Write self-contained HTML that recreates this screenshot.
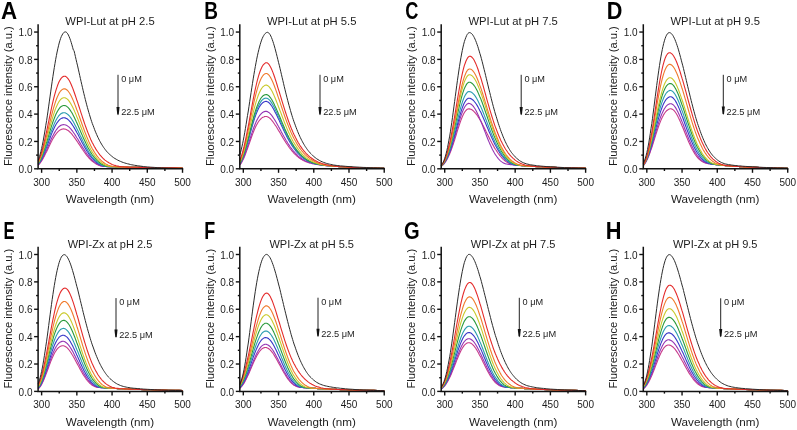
<!DOCTYPE html>
<html><head><meta charset="utf-8"><style>
html,body{margin:0;padding:0;background:#fff;}
svg{display:block;will-change:transform;}
text{font-family:'Liberation Sans',sans-serif;fill:#1c1c1c;}
</style></head><body>
<svg width="797" height="430" viewBox="0 0 797 430">
<rect width="797" height="430" fill="#fff"/>
<g><path d="M38.1,165.3 38.8,164.6 39.5,163.8 40.2,162.9 40.9,162 41.6,160.9 42.3,159.8 43,158.6 43.7,157.3 44.4,155.9 45.1,154.5 45.8,153.1 46.6,151.7 47.3,150.2 48,148.7 48.7,147.2 49.4,145.7 50.1,144.3 50.8,142.8 51.5,141.5 52.2,140.1 52.9,138.8 53.6,137.6 54.3,136.5 55,135.4 55.7,134.4 56.4,133.5 57.1,132.6 57.8,131.9 58.5,131.2 59.2,130.6 59.9,130.1 60.6,129.7 61.3,129.4 62.1,129.1 62.8,129 63.5,128.9 64.2,129 64.9,129.1 65.6,129.3 66.3,129.5 67,129.9 67.7,130.3 68.4,130.8 69.1,131.3 69.8,132 70.5,132.7 71.2,133.4 71.9,134.2 72.6,135.1 73.3,136 74,136.9 74.7,137.9 75.4,138.9 76.1,139.9 76.8,140.9 77.6,142 78.3,143.1 79,144.1 79.7,145.2 80.4,146.3 81.1,147.4 81.8,148.4 82.5,149.5 83.2,150.5 83.9,151.5 84.6,152.5 85.3,153.4 86,154.4 86.7,155.3 87.4,156.1 88.1,157 88.8,157.8 89.5,158.5 90.2,159.3 90.9,160 91.6,160.6 92.3,161.3 93.1,161.8 93.8,162.4 94.5,162.9 95.2,163.4 95.9,163.8 96.6,164.2 97.3,164.6 98,164.9 98.7,165.2 99.4,165.5 100.1,165.7 100.8,165.9 101.5,166.1 102.2,166.2 102.9,166.3 103.6,166.4 104.3,166.4 105,166.5 105.7,166.5 106.4,166.6 107.1,166.6 107.8,166.6 108.5,166.6 109.3,166.7 110,166.7 110.7,166.7 111.4,166.7 112.1,166.7 113.5,166.8 114.9,166.8 116.3,166.9 117.7,166.9 119.1,166.9 120.5,167 121.9,167 123.3,167 124.8,167.1 126.2,167.1 127.6,167.1 129,167.2 130.4,167.2 131.8,167.2 133.2,167.3 134.6,167.3 136,167.3 137.4,167.3 138.8,167.4 140.3,167.4 143.8,167.5 147.3,167.5 150.8,167.6 154.3,167.6 157.9,167.7 161.4,167.8 164.9,167.8 168.4,167.8 172,167.9 175.5,167.9 179,168 182.5,168" fill="none" stroke="#c83a8a" stroke-width="1.1" stroke-linejoin="round"/><path d="M38.1,165 38.8,164.2 39.5,163.3 40.2,162.3 40.9,161.3 41.6,160.1 42.3,158.9 43,157.5 43.7,156.1 44.4,154.6 45.1,153.1 45.8,151.5 46.6,149.9 47.3,148.3 48,146.6 48.7,145 49.4,143.3 50.1,141.7 50.8,140.1 51.5,138.6 52.2,137.1 52.9,135.7 53.6,134.4 54.3,133.1 55,131.9 55.7,130.8 56.4,129.7 57.1,128.8 57.8,127.9 58.5,127.2 59.2,126.5 59.9,126 60.6,125.5 61.3,125.1 62.1,124.9 62.8,124.7 63.5,124.6 64.2,124.7 64.9,124.8 65.6,125 66.3,125.2 67,125.6 67.7,126.1 68.4,126.6 69.1,127.2 69.8,127.9 70.5,128.6 71.2,129.4 71.9,130.3 72.6,131.2 73.3,132.2 74,133.2 74.7,134.3 75.4,135.4 76.1,136.5 76.8,137.7 77.6,138.8 78.3,140 79,141.2 79.7,142.4 80.4,143.6 81.1,144.8 81.8,145.9 82.5,147.1 83.2,148.2 83.9,149.3 84.6,150.4 85.3,151.5 86,152.5 86.7,153.5 87.4,154.5 88.1,155.4 88.8,156.3 89.5,157.2 90.2,158 90.9,158.8 91.6,159.5 92.3,160.2 93.1,160.9 93.8,161.5 94.5,162.1 95.2,162.6 95.9,163.1 96.6,163.6 97.3,164 98,164.4 98.7,164.8 99.4,165.1 100.1,165.4 100.8,165.6 101.5,165.8 102.2,166 102.9,166.2 103.6,166.3 104.3,166.4 105,166.4 105.7,166.5 106.4,166.5 107.1,166.6 107.8,166.6 108.5,166.6 109.3,166.7 110,166.7 110.7,166.7 111.4,166.7 112.1,166.7 113.5,166.8 114.9,166.8 116.3,166.9 117.7,166.9 119.1,166.9 120.5,167 121.9,167 123.3,167 124.8,167.1 126.2,167.1 127.6,167.1 129,167.2 130.4,167.2 131.8,167.2 133.2,167.3 134.6,167.3 136,167.3 137.4,167.3 138.8,167.4 140.3,167.4 143.8,167.5 147.3,167.5 150.8,167.6 154.3,167.6 157.9,167.7 161.4,167.8 164.9,167.8 168.4,167.8 172,167.9 175.5,167.9 179,168 182.5,168" fill="none" stroke="#9435b4" stroke-width="1.1" stroke-linejoin="round"/><path d="M38.1,164.4 38.8,163.5 39.5,162.5 40.2,161.4 40.9,160.2 41.6,158.9 42.3,157.5 43,155.9 43.7,154.3 44.4,152.6 45.1,150.8 45.8,149 46.6,147.2 47.3,145.3 48,143.4 48.7,141.5 49.4,139.6 50.1,137.7 50.8,135.9 51.5,134.1 52.2,132.4 52.9,130.8 53.6,129.2 54.3,127.7 55,126.3 55.7,125 56.4,123.8 57.1,122.7 57.8,121.8 58.5,120.9 59.2,120.1 59.9,119.4 60.6,118.9 61.3,118.4 62.1,118.1 62.8,117.9 63.5,117.8 64.2,117.8 64.9,117.9 65.6,118.1 66.3,118.4 67,118.8 67.7,119.3 68.4,119.9 69.1,120.6 69.8,121.4 70.5,122.2 71.2,123.1 71.9,124.1 72.6,125.2 73.3,126.3 74,127.4 74.7,128.6 75.4,129.9 76.1,131.1 76.8,132.5 77.6,133.8 78.3,135.1 79,136.5 79.7,137.8 80.4,139.2 81.1,140.5 81.8,141.9 82.5,143.2 83.2,144.5 83.9,145.8 84.6,147.1 85.3,148.3 86,149.5 86.7,150.6 87.4,151.8 88.1,152.8 88.8,153.9 89.5,154.9 90.2,155.8 90.9,156.7 91.6,157.6 92.3,158.4 93.1,159.2 93.8,159.9 94.5,160.6 95.2,161.3 95.9,161.9 96.6,162.5 97.3,163 98,163.5 98.7,163.9 99.4,164.3 100.1,164.7 100.8,165 101.5,165.3 102.2,165.6 102.9,165.8 103.6,166 104.3,166.2 105,166.3 105.7,166.4 106.4,166.5 107.1,166.5 107.8,166.6 108.5,166.6 109.3,166.6 110,166.7 110.7,166.7 111.4,166.7 112.1,166.7 113.5,166.8 114.9,166.8 116.3,166.9 117.7,166.9 119.1,166.9 120.5,167 121.9,167 123.3,167 124.8,167.1 126.2,167.1 127.6,167.1 129,167.2 130.4,167.2 131.8,167.2 133.2,167.3 134.6,167.3 136,167.3 137.4,167.3 138.8,167.4 140.3,167.4 143.8,167.5 147.3,167.5 150.8,167.6 154.3,167.6 157.9,167.7 161.4,167.8 164.9,167.8 168.4,167.8 172,167.9 175.5,167.9 179,168 182.5,168" fill="none" stroke="#3737c8" stroke-width="1.1" stroke-linejoin="round"/><path d="M38.1,164 38.8,163.1 39.5,162 40.2,160.8 40.9,159.4 41.6,158 42.3,156.4 43,154.8 43.7,153 44.4,151.1 45.1,149.2 45.8,147.2 46.6,145.2 47.3,143.1 48,141 48.7,138.9 49.4,136.8 50.1,134.8 50.8,132.8 51.5,130.8 52.2,129 52.9,127.2 53.6,125.4 54.3,123.8 55,122.3 55.7,120.8 56.4,119.5 57.1,118.3 57.8,117.2 58.5,116.2 59.2,115.4 59.9,114.6 60.6,114 61.3,113.5 62.1,113.1 62.8,112.9 63.5,112.8 64.2,112.7 64.9,112.8 65.6,113.1 66.3,113.4 67,113.8 67.7,114.4 68.4,115 69.1,115.7 69.8,116.5 70.5,117.4 71.2,118.4 71.9,119.5 72.6,120.6 73.3,121.8 74,123.1 74.7,124.4 75.4,125.7 76.1,127.1 76.8,128.5 77.6,130 78.3,131.4 79,132.9 79.7,134.4 80.4,135.9 81.1,137.3 81.8,138.8 82.5,140.3 83.2,141.7 83.9,143.1 84.6,144.5 85.3,145.8 86,147.1 86.7,148.4 87.4,149.6 88.1,150.8 88.8,152 89.5,153.1 90.2,154.1 90.9,155.1 91.6,156.1 92.3,157 93.1,157.9 93.8,158.7 94.5,159.5 95.2,160.2 95.9,160.9 96.6,161.5 97.3,162.1 98,162.7 98.7,163.2 99.4,163.7 100.1,164.1 100.8,164.5 101.5,164.9 102.2,165.2 102.9,165.5 103.6,165.7 104.3,165.9 105,166.1 105.7,166.2 106.4,166.4 107.1,166.4 107.8,166.5 108.5,166.6 109.3,166.6 110,166.7 110.7,166.7 111.4,166.7 112.1,166.7 113.5,166.8 114.9,166.8 116.3,166.9 117.7,166.9 119.1,166.9 120.5,167 121.9,167 123.3,167 124.8,167.1 126.2,167.1 127.6,167.1 129,167.2 130.4,167.2 131.8,167.2 133.2,167.3 134.6,167.3 136,167.3 137.4,167.3 138.8,167.4 140.3,167.4 143.8,167.5 147.3,167.5 150.8,167.6 154.3,167.6 157.9,167.7 161.4,167.8 164.9,167.8 168.4,167.8 172,167.9 175.5,167.9 179,168 182.5,168" fill="none" stroke="#2b9db0" stroke-width="1.1" stroke-linejoin="round"/><path d="M38.1,163.5 38.8,162.4 39.5,161.2 40.2,159.9 40.9,158.4 41.6,156.8 42.3,155 43,153.1 43.7,151.1 44.4,149.1 45.1,146.9 45.8,144.6 46.6,142.3 47.3,140 48,137.7 48.7,135.3 49.4,133 50.1,130.7 50.8,128.4 51.5,126.2 52.2,124.1 52.9,122 53.6,120.1 54.3,118.2 55,116.5 55.7,114.8 56.4,113.3 57.1,111.9 57.8,110.7 58.5,109.6 59.2,108.6 59.9,107.7 60.6,107 61.3,106.4 62.1,106 62.8,105.7 63.5,105.5 64.2,105.5 64.9,105.6 65.6,105.8 66.3,106.1 67,106.6 67.7,107.2 68.4,107.9 69.1,108.7 69.8,109.6 70.5,110.6 71.2,111.7 71.9,112.8 72.6,114.1 73.3,115.4 74,116.8 74.7,118.2 75.4,119.7 76.1,121.3 76.8,122.8 77.6,124.5 78.3,126.1 79,127.7 79.7,129.4 80.4,131 81.1,132.7 81.8,134.3 82.5,135.9 83.2,137.5 83.9,139.1 84.6,140.6 85.3,142.1 86,143.6 86.7,145 87.4,146.4 88.1,147.8 88.8,149 89.5,150.3 90.2,151.5 90.9,152.6 91.6,153.7 92.3,154.8 93.1,155.8 93.8,156.7 94.5,157.6 95.2,158.4 95.9,159.2 96.6,160 97.3,160.7 98,161.3 98.7,162 99.4,162.5 100.1,163 100.8,163.5 101.5,164 102.2,164.4 102.9,164.8 103.6,165.1 104.3,165.4 105,165.6 105.7,165.9 106.4,166.1 107.1,166.2 107.8,166.3 108.5,166.5 109.3,166.5 110,166.6 110.7,166.6 111.4,166.7 112.1,166.7 113.5,166.8 114.9,166.8 116.3,166.9 117.7,166.9 119.1,166.9 120.5,167 121.9,167 123.3,167 124.8,167.1 126.2,167.1 127.6,167.1 129,167.2 130.4,167.2 131.8,167.2 133.2,167.3 134.6,167.3 136,167.3 137.4,167.3 138.8,167.4 140.3,167.4 143.8,167.5 147.3,167.5 150.8,167.6 154.3,167.6 157.9,167.7 161.4,167.8 164.9,167.8 168.4,167.8 172,167.9 175.5,167.9 179,168 182.5,168" fill="none" stroke="#2a9a3c" stroke-width="1.1" stroke-linejoin="round"/><path d="M38.1,163 38.8,161.8 39.5,160.4 40.2,158.9 40.9,157.3 41.6,155.5 42.3,153.5 43,151.4 43.7,149.2 44.4,146.9 45.1,144.4 45.8,141.9 46.6,139.4 47.3,136.8 48,134.1 48.7,131.5 49.4,128.9 50.1,126.3 50.8,123.7 51.5,121.3 52.2,118.9 52.9,116.6 53.6,114.4 54.3,112.3 55,110.3 55.7,108.4 56.4,106.7 57.1,105.2 57.8,103.7 58.5,102.5 59.2,101.3 59.9,100.4 60.6,99.5 61.3,98.9 62.1,98.3 62.8,98 63.5,97.8 64.2,97.7 64.9,97.8 65.6,98 66.3,98.4 67,98.9 67.7,99.5 68.4,100.2 69.1,101.1 69.8,102.1 70.5,103.2 71.2,104.4 71.9,105.7 72.6,107 73.3,108.5 74,110 74.7,111.6 75.4,113.3 76.1,114.9 76.8,116.7 77.6,118.5 78.3,120.2 79,122 79.7,123.9 80.4,125.7 81.1,127.5 81.8,129.3 82.5,131.1 83.2,132.9 83.9,134.6 84.6,136.3 85.3,138 86,139.6 86.7,141.2 87.4,142.7 88.1,144.2 88.8,145.7 89.5,147.1 90.2,148.4 90.9,149.7 91.6,150.9 92.3,152.1 93.1,153.2 93.8,154.3 94.5,155.3 95.2,156.3 95.9,157.2 96.6,158.1 97.3,158.9 98,159.6 98.7,160.3 99.4,161 100.1,161.6 100.8,162.2 101.5,162.8 102.2,163.3 102.9,163.7 103.6,164.1 104.3,164.5 105,164.9 105.7,165.2 106.4,165.5 107.1,165.7 107.8,165.9 108.5,166.1 109.3,166.3 110,166.4 110.7,166.5 111.4,166.6 112.1,166.6 113.5,166.7 114.9,166.8 116.3,166.9 117.7,166.9 119.1,166.9 120.5,167 121.9,167 123.3,167 124.8,167.1 126.2,167.1 127.6,167.1 129,167.2 130.4,167.2 131.8,167.2 133.2,167.3 134.6,167.3 136,167.3 137.4,167.3 138.8,167.4 140.3,167.4 143.8,167.5 147.3,167.5 150.8,167.6 154.3,167.6 157.9,167.7 161.4,167.8 164.9,167.8 168.4,167.8 172,167.9 175.5,167.9 179,168 182.5,168" fill="none" stroke="#c9c92a" stroke-width="1.1" stroke-linejoin="round"/><path d="M38.1,162.4 38.8,161 39.5,159.5 40.2,157.9 40.9,156 41.6,154 42.3,151.8 43,149.5 43.7,147 44.4,144.5 45.1,141.7 45.8,138.9 46.6,136.1 47.3,133.1 48,130.2 48.7,127.2 49.4,124.3 50.1,121.4 50.8,118.5 51.5,115.7 52.2,113 52.9,110.4 53.6,107.9 54.3,105.6 55,103.3 55.7,101.2 56.4,99.3 57.1,97.5 57.8,95.9 58.5,94.4 59.2,93.1 59.9,92 60.6,91 61.3,90.3 62.1,89.6 62.8,89.2 63.5,88.9 64.2,88.8 64.9,88.9 65.6,89.1 66.3,89.5 67,90 67.7,90.7 68.4,91.5 69.1,92.5 69.8,93.5 70.5,94.8 71.2,96.1 71.9,97.5 72.6,99 73.3,100.6 74,102.3 74.7,104.1 75.4,105.9 76.1,107.8 76.8,109.7 77.6,111.6 78.3,113.6 79,115.6 79.7,117.5 80.4,119.5 81.1,121.5 81.8,123.5 82.5,125.5 83.2,127.4 83.9,129.3 84.6,131.2 85.3,133 86,134.8 86.7,136.6 87.4,138.3 88.1,139.9 88.8,141.5 89.5,143 90.2,144.5 90.9,146 91.6,147.3 92.3,148.7 93.1,149.9 93.8,151.1 94.5,152.3 95.2,153.4 95.9,154.4 96.6,155.4 97.3,156.3 98,157.2 98.7,158 99.4,158.8 100.1,159.5 100.8,160.2 101.5,160.8 102.2,161.5 102.9,162 103.6,162.5 104.3,163 105,163.5 105.7,163.9 106.4,164.3 107.1,164.6 107.8,165 108.5,165.3 109.3,165.5 110,165.7 110.7,166 111.4,166.1 112.1,166.3 113.5,166.5 114.9,166.7 116.3,166.8 117.7,166.9 119.1,166.9 120.5,167 121.9,167 123.3,167 124.8,167.1 126.2,167.1 127.6,167.1 129,167.2 130.4,167.2 131.8,167.2 133.2,167.3 134.6,167.3 136,167.3 137.4,167.3 138.8,167.4 140.3,167.4 143.8,167.5 147.3,167.5 150.8,167.6 154.3,167.6 157.9,167.7 161.4,167.8 164.9,167.8 168.4,167.8 172,167.9 175.5,167.9 179,168 182.5,168" fill="none" stroke="#f07a2c" stroke-width="1.1" stroke-linejoin="round"/><path d="M38.1,161.5 38.8,160 39.5,158.3 40.2,156.5 40.9,154.4 41.6,152.1 42.3,149.6 43,146.9 43.7,144.1 44.4,141.1 45.1,138 45.8,134.8 46.6,131.5 47.3,128.1 48,124.7 48.7,121.3 49.4,117.9 50.1,114.6 50.8,111.3 51.5,108 52.2,104.9 52.9,101.8 53.6,98.9 54.3,96.2 55,93.6 55.7,91.1 56.4,88.9 57.1,86.8 57.8,84.8 58.5,83.1 59.2,81.6 59.9,80.2 60.6,79.1 61.3,78.1 62.1,77.3 62.8,76.8 63.5,76.4 64.2,76.2 64.9,76.2 65.6,76.4 66.3,76.9 67,77.5 67.7,78.3 68.4,79.2 69.1,80.3 69.8,81.6 70.5,83 71.2,84.5 71.9,86.2 72.6,87.9 73.3,89.8 74,91.7 74.7,93.7 75.4,95.7 76.1,97.8 76.8,100 77.6,102.1 78.3,104.3 79,106.5 79.7,108.7 80.4,110.9 81.1,113.1 81.8,115.2 82.5,117.4 83.2,119.5 83.9,121.5 84.6,123.6 85.3,125.6 86,127.5 86.7,129.4 87.4,131.3 88.1,133.1 88.8,134.8 89.5,136.5 90.2,138.1 90.9,139.7 91.6,141.2 92.3,142.7 93.1,144.1 93.8,145.4 94.5,146.7 95.2,147.9 95.9,149.1 96.6,150.2 97.3,151.3 98,152.3 98.7,153.3 99.4,154.2 100.1,155.1 100.8,155.9 101.5,156.7 102.2,157.5 102.9,158.2 103.6,158.8 104.3,159.5 105,160.1 105.7,160.6 106.4,161.1 107.1,161.6 107.8,162.1 108.5,162.5 109.3,163 110,163.3 110.7,163.7 111.4,164 112.1,164.4 113.5,164.9 114.9,165.4 116.3,165.8 117.7,166.1 119.1,166.4 120.5,166.6 121.9,166.8 123.3,166.9 124.8,167 126.2,167.1 127.6,167.1 129,167.2 130.4,167.2 131.8,167.2 133.2,167.3 134.6,167.3 136,167.3 137.4,167.3 138.8,167.4 140.3,167.4 143.8,167.5 147.3,167.5 150.8,167.6 154.3,167.6 157.9,167.7 161.4,167.8 164.9,167.8 168.4,167.8 172,167.9 175.5,167.9 179,168 182.5,168" fill="none" stroke="#e42b2b" stroke-width="1.1" stroke-linejoin="round"/><path d="M38.1,160.4 38.8,158.6 39.5,156.5 40.2,154.1 40.9,151.5 41.6,148.5 42.3,145.3 43,141.8 43.7,138 44.4,134 45.1,129.8 45.8,125.3 46.6,120.7 47.3,115.9 48,111.1 48.7,106.1 49.4,101.1 50.1,96.1 50.8,91.1 51.5,86.1 52.2,81.3 52.9,76.6 53.6,72 54.3,67.6 55,63.4 55.7,59.3 56.4,55.6 57.1,52 57.8,48.8 58.5,45.8 59.2,43 59.9,40.6 60.6,38.4 61.3,36.6 62.1,35 62.8,33.8 63.5,32.9 64.2,32.2 64.9,31.9 65.6,31.9 66.3,32.2 67,32.8 67.7,33.8 68.4,35 69.1,36.6 69.8,38.3 70.5,40.3 71.2,42.4 71.9,44.8 72.6,47.3 73.3,49.9 74,50.5 74.7,53.5 75.4,56.5 76.1,59.6 76.8,62.7 77.6,65.9 78.3,69.1 79,72.2 79.7,75.4 80.4,78.5 81.1,81.6 81.8,84.7 82.5,87.7 83.2,90.7 83.9,93.7 84.6,96.5 85.3,99.4 86,102.1 86.7,104.8 87.4,107.4 88.1,109.9 88.8,112.4 89.5,114.7 90.2,117 90.9,119.3 91.6,121.4 92.3,123.5 93.1,125.5 93.8,127.4 94.5,129.3 95.2,131.1 95.9,132.8 96.6,134.4 97.3,136 98,137.5 98.7,138.9 99.4,140.3 100.1,141.6 100.8,142.9 101.5,144.1 102.2,145.2 102.9,146.3 103.6,147.4 104.3,148.3 105,149.3 105.7,150.2 106.4,151 107.1,151.9 107.8,152.6 108.5,153.4 109.3,154.1 110,154.7 110.7,155.3 111.4,155.9 112.1,156.5 113.5,157.6 114.9,158.5 116.3,159.3 117.7,160.1 119.1,160.8 120.5,161.4 121.9,162 123.3,162.5 124.8,163 126.2,163.4 127.6,163.8 129,164.1 130.4,164.5 131.8,164.8 133.2,165 134.6,165.3 136,165.5 137.4,165.7 138.8,165.9 140.3,166.1 143.8,166.6 147.3,166.9 150.8,167.2 154.3,167.4 157.9,167.7 161.4,167.8 164.9,168 168.4,168.1 172,168.2 175.5,168.3 179,168.4 182.5,168.4" fill="none" stroke="#2c2c2c" stroke-width="1.0" stroke-linejoin="round"/><path d="M38.10,24.20V168.80H183.22" fill="none" stroke="#111" stroke-width="1.5" stroke-linecap="butt"/><path d="M34.10,168.80H38.10" stroke="#111" stroke-width="1.4"/><text x="32.50" y="172.90" text-anchor="end" font-size="10">0.0</text><path d="M36.10,155.12H38.10" stroke="#111" stroke-width="1.4"/><path d="M34.10,141.45H38.10" stroke="#111" stroke-width="1.4"/><text x="32.50" y="145.55" text-anchor="end" font-size="10">0.2</text><path d="M36.10,127.78H38.10" stroke="#111" stroke-width="1.4"/><path d="M34.10,114.10H38.10" stroke="#111" stroke-width="1.4"/><text x="32.50" y="118.20" text-anchor="end" font-size="10">0.4</text><path d="M36.10,100.43H38.10" stroke="#111" stroke-width="1.4"/><path d="M34.10,86.75H38.10" stroke="#111" stroke-width="1.4"/><text x="32.50" y="90.85" text-anchor="end" font-size="10">0.6</text><path d="M36.10,73.08H38.10" stroke="#111" stroke-width="1.4"/><path d="M34.10,59.40H38.10" stroke="#111" stroke-width="1.4"/><text x="32.50" y="63.50" text-anchor="end" font-size="10">0.8</text><path d="M36.10,45.73H38.10" stroke="#111" stroke-width="1.4"/><path d="M34.10,32.05H38.10" stroke="#111" stroke-width="1.4"/><text x="32.50" y="36.15" text-anchor="end" font-size="10">1.0</text><path d="M41.62,168.80V172.80" stroke="#111" stroke-width="1.4"/><text x="41.62" y="185.70" text-anchor="middle" font-size="10">300</text><path d="M59.23,168.80V171.00" stroke="#111" stroke-width="1.4"/><path d="M76.85,168.80V172.80" stroke="#111" stroke-width="1.4"/><text x="76.85" y="185.70" text-anchor="middle" font-size="10">350</text><path d="M94.46,168.80V171.00" stroke="#111" stroke-width="1.4"/><path d="M112.07,168.80V172.80" stroke="#111" stroke-width="1.4"/><text x="112.07" y="185.70" text-anchor="middle" font-size="10">400</text><path d="M129.69,168.80V171.00" stroke="#111" stroke-width="1.4"/><path d="M147.30,168.80V172.80" stroke="#111" stroke-width="1.4"/><text x="147.30" y="185.70" text-anchor="middle" font-size="10">450</text><path d="M164.91,168.80V171.00" stroke="#111" stroke-width="1.4"/><path d="M182.52,168.80V172.80" stroke="#111" stroke-width="1.4"/><text x="182.52" y="185.70" text-anchor="middle" font-size="10">500</text><text x="110.01" y="203.20" text-anchor="middle" font-size="11" textLength="88.4" lengthAdjust="spacingAndGlyphs">Wavelength (nm)</text><text x="110.01" y="25.10" text-anchor="middle" font-size="11" textLength="89.4" lengthAdjust="spacingAndGlyphs">WPI-Lut at pH 2.5</text><text transform="translate(12.20,96.10) rotate(-90)" text-anchor="middle" font-size="11" textLength="139.8" lengthAdjust="spacingAndGlyphs">Fluorescence intensity (a.u.)</text><text transform="translate(1.04,18.50) scale(0.951,1)" font-size="23.5" font-weight="bold" style="fill:#000">A</text><path d="M118.00,74.80V109.20" stroke="#222" stroke-width="1"/><path d="M116.45,106.90L119.55,106.90L118.80,114.00L118.00,115.20L117.20,114.00Z" fill="#111"/><text x="121.20" y="81.70" font-size="9" textLength="20.6" lengthAdjust="spacingAndGlyphs">0 μM</text><text x="121.20" y="115.20" font-size="9" textLength="33.6" lengthAdjust="spacingAndGlyphs">22.5 μM</text></g><g><path d="M239.8,165 240.5,164.1 241.2,163.1 241.9,161.9 242.6,160.6 243.3,159.2 244,157.7 244.7,156 245.4,154.2 246.1,152.4 246.8,150.4 247.5,148.5 248.3,146.4 249,144.4 249.7,142.3 250.4,140.3 251.1,138.3 251.8,136.3 252.5,134.4 253.2,132.6 253.9,130.8 254.6,129.1 255.3,127.6 256,126.1 256.7,124.7 257.4,123.5 258.1,122.3 258.8,121.3 259.5,120.3 260.2,119.5 260.9,118.8 261.6,118.1 262.3,117.6 263,117.2 263.8,116.9 264.5,116.6 265.2,116.5 265.9,116.5 266.6,116.5 267.3,116.7 268,117 268.7,117.4 269.4,117.9 270.1,118.5 270.8,119.2 271.5,120 272.2,120.8 272.9,121.7 273.6,122.7 274.3,123.7 275,124.8 275.7,125.7 276.4,126.8 277.1,128 277.8,129.2 278.5,130.4 279.3,131.6 280,132.8 280.7,134 281.4,135.2 282.1,136.4 282.8,137.6 283.5,138.7 284.2,139.9 284.9,141 285.6,142.1 286.3,143.2 287,144.3 287.7,145.3 288.4,146.3 289.1,147.3 289.8,148.2 290.5,149.2 291.2,150 291.9,150.9 292.6,151.7 293.3,152.5 294,153.3 294.8,154 295.5,154.7 296.2,155.4 296.9,156 297.6,156.6 298.3,157.2 299,157.7 299.7,158.2 300.4,158.7 301.1,159.2 301.8,159.6 302.5,160 303.2,160.4 303.9,160.7 304.6,161.1 305.3,161.4 306,161.7 306.7,161.9 307.4,162.2 308.1,162.4 308.8,162.7 309.5,162.9 310.2,163 311,163.2 311.7,163.4 312.4,163.6 313.1,163.7 313.8,163.8 315.2,164.1 316.6,164.3 318,164.6 319.4,164.8 320.8,164.9 322.2,165.1 323.6,165.3 325,165.4 326.5,165.6 327.9,165.7 329.3,165.9 330.7,166 332.1,166.1 333.5,166.2 334.9,166.3 336.3,166.4 337.7,166.5 339.1,166.6 340.5,166.7 342,166.8 345.5,167 349,167.2 352.5,167.4 356,167.5 359.6,167.7 363.1,167.8 366.6,167.9 370.1,168 373.7,168.1 377.2,168.1 380.7,168.2 384.2,168.3" fill="none" stroke="#c83a8a" stroke-width="1.1" stroke-linejoin="round"/><path d="M239.8,164.6 240.5,163.6 241.2,162.5 241.9,161.3 242.6,159.9 243.3,158.3 244,156.6 244.7,154.8 245.4,152.9 246.1,150.9 246.8,148.8 247.5,146.6 248.3,144.4 249,142.2 249.7,139.9 250.4,137.7 251.1,135.5 251.8,133.4 252.5,131.3 253.2,129.3 253.9,127.3 254.6,125.5 255.3,123.8 256,122.1 256.7,120.6 257.4,119.2 258.1,117.9 258.8,116.8 259.5,115.7 260.2,114.8 260.9,114 261.6,113.3 262.3,112.7 263,112.2 263.8,111.8 264.5,111.6 265.2,111.4 265.9,111.4 266.6,111.4 267.3,111.6 268,112 268.7,112.4 269.4,112.9 270.1,113.6 270.8,114.4 271.5,115.2 272.2,116.1 272.9,117.1 273.6,118.2 274.3,119.3 275,120.4 275.7,121.5 276.4,122.7 277.1,124 277.8,125.3 278.5,126.6 279.3,127.9 280,129.2 280.7,130.5 281.4,131.9 282.1,133.2 282.8,134.5 283.5,135.7 284.2,137 284.9,138.2 285.6,139.5 286.3,140.7 287,141.8 287.7,143 288.4,144.1 289.1,145.1 289.8,146.2 290.5,147.2 291.2,148.2 291.9,149.1 292.6,150 293.3,150.9 294,151.7 294.8,152.5 295.5,153.3 296.2,154 296.9,154.7 297.6,155.4 298.3,156.1 299,156.7 299.7,157.2 300.4,157.8 301.1,158.3 301.8,158.8 302.5,159.3 303.2,159.7 303.9,160.1 304.6,160.5 305.3,160.9 306,161.2 306.7,161.5 307.4,161.8 308.1,162.1 308.8,162.4 309.5,162.6 310.2,162.8 311,163 311.7,163.2 312.4,163.4 313.1,163.6 313.8,163.7 315.2,164 316.6,164.3 318,164.5 319.4,164.7 320.8,164.9 322.2,165.1 323.6,165.3 325,165.4 326.5,165.6 327.9,165.7 329.3,165.9 330.7,166 332.1,166.1 333.5,166.2 334.9,166.3 336.3,166.4 337.7,166.5 339.1,166.6 340.5,166.7 342,166.8 345.5,167 349,167.2 352.5,167.4 356,167.5 359.6,167.7 363.1,167.8 366.6,167.9 370.1,168 373.7,168.1 377.2,168.1 380.7,168.2 384.2,168.3" fill="none" stroke="#9435b4" stroke-width="1.1" stroke-linejoin="round"/><path d="M239.8,163.8 240.5,162.7 241.2,161.4 241.9,159.9 242.6,158.3 243.3,156.5 244,154.6 244.7,152.5 245.4,150.3 246.1,148 246.8,145.6 247.5,143.1 248.3,140.5 249,137.9 249.7,135.3 250.4,132.7 251.1,130.2 251.8,127.7 252.5,125.2 253.2,122.9 253.9,120.6 254.6,118.4 255.3,116.4 256,114.4 256.7,112.6 257.4,111 258.1,109.4 258.8,108 259.5,106.8 260.2,105.6 260.9,104.7 261.6,103.8 262.3,103.1 263,102.5 263.8,102 264.5,101.7 265.2,101.5 265.9,101.4 266.6,101.4 267.3,101.7 268,102 268.7,102.5 269.4,103.1 270.1,103.9 270.8,104.8 271.5,105.8 272.2,106.8 272.9,108 273.6,109.2 274.3,110.5 275,111.9 275.7,113.2 276.4,114.6 277.1,116.1 277.8,117.6 278.5,119.1 279.3,120.6 280,122.2 280.7,123.7 281.4,125.3 282.1,126.8 282.8,128.3 283.5,129.8 284.2,131.3 284.9,132.7 285.6,134.1 286.3,135.5 287,136.9 287.7,138.2 288.4,139.5 289.1,140.8 289.8,142 290.5,143.2 291.2,144.3 291.9,145.4 292.6,146.5 293.3,147.5 294,148.5 294.8,149.5 295.5,150.4 296.2,151.3 296.9,152.1 297.6,152.9 298.3,153.7 299,154.4 299.7,155.1 300.4,155.8 301.1,156.4 301.8,157 302.5,157.6 303.2,158.1 303.9,158.7 304.6,159.1 305.3,159.6 306,160 306.7,160.5 307.4,160.8 308.1,161.2 308.8,161.5 309.5,161.8 310.2,162.1 311,162.4 311.7,162.7 312.4,162.9 313.1,163.1 313.8,163.4 315.2,163.7 316.6,164.1 318,164.3 319.4,164.6 320.8,164.8 322.2,165 323.6,165.2 325,165.4 326.5,165.6 327.9,165.7 329.3,165.8 330.7,166 332.1,166.1 333.5,166.2 334.9,166.3 336.3,166.4 337.7,166.5 339.1,166.6 340.5,166.7 342,166.8 345.5,167 349,167.2 352.5,167.4 356,167.5 359.6,167.7 363.1,167.8 366.6,167.9 370.1,168 373.7,168.1 377.2,168.1 380.7,168.2 384.2,168.3" fill="none" stroke="#3737c8" stroke-width="1.1" stroke-linejoin="round"/><path d="M239.8,163.6 240.5,162.4 241.2,161 241.9,159.5 242.6,157.8 243.3,156 244,153.9 244.7,151.8 245.4,149.5 246.1,147 246.8,144.5 247.5,141.9 248.3,139.2 249,136.5 249.7,133.8 250.4,131.1 251.1,128.4 251.8,125.8 252.5,123.3 253.2,120.8 253.9,118.4 254.6,116.1 255.3,114 256,111.9 256.7,110 257.4,108.3 258.1,106.7 258.8,105.2 259.5,103.9 260.2,102.7 260.9,101.6 261.6,100.7 262.3,99.9 263,99.3 263.8,98.8 264.5,98.4 265.2,98.2 265.9,98.1 266.6,98.2 267.3,98.4 268,98.7 268.7,99.3 269.4,99.9 270.1,100.7 270.8,101.6 271.5,102.6 272.2,103.8 272.9,105 273.6,106.3 274.3,107.6 275,109 275.7,110.4 276.4,111.9 277.1,113.5 277.8,115.1 278.5,116.6 279.3,118.2 280,119.9 280.7,121.5 281.4,123.1 282.1,124.7 282.8,126.2 283.5,127.8 284.2,129.3 284.9,130.9 285.6,132.4 286.3,133.8 287,135.2 287.7,136.6 288.4,138 289.1,139.3 289.8,140.6 290.5,141.8 291.2,143 291.9,144.2 292.6,145.3 293.3,146.4 294,147.4 294.8,148.4 295.5,149.4 296.2,150.3 296.9,151.2 297.6,152 298.3,152.8 299,153.6 299.7,154.4 300.4,155.1 301.1,155.7 301.8,156.4 302.5,157 303.2,157.6 303.9,158.1 304.6,158.6 305.3,159.1 306,159.6 306.7,160 307.4,160.4 308.1,160.8 308.8,161.2 309.5,161.5 310.2,161.9 311,162.2 311.7,162.4 312.4,162.7 313.1,162.9 313.8,163.2 315.2,163.6 316.6,163.9 318,164.3 319.4,164.5 320.8,164.8 322.2,165 323.6,165.2 325,165.4 326.5,165.5 327.9,165.7 329.3,165.8 330.7,166 332.1,166.1 333.5,166.2 334.9,166.3 336.3,166.4 337.7,166.5 339.1,166.6 340.5,166.7 342,166.8 345.5,167 349,167.2 352.5,167.4 356,167.5 359.6,167.7 363.1,167.8 366.6,167.9 370.1,168 373.7,168.1 377.2,168.1 380.7,168.2 384.2,168.3" fill="none" stroke="#2b9db0" stroke-width="1.1" stroke-linejoin="round"/><path d="M239.8,163.3 240.5,162 241.2,160.6 241.9,159 242.6,157.3 243.3,155.3 244,153.2 244.7,151 245.4,148.5 246.1,146 246.8,143.4 247.5,140.7 248.3,137.9 249,135.1 249.7,132.2 250.4,129.4 251.1,126.6 251.8,123.8 252.5,121.2 253.2,118.6 253.9,116 254.6,113.7 255.3,111.4 256,109.2 256.7,107.2 257.4,105.4 258.1,103.7 258.8,102.1 259.5,100.7 260.2,99.4 260.9,98.3 261.6,97.3 262.3,96.5 263,95.8 263.8,95.3 264.5,94.9 265.2,94.7 265.9,94.6 266.6,94.6 267.3,94.8 268,95.2 268.7,95.7 269.4,96.4 270.1,97.3 270.8,98.2 271.5,99.3 272.2,100.4 272.9,101.7 273.6,103.1 274.3,104.5 275,106 275.7,107.4 276.4,109 277.1,110.6 277.8,112.3 278.5,114 279.3,115.6 280,117.3 280.7,119 281.4,120.7 282.1,122.4 282.8,124 283.5,125.7 284.2,127.3 284.9,128.9 285.6,130.4 286.3,131.9 287,133.4 287.7,134.9 288.4,136.3 289.1,137.7 289.8,139 290.5,140.3 291.2,141.6 291.9,142.8 292.6,144 293.3,145.1 294,146.2 294.8,147.3 295.5,148.3 296.2,149.2 296.9,150.2 297.6,151.1 298.3,151.9 299,152.7 299.7,153.5 300.4,154.3 301.1,155 301.8,155.7 302.5,156.3 303.2,156.9 303.9,157.5 304.6,158.1 305.3,158.6 306,159.1 306.7,159.5 307.4,160 308.1,160.4 308.8,160.8 309.5,161.2 310.2,161.5 311,161.8 311.7,162.2 312.4,162.4 313.1,162.7 313.8,163 315.2,163.4 316.6,163.8 318,164.1 319.4,164.4 320.8,164.7 322.2,164.9 323.6,165.2 325,165.3 326.5,165.5 327.9,165.7 329.3,165.8 330.7,166 332.1,166.1 333.5,166.2 334.9,166.3 336.3,166.4 337.7,166.5 339.1,166.6 340.5,166.7 342,166.8 345.5,167 349,167.2 352.5,167.4 356,167.5 359.6,167.7 363.1,167.8 366.6,167.9 370.1,168 373.7,168.1 377.2,168.1 380.7,168.2 384.2,168.3" fill="none" stroke="#2a9a3c" stroke-width="1.1" stroke-linejoin="round"/><path d="M239.8,162.5 240.5,161.1 241.2,159.5 241.9,157.7 242.6,155.8 243.3,153.6 244,151.3 244.7,148.8 245.4,146.1 246.1,143.3 246.8,140.4 247.5,137.4 248.3,134.3 249,131.2 249.7,128 250.4,124.9 251.1,121.7 251.8,118.7 252.5,115.7 253.2,112.7 253.9,109.9 254.6,107.2 255.3,104.6 256,102.2 256.7,99.9 257.4,97.8 258.1,95.8 258.8,94 259.5,92.4 260.2,90.9 260.9,89.6 261.6,88.5 262.3,87.5 263,86.7 263.8,86.1 264.5,85.6 265.2,85.3 265.9,85.1 266.6,85.1 267.3,85.4 268,85.8 268.7,86.4 269.4,87.1 270.1,88.1 270.8,89.1 271.5,90.3 272.2,91.6 272.9,93 273.6,94.5 274.3,96.1 275,97.8 275.7,99.5 276.4,101.3 277.1,103.1 277.8,104.9 278.5,106.8 279.3,108.7 280,110.6 280.7,112.4 281.4,114.3 282.1,116.2 282.8,118 283.5,119.9 284.2,121.7 284.9,123.5 285.6,125.2 286.3,126.9 287,128.6 287.7,130.2 288.4,131.8 289.1,133.3 289.8,134.8 290.5,136.3 291.2,137.7 291.9,139.1 292.6,140.4 293.3,141.7 294,142.9 294.8,144.1 295.5,145.2 296.2,146.3 296.9,147.4 297.6,148.4 298.3,149.3 299,150.3 299.7,151.2 300.4,152 301.1,152.8 301.8,153.6 302.5,154.3 303.2,155.1 303.9,155.7 304.6,156.4 305.3,157 306,157.6 306.7,158.1 307.4,158.6 308.1,159.1 308.8,159.6 309.5,160 310.2,160.5 311,160.8 311.7,161.2 312.4,161.6 313.1,161.9 313.8,162.2 315.2,162.8 316.6,163.3 318,163.7 319.4,164.1 320.8,164.4 322.2,164.7 323.6,165 325,165.2 326.5,165.4 327.9,165.6 329.3,165.8 330.7,165.9 332.1,166.1 333.5,166.2 334.9,166.3 336.3,166.4 337.7,166.5 339.1,166.6 340.5,166.7 342,166.8 345.5,167 349,167.2 352.5,167.4 356,167.5 359.6,167.7 363.1,167.8 366.6,167.9 370.1,168 373.7,168.1 377.2,168.1 380.7,168.2 384.2,168.3" fill="none" stroke="#c9c92a" stroke-width="1.1" stroke-linejoin="round"/><path d="M239.8,161.4 240.5,159.9 241.2,158.1 241.9,156.1 242.6,153.9 243.3,151.5 244,148.9 244.7,146.1 245.4,143.2 246.1,140.1 246.8,136.8 247.5,133.5 248.3,130 249,126.5 249.7,123 250.4,119.4 251.1,115.9 251.8,112.5 252.5,109 253.2,105.7 253.9,102.5 254.6,99.4 255.3,96.5 256,93.7 256.7,91 257.4,88.6 258.1,86.3 258.8,84.2 259.5,82.3 260.2,80.5 260.9,79 261.6,77.6 262.3,76.5 263,75.5 263.8,74.7 264.5,74.1 265.2,73.7 265.9,73.5 266.6,73.5 267.3,73.7 268,74.2 268.7,74.8 269.4,75.7 270.1,76.7 270.8,77.9 271.5,79.2 272.2,80.7 272.9,82.3 273.6,84 274.3,85.8 275,87.7 275.7,89.6 276.4,91.6 277.1,93.7 277.8,95.8 278.5,97.9 279.3,100 280,102.1 280.7,104.3 281.4,106.4 282.1,108.5 282.8,110.6 283.5,112.7 284.2,114.7 284.9,116.7 285.6,118.7 286.3,120.6 287,122.5 287.7,124.3 288.4,126.1 289.1,127.8 289.8,129.5 290.5,131.2 291.2,132.8 291.9,134.3 292.6,135.8 293.3,137.2 294,138.6 294.8,140 295.5,141.3 296.2,142.5 296.9,143.7 297.6,144.9 298.3,146 299,147 299.7,148.1 300.4,149 301.1,150 301.8,150.9 302.5,151.7 303.2,152.5 303.9,153.3 304.6,154 305.3,154.8 306,155.4 306.7,156.1 307.4,156.7 308.1,157.3 308.8,157.8 309.5,158.4 310.2,158.9 311,159.3 311.7,159.8 312.4,160.2 313.1,160.6 313.8,161 315.2,161.7 316.6,162.4 318,162.9 319.4,163.4 320.8,163.9 322.2,164.3 323.6,164.6 325,164.9 326.5,165.2 327.9,165.4 329.3,165.6 330.7,165.8 332.1,166 333.5,166.1 334.9,166.3 336.3,166.4 337.7,166.5 339.1,166.6 340.5,166.7 342,166.8 345.5,167 349,167.2 352.5,167.4 356,167.5 359.6,167.7 363.1,167.8 366.6,167.9 370.1,168 373.7,168.1 377.2,168.1 380.7,168.2 384.2,168.3" fill="none" stroke="#f07a2c" stroke-width="1.1" stroke-linejoin="round"/><path d="M239.8,160.4 240.5,158.6 241.2,156.7 241.9,154.5 242.6,152.1 243.3,149.5 244,146.7 244.7,143.6 245.4,140.4 246.1,137 246.8,133.5 247.5,129.9 248.3,126.1 249,122.3 249.7,118.4 250.4,114.6 251.1,110.7 251.8,106.9 252.5,103.1 253.2,99.4 253.9,95.9 254.6,92.4 255.3,89.1 256,86 256.7,83 257.4,80.2 258.1,77.6 258.8,75.2 259.5,73 260.2,71 260.9,69.3 261.6,67.7 262.3,66.3 263,65.2 263.8,64.3 264.5,63.6 265.2,63.1 265.9,62.8 266.6,62.7 267.3,62.9 268,63.4 268.7,64.1 269.4,65 270.1,66.2 270.8,67.5 271.5,69 272.2,70.6 272.9,72.4 273.6,74.3 274.3,76.3 275,78.3 275.7,80.5 276.4,82.7 277.1,85 277.8,87.3 278.5,89.6 279.3,92 280,94.3 280.7,96.7 281.4,99 282.1,101.3 282.8,103.6 283.5,105.9 284.2,108.1 284.9,110.3 285.6,112.5 286.3,114.6 287,116.7 287.7,118.7 288.4,120.7 289.1,122.6 289.8,124.5 290.5,126.3 291.2,128.1 291.9,129.8 292.6,131.4 293.3,133 294,134.5 294.8,136 295.5,137.5 296.2,138.8 296.9,140.2 297.6,141.4 298.3,142.7 299,143.8 299.7,145 300.4,146.1 301.1,147.1 301.8,148.1 302.5,149.1 303.2,150 303.9,150.9 304.6,151.7 305.3,152.5 306,153.3 306.7,154 307.4,154.7 308.1,155.4 308.8,156 309.5,156.6 310.2,157.2 311,157.7 311.7,158.2 312.4,158.7 313.1,159.2 313.8,159.7 315.2,160.5 316.6,161.2 318,161.9 319.4,162.5 320.8,163.1 322.2,163.6 323.6,164 325,164.4 326.5,164.7 327.9,165 329.3,165.3 330.7,165.5 332.1,165.8 333.5,166 334.9,166.1 336.3,166.3 337.7,166.4 339.1,166.5 340.5,166.7 342,166.8 345.5,167 349,167.2 352.5,167.4 356,167.5 359.6,167.7 363.1,167.8 366.6,167.9 370.1,168 373.7,168.1 377.2,168.1 380.7,168.2 384.2,168.3" fill="none" stroke="#e42b2b" stroke-width="1.1" stroke-linejoin="round"/><path d="M239.8,154.9 240.5,152.5 241.2,149.8 241.9,146.8 242.6,143.7 243.3,140.2 244,136.6 244.7,132.7 245.4,128.6 246.1,124.4 246.8,120 247.5,115.5 248.3,111 249,106.3 249.7,101.7 250.4,97 251.1,92.4 251.8,87.8 252.5,83.3 253.2,78.9 253.9,74.7 254.6,70.5 255.3,66.6 256,62.8 256.7,59.2 257.4,55.8 258.1,52.7 258.8,49.7 259.5,47 260.2,44.5 260.9,42.2 261.6,40.1 262.3,38.3 263,36.8 263.8,35.4 264.5,34.3 265.2,33.5 265.9,32.9 266.6,32.5 267.3,32.3 268,32.4 268.7,32.9 269.4,33.7 270.1,34.7 270.8,36 271.5,37.6 272.2,39.4 272.9,41.4 273.6,43.6 274.3,45.9 275,48.4 275.7,51 276.4,53.7 277.1,56.5 277.8,59.4 278.5,62.3 279.3,65.3 280,68.3 280.7,71.3 281.4,74.3 282.1,77.3 282.8,80.3 283.5,83.3 284.2,86.3 284.9,89.2 285.6,92.1 286.3,94.9 287,97.7 287.7,100.4 288.4,103 289.1,105.6 289.8,108.1 290.5,110.6 291.2,113 291.9,115.3 292.6,117.6 293.3,119.7 294,121.8 294.8,123.9 295.5,125.8 296.2,127.7 296.9,129.5 297.6,131.3 298.3,133 299,134.6 299.7,136.2 300.4,137.7 301.1,139.1 301.8,140.5 302.5,141.8 303.2,143.1 303.9,144.3 304.6,145.5 305.3,146.6 306,147.6 306.7,148.6 307.4,149.6 308.1,150.5 308.8,151.4 309.5,152.2 310.2,153 311,153.8 311.7,154.5 312.4,155.2 313.1,155.9 313.8,156.5 315.2,157.6 316.6,158.7 318,159.6 319.4,160.4 320.8,161.2 322.2,161.8 323.6,162.4 325,162.9 326.5,163.4 327.9,163.8 329.3,164.1 330.7,164.4 332.1,164.7 333.5,165 334.9,165.2 336.3,165.4 337.7,165.6 339.1,165.7 340.5,165.9 342,166 345.5,166.3 349,166.6 352.5,166.8 356,167 359.6,167.2 363.1,167.4 366.6,167.5 370.1,167.7 373.7,167.8 377.2,167.9 380.7,168 384.2,168.1" fill="none" stroke="#2c2c2c" stroke-width="1.0" stroke-linejoin="round"/><path d="M239.80,24.20V168.80H384.92" fill="none" stroke="#111" stroke-width="1.5" stroke-linecap="butt"/><path d="M235.80,168.80H239.80" stroke="#111" stroke-width="1.4"/><text x="234.20" y="172.90" text-anchor="end" font-size="10">0.0</text><path d="M237.80,155.12H239.80" stroke="#111" stroke-width="1.4"/><path d="M235.80,141.45H239.80" stroke="#111" stroke-width="1.4"/><text x="234.20" y="145.55" text-anchor="end" font-size="10">0.2</text><path d="M237.80,127.78H239.80" stroke="#111" stroke-width="1.4"/><path d="M235.80,114.10H239.80" stroke="#111" stroke-width="1.4"/><text x="234.20" y="118.20" text-anchor="end" font-size="10">0.4</text><path d="M237.80,100.43H239.80" stroke="#111" stroke-width="1.4"/><path d="M235.80,86.75H239.80" stroke="#111" stroke-width="1.4"/><text x="234.20" y="90.85" text-anchor="end" font-size="10">0.6</text><path d="M237.80,73.08H239.80" stroke="#111" stroke-width="1.4"/><path d="M235.80,59.40H239.80" stroke="#111" stroke-width="1.4"/><text x="234.20" y="63.50" text-anchor="end" font-size="10">0.8</text><path d="M237.80,45.73H239.80" stroke="#111" stroke-width="1.4"/><path d="M235.80,32.05H239.80" stroke="#111" stroke-width="1.4"/><text x="234.20" y="36.15" text-anchor="end" font-size="10">1.0</text><path d="M243.32,168.80V172.80" stroke="#111" stroke-width="1.4"/><text x="243.32" y="185.70" text-anchor="middle" font-size="10">300</text><path d="M260.94,168.80V171.00" stroke="#111" stroke-width="1.4"/><path d="M278.55,168.80V172.80" stroke="#111" stroke-width="1.4"/><text x="278.55" y="185.70" text-anchor="middle" font-size="10">350</text><path d="M296.16,168.80V171.00" stroke="#111" stroke-width="1.4"/><path d="M313.77,168.80V172.80" stroke="#111" stroke-width="1.4"/><text x="313.77" y="185.70" text-anchor="middle" font-size="10">400</text><path d="M331.38,168.80V171.00" stroke="#111" stroke-width="1.4"/><path d="M349.00,168.80V172.80" stroke="#111" stroke-width="1.4"/><text x="349.00" y="185.70" text-anchor="middle" font-size="10">450</text><path d="M366.61,168.80V171.00" stroke="#111" stroke-width="1.4"/><path d="M384.22,168.80V172.80" stroke="#111" stroke-width="1.4"/><text x="384.22" y="185.70" text-anchor="middle" font-size="10">500</text><text x="311.71" y="203.20" text-anchor="middle" font-size="11" textLength="88.4" lengthAdjust="spacingAndGlyphs">Wavelength (nm)</text><text x="311.71" y="25.10" text-anchor="middle" font-size="11" textLength="89.4" lengthAdjust="spacingAndGlyphs">WPI-Lut at pH 5.5</text><text transform="translate(213.90,96.10) rotate(-90)" text-anchor="middle" font-size="11" textLength="139.8" lengthAdjust="spacingAndGlyphs">Fluorescence intensity (a.u.)</text><text transform="translate(204.23,18.50) scale(0.809,1)" font-size="23.5" font-weight="bold" style="fill:#000">B</text><path d="M320.00,74.80V109.20" stroke="#222" stroke-width="1"/><path d="M318.45,106.90L321.55,106.90L320.80,114.00L320.00,115.20L319.20,114.00Z" fill="#111"/><text x="323.20" y="81.70" font-size="9" textLength="20.6" lengthAdjust="spacingAndGlyphs">0 μM</text><text x="323.20" y="115.20" font-size="9" textLength="33.6" lengthAdjust="spacingAndGlyphs">22.5 μM</text></g><g><path d="M441.2,166.3 441.9,165.8 442.6,165.2 443.3,164.5 444,163.8 444.7,162.9 445.4,161.9 446.1,160.9 446.8,159.7 447.5,158.4 448.2,157 448.9,155.5 449.7,153.9 450.4,152.1 451.1,150.3 451.8,148.4 452.5,146.4 453.2,144.3 453.9,142.1 454.6,140 455.3,137.7 456,135.5 456.7,133.2 457.4,130.9 458.1,128.7 458.8,126.5 459.5,124.4 460.2,122.3 460.9,120.4 461.6,118.5 462.3,116.8 463,115.2 463.7,113.8 464.4,112.5 465.2,111.4 465.9,110.5 466.6,109.8 467.3,109.3 468,109 468.7,108.9 469.4,108.9 470.1,109.1 470.8,109.3 471.5,109.6 472.2,110 472.9,110.5 473.6,111.1 474.3,111.8 475,112.6 475.7,113.4 476.4,114.3 477.1,115.3 477.8,116.3 478.5,117.4 479.2,118.5 479.9,119.7 480.7,121 481.4,122.3 482.1,123.6 482.8,124.9 483.5,126.3 484.2,127.7 484.9,129.1 485.6,130.5 486.3,132 487,133.4 487.7,134.8 488.4,136.2 489.1,137.6 489.8,139 490.5,140.4 491.2,141.7 491.9,143.1 492.6,144.4 493.3,145.6 494,146.9 494.7,148.1 495.4,149.2 496.2,150.3 496.9,151.4 497.6,152.5 498.3,153.5 499,154.4 499.7,155.3 500.4,156.2 501.1,157 501.8,157.8 502.5,158.6 503.2,159.3 503.9,159.9 504.6,160.5 505.3,161.1 506,161.6 506.7,162.1 507.4,162.5 508.1,162.9 508.8,163.3 509.5,163.6 510.2,163.9 510.9,164.1 511.6,164.3 512.4,164.5 513.1,164.6 513.8,164.8 514.5,164.9 515.2,165 516.6,165.2 518,165.3 519.4,165.4 520.8,165.5 522.2,165.7 523.6,165.8 525,165.9 526.4,166 527.9,166.1 529.3,166.1 530.7,166.2 532.1,166.3 533.5,166.4 534.9,166.5 536.3,166.6 537.7,166.6 539.1,166.7 540.5,166.8 541.9,166.8 543.4,166.9 546.9,167.1 550.4,167.2 553.9,167.3 557.4,167.5 561,167.6 564.5,167.7 568,167.8 571.5,167.8 575.1,167.9 578.6,168 582.1,168.1 585.6,168.1" fill="none" stroke="#c83a8a" stroke-width="1.1" stroke-linejoin="round"/><path d="M441.2,166.2 441.9,165.6 442.6,165 443.3,164.3 444,163.4 444.7,162.5 445.4,161.5 446.1,160.3 446.8,159 447.5,157.6 448.2,156.1 448.9,154.4 449.7,152.6 450.4,150.8 451.1,148.8 451.8,146.7 452.5,144.5 453.2,142.2 453.9,139.8 454.6,137.4 455.3,135 456,132.5 456.7,130.1 457.4,127.6 458.1,125.2 458.8,122.8 459.5,120.5 460.2,118.3 460.9,116.1 461.6,114.1 462.3,112.2 463,110.5 463.7,108.9 464.4,107.5 465.2,106.3 465.9,105.3 466.6,104.5 467.3,103.9 468,103.6 468.7,103.4 469.4,103.5 470.1,103.7 470.8,104 471.5,104.5 472.2,105.1 472.9,105.8 473.6,106.7 474.3,107.7 475,108.8 475.7,110 476.4,111.3 477.1,112.7 477.8,114.2 478.5,115.7 479.2,117.3 479.9,119 480.7,120.7 481.4,122.5 482.1,124.3 482.8,126.1 483.5,128 484.2,129.8 484.9,131.6 485.6,133.4 486.3,135.2 487,137 487.7,138.8 488.4,140.5 489.1,142.1 489.8,143.7 490.5,145.3 491.2,146.8 491.9,148.3 492.6,149.7 493.3,151 494,152.3 494.7,153.5 495.4,154.6 496.2,155.7 496.9,156.7 497.6,157.7 498.3,158.6 499,159.4 499.7,160.1 500.4,160.8 501.1,161.4 501.8,161.9 502.5,162.4 503.2,162.8 503.9,163.2 504.6,163.4 505.3,163.7 506,163.9 506.7,164 507.4,164.2 508.1,164.3 508.8,164.4 509.5,164.5 510.2,164.6 510.9,164.7 511.6,164.7 512.4,164.8 513.1,164.9 513.8,164.9 514.5,165 515.2,165.1 516.6,165.2 518,165.3 519.4,165.4 520.8,165.6 522.2,165.7 523.6,165.8 525,165.9 526.4,166 527.9,166.1 529.3,166.1 530.7,166.2 532.1,166.3 533.5,166.4 534.9,166.5 536.3,166.6 537.7,166.6 539.1,166.7 540.5,166.8 541.9,166.8 543.4,166.9 546.9,167.1 550.4,167.2 553.9,167.3 557.4,167.5 561,167.6 564.5,167.7 568,167.8 571.5,167.8 575.1,167.9 578.6,168 582.1,168.1 585.6,168.1" fill="none" stroke="#9435b4" stroke-width="1.1" stroke-linejoin="round"/><path d="M441.2,166.1 441.9,165.5 442.6,164.8 443.3,164.1 444,163.2 444.7,162.2 445.4,161 446.1,159.8 446.8,158.4 447.5,156.9 448.2,155.2 448.9,153.4 449.7,151.5 450.4,149.5 451.1,147.3 451.8,145 452.5,142.6 453.2,140.2 453.9,137.7 454.6,135.1 455.3,132.4 456,129.8 456.7,127.1 457.4,124.5 458.1,121.9 458.8,119.3 459.5,116.8 460.2,114.4 460.9,112.1 461.6,109.9 462.3,107.9 463,106 463.7,104.3 464.4,102.8 465.2,101.5 465.9,100.4 466.6,99.5 467.3,98.9 468,98.4 468.7,98.2 469.4,98.3 470.1,98.4 470.8,98.6 471.5,99 472.2,99.5 472.9,100 473.6,100.7 474.3,101.5 475,102.3 475.7,103.3 476.4,104.3 477.1,105.4 477.8,106.6 478.5,107.9 479.2,109.3 479.9,110.7 480.7,112.1 481.4,113.6 482.1,115.2 482.8,116.7 483.5,118.4 484.2,120 484.9,121.6 485.6,123.3 486.3,125 487,126.7 487.7,128.3 488.4,130 489.1,131.7 489.8,133.3 490.5,134.9 491.2,136.5 491.9,138.1 492.6,139.6 493.3,141.1 494,142.5 494.7,144 495.4,145.3 496.2,146.7 496.9,148 497.6,149.2 498.3,150.4 499,151.5 499.7,152.6 500.4,153.7 501.1,154.7 501.8,155.6 502.5,156.5 503.2,157.3 503.9,158.1 504.6,158.9 505.3,159.6 506,160.3 506.7,160.9 507.4,161.4 508.1,161.9 508.8,162.4 509.5,162.9 510.2,163.2 510.9,163.6 511.6,163.9 512.4,164.1 513.1,164.4 513.8,164.6 514.5,164.7 515.2,164.9 516.6,165.1 518,165.3 519.4,165.4 520.8,165.5 522.2,165.7 523.6,165.8 525,165.9 526.4,166 527.9,166.1 529.3,166.1 530.7,166.2 532.1,166.3 533.5,166.4 534.9,166.5 536.3,166.6 537.7,166.6 539.1,166.7 540.5,166.8 541.9,166.8 543.4,166.9 546.9,167.1 550.4,167.2 553.9,167.3 557.4,167.5 561,167.6 564.5,167.7 568,167.8 571.5,167.8 575.1,167.9 578.6,168 582.1,168.1 585.6,168.1" fill="none" stroke="#3737c8" stroke-width="1.1" stroke-linejoin="round"/><path d="M441.2,166 441.9,165.4 442.6,164.6 443.3,163.8 444,162.8 444.7,161.7 445.4,160.5 446.1,159.1 446.8,157.6 447.5,155.9 448.2,154.1 448.9,152.2 449.7,150.1 450.4,147.8 451.1,145.4 451.8,142.9 452.5,140.3 453.2,137.6 453.9,134.9 454.6,132 455.3,129.1 456,126.2 456.7,123.3 457.4,120.4 458.1,117.6 458.8,114.8 459.5,112.1 460.2,109.4 460.9,106.9 461.6,104.5 462.3,102.3 463,100.3 463.7,98.4 464.4,96.8 465.2,95.3 465.9,94.1 466.6,93.1 467.3,92.3 468,91.8 468.7,91.6 469.4,91.6 470.1,91.7 470.8,91.9 471.5,92.3 472.2,92.8 472.9,93.4 473.6,94.1 474.3,94.9 475,95.8 475.7,96.9 476.4,98 477.1,99.2 477.8,100.5 478.5,101.9 479.2,103.4 479.9,104.9 480.7,106.5 481.4,108.1 482.1,109.8 482.8,111.5 483.5,113.3 484.2,115.1 484.9,116.9 485.6,118.7 486.3,120.5 487,122.4 487.7,124.2 488.4,126 489.1,127.8 489.8,129.6 490.5,131.4 491.2,133.1 491.9,134.8 492.6,136.5 493.3,138.1 494,139.7 494.7,141.3 495.4,142.8 496.2,144.3 496.9,145.7 497.6,147 498.3,148.3 499,149.6 499.7,150.8 500.4,151.9 501.1,153 501.8,154.1 502.5,155.1 503.2,156 503.9,156.9 504.6,157.7 505.3,158.5 506,159.3 506.7,159.9 507.4,160.6 508.1,161.2 508.8,161.7 509.5,162.2 510.2,162.7 510.9,163.1 511.6,163.5 512.4,163.8 513.1,164.1 513.8,164.3 514.5,164.5 515.2,164.7 516.6,165 518,165.2 519.4,165.4 520.8,165.5 522.2,165.6 523.6,165.8 525,165.9 526.4,166 527.9,166.1 529.3,166.1 530.7,166.2 532.1,166.3 533.5,166.4 534.9,166.5 536.3,166.6 537.7,166.6 539.1,166.7 540.5,166.8 541.9,166.8 543.4,166.9 546.9,167.1 550.4,167.2 553.9,167.3 557.4,167.5 561,167.6 564.5,167.7 568,167.8 571.5,167.8 575.1,167.9 578.6,168 582.1,168.1 585.6,168.1" fill="none" stroke="#2b9db0" stroke-width="1.1" stroke-linejoin="round"/><path d="M441.2,165.9 441.9,165.2 442.6,164.4 443.3,163.5 444,162.4 444.7,161.2 445.4,159.8 446.1,158.3 446.8,156.6 447.5,154.7 448.2,152.7 448.9,150.5 449.7,148.1 450.4,145.6 451.1,142.9 451.8,140.1 452.5,137.2 453.2,134.1 453.9,131 454.6,127.9 455.3,124.6 456,121.4 456.7,118.1 457.4,114.9 458.1,111.7 458.8,108.6 459.5,105.5 460.2,102.6 460.9,99.8 461.6,97.2 462.3,94.7 463,92.4 463.7,90.3 464.4,88.4 465.2,86.8 465.9,85.4 466.6,84.2 467.3,83.3 468,82.7 468.7,82.3 469.4,82.2 470.1,82.3 470.8,82.6 471.5,83 472.2,83.5 472.9,84.1 473.6,84.9 474.3,85.8 475,86.8 475.7,88 476.4,89.2 477.1,90.6 477.8,92 478.5,93.6 479.2,95.2 479.9,96.9 480.7,98.6 481.4,100.5 482.1,102.3 482.8,104.3 483.5,106.2 484.2,108.2 484.9,110.2 485.6,112.3 486.3,114.3 487,116.3 487.7,118.4 488.4,120.4 489.1,122.4 489.8,124.4 490.5,126.4 491.2,128.3 491.9,130.2 492.6,132.1 493.3,133.9 494,135.7 494.7,137.4 495.4,139.1 496.2,140.7 496.9,142.3 497.6,143.8 498.3,145.3 499,146.7 499.7,148 500.4,149.3 501.1,150.6 501.8,151.7 502.5,152.8 503.2,153.9 503.9,154.9 504.6,155.9 505.3,156.8 506,157.6 506.7,158.4 507.4,159.2 508.1,159.9 508.8,160.5 509.5,161.1 510.2,161.7 510.9,162.2 511.6,162.6 512.4,163.1 513.1,163.5 513.8,163.8 514.5,164.1 515.2,164.4 516.6,164.8 518,165.1 519.4,165.3 520.8,165.5 522.2,165.6 523.6,165.7 525,165.9 526.4,166 527.9,166.1 529.3,166.1 530.7,166.2 532.1,166.3 533.5,166.4 534.9,166.5 536.3,166.6 537.7,166.6 539.1,166.7 540.5,166.8 541.9,166.8 543.4,166.9 546.9,167.1 550.4,167.2 553.9,167.3 557.4,167.5 561,167.6 564.5,167.7 568,167.8 571.5,167.8 575.1,167.9 578.6,168 582.1,168.1 585.6,168.1" fill="none" stroke="#2a9a3c" stroke-width="1.1" stroke-linejoin="round"/><path d="M441.2,165.8 441.9,165.1 442.6,164.2 443.3,163.2 444,162.1 444.7,160.7 445.4,159.3 446.1,157.6 446.8,155.8 447.5,153.7 448.2,151.5 448.9,149.1 449.7,146.5 450.4,143.8 451.1,140.9 451.8,137.8 452.5,134.7 453.2,131.4 453.9,128 454.6,124.5 455.3,121 456,117.5 456.7,114 457.4,110.4 458.1,107 458.8,103.6 459.5,100.3 460.2,97.1 460.9,94.1 461.6,91.2 462.3,88.5 463,86 463.7,83.8 464.4,81.7 465.2,79.9 465.9,78.4 466.6,77.1 467.3,76.1 468,75.3 468.7,74.9 469.4,74.7 470.1,74.8 470.8,75 471.5,75.4 472.2,75.9 472.9,76.6 473.6,77.5 474.3,78.4 475,79.5 475.7,80.8 476.4,82.1 477.1,83.6 477.8,85.2 478.5,86.8 479.2,88.6 479.9,90.4 480.7,92.3 481.4,94.3 482.1,96.4 482.8,98.4 483.5,100.6 484.2,102.7 484.9,104.9 485.6,107.1 486.3,109.3 487,111.5 487.7,113.7 488.4,115.8 489.1,118 489.8,120.2 490.5,122.3 491.2,124.4 491.9,126.4 492.6,128.4 493.3,130.4 494,132.3 494.7,134.1 495.4,135.9 496.2,137.7 496.9,139.4 497.6,141 498.3,142.6 499,144.1 499.7,145.5 500.4,146.9 501.1,148.3 501.8,149.6 502.5,150.8 503.2,151.9 503.9,153 504.6,154.1 505.3,155.1 506,156 506.7,156.9 507.4,157.7 508.1,158.5 508.8,159.2 509.5,159.9 510.2,160.5 510.9,161.1 511.6,161.7 512.4,162.2 513.1,162.6 513.8,163.1 514.5,163.4 515.2,163.8 516.6,164.4 518,164.8 519.4,165.1 520.8,165.4 522.2,165.6 523.6,165.7 525,165.8 526.4,165.9 527.9,166.1 529.3,166.1 530.7,166.2 532.1,166.3 533.5,166.4 534.9,166.5 536.3,166.6 537.7,166.6 539.1,166.7 540.5,166.8 541.9,166.8 543.4,166.9 546.9,167.1 550.4,167.2 553.9,167.3 557.4,167.5 561,167.6 564.5,167.7 568,167.8 571.5,167.8 575.1,167.9 578.6,168 582.1,168.1 585.6,168.1" fill="none" stroke="#c9c92a" stroke-width="1.1" stroke-linejoin="round"/><path d="M441.2,165.7 441.9,165 442.6,164.1 443.3,163 444,161.8 444.7,160.4 445.4,158.9 446.1,157.1 446.8,155.2 447.5,153 448.2,150.7 448.9,148.1 449.7,145.4 450.4,142.5 451.1,139.4 451.8,136.1 452.5,132.8 453.2,129.3 453.9,125.7 454.6,122 455.3,118.3 456,114.5 456.7,110.8 457.4,107.1 458.1,103.4 458.8,99.8 459.5,96.3 460.2,93 460.9,89.8 461.6,86.7 462.3,83.9 463,81.2 463.7,78.8 464.4,76.6 465.2,74.7 465.9,73 466.6,71.6 467.3,70.5 468,69.7 468.7,69.2 469.4,69 470.1,69 470.8,69.2 471.5,69.6 472.2,70.2 472.9,70.9 473.6,71.8 474.3,72.8 475,74 475.7,75.3 476.4,76.7 477.1,78.3 477.8,80 478.5,81.7 479.2,83.6 479.9,85.6 480.7,87.6 481.4,89.7 482.1,91.8 482.8,94 483.5,96.3 484.2,98.5 484.9,100.8 485.6,103.1 486.3,105.5 487,107.8 487.7,110.1 488.4,112.4 489.1,114.6 489.8,116.9 490.5,119.1 491.2,121.3 491.9,123.4 492.6,125.5 493.3,127.5 494,129.5 494.7,131.5 495.4,133.4 496.2,135.2 496.9,137 497.6,138.7 498.3,140.3 499,141.9 499.7,143.4 500.4,144.9 501.1,146.3 501.8,147.6 502.5,148.9 503.2,150.1 503.9,151.3 504.6,152.4 505.3,153.5 506,154.5 506.7,155.4 507.4,156.3 508.1,157.1 508.8,157.9 509.5,158.7 510.2,159.4 510.9,160 511.6,160.6 512.4,161.2 513.1,161.7 513.8,162.2 514.5,162.7 515.2,163.1 516.6,163.8 518,164.4 519.4,164.8 520.8,165.2 522.2,165.4 523.6,165.6 525,165.8 526.4,165.9 527.9,166 529.3,166.1 530.7,166.2 532.1,166.3 533.5,166.4 534.9,166.5 536.3,166.6 537.7,166.6 539.1,166.7 540.5,166.8 541.9,166.8 543.4,166.9 546.9,167.1 550.4,167.2 553.9,167.3 557.4,167.5 561,167.6 564.5,167.7 568,167.8 571.5,167.8 575.1,167.9 578.6,168 582.1,168.1 585.6,168.1" fill="none" stroke="#f07a2c" stroke-width="1.1" stroke-linejoin="round"/><path d="M441.2,165.6 441.9,164.8 442.6,163.8 443.3,162.6 444,161.3 444.7,159.8 445.4,158 446.1,156.1 446.8,153.9 447.5,151.5 448.2,148.8 448.9,145.9 449.7,142.9 450.4,139.6 451.1,136.1 451.8,132.4 452.5,128.6 453.2,124.7 453.9,120.6 454.6,116.5 455.3,112.3 456,108.1 456.7,103.9 457.4,99.7 458.1,95.6 458.8,91.5 459.5,87.6 460.2,83.9 460.9,80.2 461.6,76.8 462.3,73.6 463,70.6 463.7,67.9 464.4,65.4 465.2,63.2 465.9,61.3 466.6,59.7 467.3,58.4 468,57.4 468.7,56.7 469.4,56.3 470.1,56.2 470.8,56.4 471.5,56.8 472.2,57.5 472.9,58.3 473.6,59.3 474.3,60.5 475,61.9 475.7,63.4 476.4,65.1 477.1,66.9 477.8,68.8 478.5,70.8 479.2,73 479.9,75.2 480.7,77.5 481.4,79.8 482.1,82.3 482.8,84.7 483.5,87.2 484.2,89.7 484.9,92.2 485.6,94.7 486.3,97.3 487,99.8 487.7,102.3 488.4,104.7 489.1,107.2 489.8,109.6 490.5,111.9 491.2,114.2 491.9,116.5 492.6,118.7 493.3,120.9 494,123 494.7,125.1 495.4,127.1 496.2,129 496.9,130.9 497.6,132.7 498.3,134.5 499,136.2 499.7,137.8 500.4,139.4 501.1,140.9 501.8,142.3 502.5,143.7 503.2,145 503.9,146.3 504.6,147.5 505.3,148.7 506,149.8 506.7,150.8 507.4,151.8 508.1,152.8 508.8,153.7 509.5,154.6 510.2,155.4 510.9,156.2 511.6,156.9 512.4,157.6 513.1,158.3 513.8,158.9 514.5,159.5 515.2,160.1 516.6,161.1 518,162 519.4,162.8 520.8,163.4 522.2,164 523.6,164.5 525,165 526.4,165.3 527.9,165.6 529.3,165.8 530.7,166 532.1,166.2 533.5,166.3 534.9,166.4 536.3,166.5 537.7,166.6 539.1,166.7 540.5,166.8 541.9,166.8 543.4,166.9 546.9,167.1 550.4,167.2 553.9,167.3 557.4,167.5 561,167.6 564.5,167.7 568,167.8 571.5,167.8 575.1,167.9 578.6,168 582.1,168.1 585.6,168.1" fill="none" stroke="#e42b2b" stroke-width="1.1" stroke-linejoin="round"/><path d="M441.2,165.6 441.9,164.6 442.6,163.5 443.3,162.1 444,160.4 444.7,158.4 445.4,156.2 446.1,153.6 446.8,150.8 447.5,147.6 448.2,144.1 448.9,140.2 449.7,136.1 450.4,131.8 451.1,127.1 451.8,122.3 452.5,117.3 453.2,112.2 453.9,106.9 454.6,101.6 455.3,96.3 456,91.1 456.7,85.8 457.4,80.7 458.1,75.8 458.8,71 459.5,66.3 460.2,62 460.9,57.8 461.6,54 462.3,50.4 463,47.1 463.7,44.2 464.4,41.5 465.2,39.2 465.9,37.3 466.6,35.6 467.3,34.3 468,33.4 468.7,32.8 469.4,32.6 470.1,32.7 470.8,33 471.5,33.5 472.2,34.2 472.9,35.2 473.6,36.3 474.3,37.6 475,39.1 475.7,40.7 476.4,42.5 477.1,44.5 477.8,46.5 478.5,48.8 479.2,51.1 479.9,53.5 480.7,56 481.4,58.7 482.1,61.3 482.8,64.1 483.5,66.9 484.2,69.7 484.9,72.5 485.6,75.4 486.3,78.3 487,81.2 487.7,84.1 488.4,87 489.1,89.9 489.8,92.7 490.5,95.5 491.2,98.3 491.9,101.1 492.6,103.8 493.3,106.4 494,109 494.7,111.5 495.4,114 496.2,116.4 496.9,118.8 497.6,121.1 498.3,123.3 499,125.4 499.7,127.5 500.4,129.5 501.1,131.5 501.8,133.3 502.5,135.1 503.2,136.9 503.9,138.5 504.6,140.1 505.3,141.7 506,143.1 506.7,144.5 507.4,145.9 508.1,147.1 508.8,148.4 509.5,149.5 510.2,150.6 510.9,151.7 511.6,152.7 512.4,153.6 513.1,154.5 513.8,155.3 514.5,156.1 515.2,156.9 516.6,158.2 518,159.4 519.4,160.5 520.8,161.4 522.2,162.2 523.6,162.8 525,163.4 526.4,163.8 527.9,164.2 529.3,164.5 530.7,164.8 532.1,165 533.5,165.2 534.9,165.4 536.3,165.6 537.7,165.8 539.1,165.9 540.5,166 541.9,166.2 543.4,166.3 546.9,166.6 550.4,166.8 553.9,167 557.4,167.2 561,167.4 564.5,167.6 568,167.7 571.5,167.8 575.1,167.9 578.6,168 582.1,168.1 585.6,168.2" fill="none" stroke="#2c2c2c" stroke-width="1.0" stroke-linejoin="round"/><path d="M441.20,24.20V168.80H586.32" fill="none" stroke="#111" stroke-width="1.5" stroke-linecap="butt"/><path d="M437.20,168.80H441.20" stroke="#111" stroke-width="1.4"/><text x="435.60" y="172.90" text-anchor="end" font-size="10">0.0</text><path d="M439.20,155.12H441.20" stroke="#111" stroke-width="1.4"/><path d="M437.20,141.45H441.20" stroke="#111" stroke-width="1.4"/><text x="435.60" y="145.55" text-anchor="end" font-size="10">0.2</text><path d="M439.20,127.78H441.20" stroke="#111" stroke-width="1.4"/><path d="M437.20,114.10H441.20" stroke="#111" stroke-width="1.4"/><text x="435.60" y="118.20" text-anchor="end" font-size="10">0.4</text><path d="M439.20,100.43H441.20" stroke="#111" stroke-width="1.4"/><path d="M437.20,86.75H441.20" stroke="#111" stroke-width="1.4"/><text x="435.60" y="90.85" text-anchor="end" font-size="10">0.6</text><path d="M439.20,73.08H441.20" stroke="#111" stroke-width="1.4"/><path d="M437.20,59.40H441.20" stroke="#111" stroke-width="1.4"/><text x="435.60" y="63.50" text-anchor="end" font-size="10">0.8</text><path d="M439.20,45.73H441.20" stroke="#111" stroke-width="1.4"/><path d="M437.20,32.05H441.20" stroke="#111" stroke-width="1.4"/><text x="435.60" y="36.15" text-anchor="end" font-size="10">1.0</text><path d="M444.72,168.80V172.80" stroke="#111" stroke-width="1.4"/><text x="444.72" y="185.70" text-anchor="middle" font-size="10">300</text><path d="M462.33,168.80V171.00" stroke="#111" stroke-width="1.4"/><path d="M479.95,168.80V172.80" stroke="#111" stroke-width="1.4"/><text x="479.95" y="185.70" text-anchor="middle" font-size="10">350</text><path d="M497.56,168.80V171.00" stroke="#111" stroke-width="1.4"/><path d="M515.17,168.80V172.80" stroke="#111" stroke-width="1.4"/><text x="515.17" y="185.70" text-anchor="middle" font-size="10">400</text><path d="M532.78,168.80V171.00" stroke="#111" stroke-width="1.4"/><path d="M550.40,168.80V172.80" stroke="#111" stroke-width="1.4"/><text x="550.40" y="185.70" text-anchor="middle" font-size="10">450</text><path d="M568.01,168.80V171.00" stroke="#111" stroke-width="1.4"/><path d="M585.62,168.80V172.80" stroke="#111" stroke-width="1.4"/><text x="585.62" y="185.70" text-anchor="middle" font-size="10">500</text><text x="513.11" y="203.20" text-anchor="middle" font-size="11" textLength="88.4" lengthAdjust="spacingAndGlyphs">Wavelength (nm)</text><text x="513.11" y="25.10" text-anchor="middle" font-size="11" textLength="89.4" lengthAdjust="spacingAndGlyphs">WPI-Lut at pH 7.5</text><text transform="translate(415.30,96.10) rotate(-90)" text-anchor="middle" font-size="11" textLength="139.8" lengthAdjust="spacingAndGlyphs">Fluorescence intensity (a.u.)</text><text transform="translate(405.35,18.85) scale(0.774,1)" font-size="23.5" font-weight="bold" style="fill:#000">C</text><path d="M521.20,74.80V109.20" stroke="#222" stroke-width="1"/><path d="M519.65,106.90L522.75,106.90L522.00,114.00L521.20,115.20L520.40,114.00Z" fill="#111"/><text x="524.40" y="81.70" font-size="9" textLength="20.6" lengthAdjust="spacingAndGlyphs">0 μM</text><text x="524.40" y="115.20" font-size="9" textLength="33.6" lengthAdjust="spacingAndGlyphs">22.5 μM</text></g><g><path d="M643.3,165.5 644,164.8 644.7,163.9 645.4,162.8 646.1,161.6 646.8,160.3 647.5,158.9 648.2,157.3 648.9,155.5 649.6,153.7 650.3,151.8 651,149.7 651.8,147.6 652.5,145.4 653.2,143.2 653.9,140.9 654.6,138.7 655.3,136.4 656,134.2 656.7,132 657.4,129.9 658.1,127.8 658.8,125.8 659.5,123.9 660.2,122.1 660.9,120.4 661.6,118.8 662.3,117.3 663,115.9 663.7,114.6 664.4,113.5 665.1,112.5 665.8,111.6 666.5,110.8 667.3,110.2 668,109.7 668.7,109.3 669.4,109 670.1,108.8 670.8,108.8 671.5,108.9 672.2,109.2 672.9,109.6 673.6,110.1 674.3,110.9 675,111.7 675.7,112.7 676.4,113.8 677.1,115 677.8,116.3 678.5,117.8 679.2,119.2 679.9,120.8 680.6,122.4 681.3,124 682,125.7 682.8,127.5 683.5,129.2 684.2,131 684.9,132.7 685.6,134.5 686.3,136.2 687,137.9 687.7,139.6 688.4,141.2 689.1,142.8 689.8,144.3 690.5,145.8 691.2,147.3 691.9,148.7 692.6,150 693.3,151.2 694,152.4 694.7,153.6 695.4,154.7 696.1,155.7 696.8,156.6 697.5,157.5 698.3,158.3 699,159 699.7,159.7 700.4,160.3 701.1,160.8 701.8,161.3 702.5,161.7 703.2,162.1 703.9,162.4 704.6,162.7 705.3,162.9 706,163.1 706.7,163.3 707.4,163.4 708.1,163.6 708.8,163.7 709.5,163.8 710.2,163.9 710.9,164 711.6,164.1 712.3,164.2 713,164.3 713.8,164.4 714.5,164.5 715.2,164.5 715.9,164.6 716.6,164.7 717.3,164.8 718.7,164.9 720.1,165.1 721.5,165.2 722.9,165.4 724.3,165.5 725.7,165.6 727.1,165.7 728.5,165.8 730,166 731.4,166.1 732.8,166.2 734.2,166.3 735.6,166.4 737,166.5 738.4,166.5 739.8,166.6 741.2,166.7 742.6,166.8 744,166.9 745.5,166.9 749,167.1 752.5,167.3 756,167.4 759.5,167.5 763.1,167.6 766.6,167.8 770.1,167.9 773.6,167.9 777.2,168 780.7,168.1 784.2,168.2 787.7,168.2" fill="none" stroke="#c83a8a" stroke-width="1.1" stroke-linejoin="round"/><path d="M643.3,165.4 644,164.6 644.7,163.6 645.4,162.5 646.1,161.2 646.8,159.8 647.5,158.2 648.2,156.5 648.9,154.7 649.6,152.7 650.3,150.6 651,148.3 651.8,146 652.5,143.7 653.2,141.2 653.9,138.8 654.6,136.3 655.3,133.9 656,131.4 656.7,129 657.4,126.7 658.1,124.4 658.8,122.2 659.5,120.1 660.2,118.1 660.9,116.3 661.6,114.5 662.3,112.9 663,111.4 663.7,110 664.4,108.8 665.1,107.7 665.8,106.7 666.5,105.9 667.3,105.2 668,104.6 668.7,104.2 669.4,103.9 670.1,103.7 670.8,103.7 671.5,103.8 672.2,104.2 672.9,104.6 673.6,105.2 674.3,106 675,106.9 675.7,107.9 676.4,109.1 677.1,110.4 677.8,111.8 678.5,113.2 679.2,114.8 679.9,116.4 680.6,118.1 681.3,119.8 682,121.6 682.8,123.4 683.5,125.3 684.2,127.1 684.9,129 685.6,130.8 686.3,132.6 687,134.4 687.7,136.2 688.4,138 689.1,139.7 689.8,141.3 690.5,142.9 691.2,144.5 691.9,146 692.6,147.5 693.3,148.8 694,150.2 694.7,151.4 695.4,152.6 696.1,153.7 696.8,154.8 697.5,155.8 698.3,156.7 699,157.6 699.7,158.4 700.4,159.1 701.1,159.8 701.8,160.4 702.5,161 703.2,161.4 703.9,161.9 704.6,162.2 705.3,162.6 706,162.8 706.7,163.1 707.4,163.3 708.1,163.4 708.8,163.6 709.5,163.7 710.2,163.9 710.9,164 711.6,164.1 712.3,164.2 713,164.3 713.8,164.4 714.5,164.5 715.2,164.5 715.9,164.6 716.6,164.7 717.3,164.8 718.7,164.9 720.1,165.1 721.5,165.2 722.9,165.4 724.3,165.5 725.7,165.6 727.1,165.7 728.5,165.8 730,166 731.4,166.1 732.8,166.2 734.2,166.3 735.6,166.4 737,166.5 738.4,166.5 739.8,166.6 741.2,166.7 742.6,166.8 744,166.9 745.5,166.9 749,167.1 752.5,167.3 756,167.4 759.5,167.5 763.1,167.6 766.6,167.8 770.1,167.9 773.6,167.9 777.2,168 780.7,168.1 784.2,168.2 787.7,168.2" fill="none" stroke="#9435b4" stroke-width="1.1" stroke-linejoin="round"/><path d="M643.3,165.2 644,164.3 644.7,163.3 645.4,162.1 646.1,160.7 646.8,159.1 647.5,157.4 648.2,155.5 648.9,153.5 649.6,151.3 650.3,149 651,146.5 651.8,144 652.5,141.3 653.2,138.6 653.9,135.9 654.6,133.1 655.3,130.4 656,127.6 656.7,124.9 657.4,122.3 658.1,119.8 658.8,117.3 659.5,115 660.2,112.7 660.9,110.6 661.6,108.7 662.3,106.8 663,105.1 663.7,103.6 664.4,102.2 665.1,101 665.8,99.9 666.5,99 667.3,98.3 668,97.7 668.7,97.2 669.4,96.9 670.1,96.7 670.8,96.8 671.5,96.9 672.2,97.3 672.9,97.8 673.6,98.5 674.3,99.3 675,100.3 675.7,101.4 676.4,102.6 677.1,104 677.8,105.4 678.5,107 679.2,108.6 679.9,110.3 680.6,112.1 681.3,114 682,115.9 682.8,117.8 683.5,119.7 684.2,121.7 684.9,123.7 685.6,125.7 686.3,127.6 687,129.6 687.7,131.5 688.4,133.4 689.1,135.2 689.8,137 690.5,138.8 691.2,140.5 691.9,142.1 692.6,143.7 693.3,145.3 694,146.8 694.7,148.2 695.4,149.5 696.1,150.8 696.8,152 697.5,153.2 698.3,154.3 699,155.3 699.7,156.3 700.4,157.2 701.1,158 701.8,158.8 702.5,159.5 703.2,160.1 703.9,160.7 704.6,161.3 705.3,161.7 706,162.1 706.7,162.5 707.4,162.8 708.1,163.1 708.8,163.3 709.5,163.5 710.2,163.7 710.9,163.9 711.6,164 712.3,164.1 713,164.2 713.8,164.3 714.5,164.4 715.2,164.5 715.9,164.6 716.6,164.7 717.3,164.8 718.7,164.9 720.1,165.1 721.5,165.2 722.9,165.4 724.3,165.5 725.7,165.6 727.1,165.7 728.5,165.8 730,166 731.4,166.1 732.8,166.2 734.2,166.3 735.6,166.4 737,166.5 738.4,166.5 739.8,166.6 741.2,166.7 742.6,166.8 744,166.9 745.5,166.9 749,167.1 752.5,167.3 756,167.4 759.5,167.5 763.1,167.6 766.6,167.8 770.1,167.9 773.6,167.9 777.2,168 780.7,168.1 784.2,168.2 787.7,168.2" fill="none" stroke="#3737c8" stroke-width="1.1" stroke-linejoin="round"/><path d="M643.3,165.1 644,164.1 644.7,163 645.4,161.7 646.1,160.3 646.8,158.6 647.5,156.8 648.2,154.7 648.9,152.5 649.6,150.1 650.3,147.6 651,144.9 651.8,142.1 652.5,139.3 653.2,136.3 653.9,133.3 654.6,130.3 655.3,127.2 656,124.2 656.7,121.3 657.4,118.4 658.1,115.6 658.8,112.9 659.5,110.3 660.2,107.9 660.9,105.5 661.6,103.4 662.3,101.4 663,99.5 663.7,97.8 664.4,96.3 665.1,95 665.8,93.8 666.5,92.8 667.3,92 668,91.4 668.7,90.9 669.4,90.6 670.1,90.4 670.8,90.5 671.5,90.7 672.2,91.1 672.9,91.7 673.6,92.4 674.3,93.3 675,94.3 675.7,95.5 676.4,96.8 677.1,98.2 677.8,99.7 678.5,101.3 679.2,103 679.9,104.8 680.6,106.7 681.3,108.6 682,110.6 682.8,112.6 683.5,114.7 684.2,116.8 684.9,118.8 685.6,120.9 686.3,123 687,125 687.7,127.1 688.4,129.1 689.1,131 689.8,133 690.5,134.9 691.2,136.7 691.9,138.5 692.6,140.2 693.3,141.9 694,143.5 694.7,145 695.4,146.5 696.1,147.9 696.8,149.3 697.5,150.6 698.3,151.8 699,153 699.7,154.1 700.4,155.1 701.1,156.1 701.8,157 702.5,157.8 703.2,158.6 703.9,159.3 704.6,160 705.3,160.6 706,161.2 706.7,161.6 707.4,162.1 708.1,162.5 708.8,162.8 709.5,163.1 710.2,163.4 710.9,163.6 711.6,163.8 712.3,164 713,164.1 713.8,164.3 714.5,164.4 715.2,164.5 715.9,164.6 716.6,164.7 717.3,164.8 718.7,164.9 720.1,165.1 721.5,165.2 722.9,165.4 724.3,165.5 725.7,165.6 727.1,165.7 728.5,165.8 730,166 731.4,166.1 732.8,166.2 734.2,166.3 735.6,166.4 737,166.5 738.4,166.5 739.8,166.6 741.2,166.7 742.6,166.8 744,166.9 745.5,166.9 749,167.1 752.5,167.3 756,167.4 759.5,167.5 763.1,167.6 766.6,167.8 770.1,167.9 773.6,167.9 777.2,168 780.7,168.1 784.2,168.2 787.7,168.2" fill="none" stroke="#2b9db0" stroke-width="1.1" stroke-linejoin="round"/><path d="M643.3,165 644,164 644.7,162.8 645.4,161.4 646.1,159.9 646.8,158.1 647.5,156.1 648.2,153.9 648.9,151.5 649.6,148.9 650.3,146.2 651,143.2 651.8,140.2 652.5,137 653.2,133.8 653.9,130.5 654.6,127.2 655.3,123.9 656,120.5 656.7,117.3 657.4,114.1 658.1,111 658.8,108 659.5,105.2 660.2,102.5 660.9,99.9 661.6,97.5 662.3,95.3 663,93.3 663.7,91.4 664.4,89.8 665.1,88.3 665.8,87 666.5,85.9 667.3,85 668,84.4 668.7,83.9 669.4,83.6 670.1,83.5 670.8,83.6 671.5,83.8 672.2,84.3 672.9,84.9 673.6,85.6 674.3,86.6 675,87.7 675.7,88.9 676.4,90.3 677.1,91.7 677.8,93.3 678.5,95 679.2,96.8 679.9,98.7 680.6,100.7 681.3,102.7 682,104.7 682.8,106.8 683.5,109 684.2,111.2 684.9,113.3 685.6,115.5 686.3,117.7 687,119.9 687.7,122 688.4,124.1 689.1,126.2 689.8,128.3 690.5,130.3 691.2,132.3 691.9,134.2 692.6,136.1 693.3,137.9 694,139.6 694.7,141.3 695.4,143 696.1,144.5 696.8,146 697.5,147.4 698.3,148.8 699,150.1 699.7,151.3 700.4,152.5 701.1,153.6 701.8,154.7 702.5,155.7 703.2,156.6 703.9,157.4 704.6,158.2 705.3,159 706,159.7 706.7,160.3 707.4,160.9 708.1,161.4 708.8,161.9 709.5,162.3 710.2,162.7 710.9,163.1 711.6,163.4 712.3,163.6 713,163.8 713.8,164 714.5,164.2 715.2,164.4 715.9,164.5 716.6,164.6 717.3,164.7 718.7,164.9 720.1,165.1 721.5,165.2 722.9,165.4 724.3,165.5 725.7,165.6 727.1,165.7 728.5,165.8 730,166 731.4,166.1 732.8,166.2 734.2,166.3 735.6,166.4 737,166.5 738.4,166.5 739.8,166.6 741.2,166.7 742.6,166.8 744,166.9 745.5,166.9 749,167.1 752.5,167.3 756,167.4 759.5,167.5 763.1,167.6 766.6,167.8 770.1,167.9 773.6,167.9 777.2,168 780.7,168.1 784.2,168.2 787.7,168.2" fill="none" stroke="#2a9a3c" stroke-width="1.1" stroke-linejoin="round"/><path d="M643.3,164.9 644,163.9 644.7,162.6 645.4,161.2 646.1,159.5 646.8,157.7 647.5,155.6 648.2,153.2 648.9,150.7 649.6,148 650.3,145 651,141.9 651.8,138.7 652.5,135.3 653.2,131.8 653.9,128.3 654.6,124.7 655.3,121.1 656,117.5 656.7,114 657.4,110.6 658.1,107.2 658.8,104 659.5,100.9 660.2,98 660.9,95.3 661.6,92.7 662.3,90.3 663,88.1 663.7,86.1 664.4,84.3 665.1,82.7 665.8,81.4 666.5,80.2 667.3,79.3 668,78.6 668.7,78.1 669.4,77.8 670.1,77.7 670.8,77.8 671.5,78.2 672.2,78.6 672.9,79.3 673.6,80.1 674.3,81.1 675,82.2 675.7,83.5 676.4,84.9 677.1,86.4 677.8,88.1 678.5,89.8 679.2,91.7 679.9,93.6 680.6,95.6 681.3,97.7 682,99.8 682.8,102 683.5,104.2 684.2,106.5 684.9,108.7 685.6,111 686.3,113.3 687,115.5 687.7,117.8 688.4,120 689.1,122.2 689.8,124.3 690.5,126.5 691.2,128.5 691.9,130.6 692.6,132.5 693.3,134.5 694,136.3 694.7,138.1 695.4,139.8 696.1,141.5 696.8,143.1 697.5,144.7 698.3,146.2 699,147.6 699.7,148.9 700.4,150.2 701.1,151.4 701.8,152.6 702.5,153.7 703.2,154.7 703.9,155.7 704.6,156.6 705.3,157.4 706,158.2 706.7,159 707.4,159.7 708.1,160.3 708.8,160.9 709.5,161.4 710.2,161.9 710.9,162.4 711.6,162.7 712.3,163.1 713,163.4 713.8,163.7 714.5,163.9 715.2,164.1 715.9,164.3 716.6,164.5 717.3,164.6 718.7,164.8 720.1,165 721.5,165.2 722.9,165.3 724.3,165.5 725.7,165.6 727.1,165.7 728.5,165.8 730,166 731.4,166.1 732.8,166.2 734.2,166.3 735.6,166.4 737,166.5 738.4,166.5 739.8,166.6 741.2,166.7 742.6,166.8 744,166.9 745.5,166.9 749,167.1 752.5,167.3 756,167.4 759.5,167.5 763.1,167.6 766.6,167.8 770.1,167.9 773.6,167.9 777.2,168 780.7,168.1 784.2,168.2 787.7,168.2" fill="none" stroke="#c9c92a" stroke-width="1.1" stroke-linejoin="round"/><path d="M643.3,164.8 644,163.7 644.7,162.3 645.4,160.8 646.1,159 646.8,156.9 647.5,154.5 648.2,151.9 648.9,149.1 649.6,145.9 650.3,142.6 651,139 651.8,135.3 652.5,131.4 653.2,127.3 653.9,123.2 654.6,119 655.3,114.8 656,110.7 656.7,106.5 657.4,102.5 658.1,98.6 658.8,94.8 659.5,91.1 660.2,87.7 660.9,84.4 661.6,81.4 662.3,78.5 663,76 663.7,73.6 664.4,71.6 665.1,69.7 665.8,68.2 666.5,66.9 667.3,65.9 668,65.1 668.7,64.6 669.4,64.3 670.1,64.4 670.8,64.6 671.5,65 672.2,65.5 672.9,66.3 673.6,67.2 674.3,68.3 675,69.5 675.7,70.9 676.4,72.4 677.1,74 677.8,75.8 678.5,77.6 679.2,79.6 679.9,81.7 680.6,83.8 681.3,86 682,88.3 682.8,90.6 683.5,93 684.2,95.4 684.9,97.8 685.6,100.2 686.3,102.7 687,105.1 687.7,107.5 688.4,110 689.1,112.4 689.8,114.7 690.5,117.1 691.2,119.4 691.9,121.6 692.6,123.8 693.3,126 694,128.1 694.7,130.1 695.4,132.1 696.1,134 696.8,135.9 697.5,137.7 698.3,139.4 699,141.1 699.7,142.6 700.4,144.2 701.1,145.6 701.8,147 702.5,148.4 703.2,149.7 703.9,150.9 704.6,152 705.3,153.1 706,154.1 706.7,155.1 707.4,156 708.1,156.9 708.8,157.7 709.5,158.5 710.2,159.2 710.9,159.8 711.6,160.4 712.3,161 713,161.5 713.8,162 714.5,162.5 715.2,162.9 715.9,163.2 716.6,163.6 717.3,163.9 718.7,164.3 720.1,164.7 721.5,165 722.9,165.2 724.3,165.4 725.7,165.6 727.1,165.7 728.5,165.8 730,166 731.4,166.1 732.8,166.2 734.2,166.3 735.6,166.4 737,166.5 738.4,166.5 739.8,166.6 741.2,166.7 742.6,166.8 744,166.9 745.5,166.9 749,167.1 752.5,167.3 756,167.4 759.5,167.5 763.1,167.6 766.6,167.8 770.1,167.9 773.6,167.9 777.2,168 780.7,168.1 784.2,168.2 787.7,168.2" fill="none" stroke="#f07a2c" stroke-width="1.1" stroke-linejoin="round"/><path d="M643.3,164.8 644,163.6 644.7,162.2 645.4,160.5 646.1,158.6 646.8,156.3 647.5,153.8 648.2,151 648.9,147.8 649.6,144.4 650.3,140.7 651,136.7 651.8,132.6 652.5,128.2 653.2,123.7 653.9,119 654.6,114.3 655.3,109.6 656,104.9 656.7,100.2 657.4,95.6 658.1,91.1 658.8,86.8 659.5,82.7 660.2,78.7 660.9,75 661.6,71.5 662.3,68.3 663,65.4 663.7,62.8 664.4,60.5 665.1,58.4 665.8,56.7 666.5,55.3 667.3,54.2 668,53.4 668.7,52.9 669.4,52.7 670.1,52.8 670.8,53.1 671.5,53.6 672.2,54.2 672.9,55 673.6,56 674.3,57.2 675,58.5 675.7,59.9 676.4,61.5 677.1,63.2 677.8,65.1 678.5,67 679.2,69.1 679.9,71.2 680.6,73.5 681.3,75.8 682,78.2 682.8,80.6 683.5,83.1 684.2,85.6 684.9,88.1 685.6,90.7 686.3,93.2 687,95.8 687.7,98.4 688.4,101 689.1,103.5 689.8,106 690.5,108.5 691.2,111 691.9,113.4 692.6,115.8 693.3,118.2 694,120.4 694.7,122.7 695.4,124.9 696.1,127 696.8,129 697.5,131 698.3,133 699,134.8 699.7,136.6 700.4,138.4 701.1,140 701.8,141.6 702.5,143.2 703.2,144.6 703.9,146 704.6,147.4 705.3,148.7 706,149.9 706.7,151.1 707.4,152.2 708.1,153.2 708.8,154.2 709.5,155.1 710.2,156 710.9,156.9 711.6,157.7 712.3,158.4 713,159.1 713.8,159.7 714.5,160.4 715.2,160.9 715.9,161.5 716.6,161.9 717.3,162.4 718.7,163.2 720.1,163.8 721.5,164.4 722.9,164.8 724.3,165.1 725.7,165.4 727.1,165.6 728.5,165.8 730,165.9 731.4,166 732.8,166.2 734.2,166.3 735.6,166.4 737,166.5 738.4,166.5 739.8,166.6 741.2,166.7 742.6,166.8 744,166.9 745.5,166.9 749,167.1 752.5,167.3 756,167.4 759.5,167.5 763.1,167.6 766.6,167.8 770.1,167.9 773.6,167.9 777.2,168 780.7,168.1 784.2,168.2 787.7,168.2" fill="none" stroke="#e42b2b" stroke-width="1.1" stroke-linejoin="round"/><path d="M643.3,163.4 644,161.9 644.7,160.1 645.4,158 646.1,155.5 646.8,152.7 647.5,149.5 648.2,146 648.9,142.1 649.6,137.9 650.3,133.4 651,128.6 651.8,123.6 652.5,118.3 653.2,113 653.9,107.5 654.6,102 655.3,96.4 656,91 656.7,85.5 657.4,80.3 658.1,75.1 658.8,70.2 659.5,65.5 660.2,61.1 660.9,56.9 661.6,53.1 662.3,49.5 663,46.3 663.7,43.4 664.4,40.8 665.1,38.6 665.8,36.7 666.5,35.2 667.3,34 668,33.2 668.7,32.7 669.4,32.6 670.1,32.8 670.8,33.1 671.5,33.7 672.2,34.5 672.9,35.5 673.6,36.8 674.3,38.2 675,39.7 675.7,41.5 676.4,43.4 677.1,45.4 677.8,47.6 678.5,49.9 679.2,52.3 679.9,54.9 680.6,57.5 681.3,60.2 682,62.9 682.8,65.8 683.5,68.6 684.2,71.5 684.9,74.5 685.6,77.4 686.3,80.4 687,83.3 687.7,86.3 688.4,89.2 689.1,92.1 689.8,95 690.5,97.8 691.2,100.6 691.9,103.4 692.6,106.1 693.3,108.8 694,111.3 694.7,113.9 695.4,116.4 696.1,118.8 696.8,121.1 697.5,123.4 698.3,125.6 699,127.7 699.7,129.7 700.4,131.7 701.1,133.6 701.8,135.5 702.5,137.2 703.2,138.9 703.9,140.5 704.6,142.1 705.3,143.6 706,145 706.7,146.3 707.4,147.6 708.1,148.8 708.8,150 709.5,151.1 710.2,152.2 710.9,153.2 711.6,154.1 712.3,155 713,155.8 713.8,156.6 714.5,157.4 715.2,158.1 715.9,158.7 716.6,159.3 717.3,159.9 718.7,160.9 720.1,161.8 721.5,162.5 722.9,163.1 724.3,163.6 725.7,164 727.1,164.3 728.5,164.6 730,164.8 731.4,165 732.8,165.2 734.2,165.4 735.6,165.5 737,165.7 738.4,165.8 739.8,165.9 741.2,166 742.6,166.2 744,166.3 745.5,166.4 749,166.6 752.5,166.8 756,167 759.5,167.2 763.1,167.4 766.6,167.5 770.1,167.6 773.6,167.7 777.2,167.9 780.7,167.9 784.2,168 787.7,168.1" fill="none" stroke="#2c2c2c" stroke-width="1.0" stroke-linejoin="round"/><path d="M643.30,24.20V168.80H788.42" fill="none" stroke="#111" stroke-width="1.5" stroke-linecap="butt"/><path d="M639.30,168.80H643.30" stroke="#111" stroke-width="1.4"/><text x="637.70" y="172.90" text-anchor="end" font-size="10">0.0</text><path d="M641.30,155.12H643.30" stroke="#111" stroke-width="1.4"/><path d="M639.30,141.45H643.30" stroke="#111" stroke-width="1.4"/><text x="637.70" y="145.55" text-anchor="end" font-size="10">0.2</text><path d="M641.30,127.78H643.30" stroke="#111" stroke-width="1.4"/><path d="M639.30,114.10H643.30" stroke="#111" stroke-width="1.4"/><text x="637.70" y="118.20" text-anchor="end" font-size="10">0.4</text><path d="M641.30,100.43H643.30" stroke="#111" stroke-width="1.4"/><path d="M639.30,86.75H643.30" stroke="#111" stroke-width="1.4"/><text x="637.70" y="90.85" text-anchor="end" font-size="10">0.6</text><path d="M641.30,73.08H643.30" stroke="#111" stroke-width="1.4"/><path d="M639.30,59.40H643.30" stroke="#111" stroke-width="1.4"/><text x="637.70" y="63.50" text-anchor="end" font-size="10">0.8</text><path d="M641.30,45.73H643.30" stroke="#111" stroke-width="1.4"/><path d="M639.30,32.05H643.30" stroke="#111" stroke-width="1.4"/><text x="637.70" y="36.15" text-anchor="end" font-size="10">1.0</text><path d="M646.82,168.80V172.80" stroke="#111" stroke-width="1.4"/><text x="646.82" y="185.70" text-anchor="middle" font-size="10">300</text><path d="M664.43,168.80V171.00" stroke="#111" stroke-width="1.4"/><path d="M682.05,168.80V172.80" stroke="#111" stroke-width="1.4"/><text x="682.05" y="185.70" text-anchor="middle" font-size="10">350</text><path d="M699.66,168.80V171.00" stroke="#111" stroke-width="1.4"/><path d="M717.27,168.80V172.80" stroke="#111" stroke-width="1.4"/><text x="717.27" y="185.70" text-anchor="middle" font-size="10">400</text><path d="M734.88,168.80V171.00" stroke="#111" stroke-width="1.4"/><path d="M752.50,168.80V172.80" stroke="#111" stroke-width="1.4"/><text x="752.50" y="185.70" text-anchor="middle" font-size="10">450</text><path d="M770.11,168.80V171.00" stroke="#111" stroke-width="1.4"/><path d="M787.72,168.80V172.80" stroke="#111" stroke-width="1.4"/><text x="787.72" y="185.70" text-anchor="middle" font-size="10">500</text><text x="715.21" y="203.20" text-anchor="middle" font-size="11" textLength="88.4" lengthAdjust="spacingAndGlyphs">Wavelength (nm)</text><text x="715.21" y="25.10" text-anchor="middle" font-size="11" textLength="89.4" lengthAdjust="spacingAndGlyphs">WPI-Lut at pH 9.5</text><text transform="translate(617.40,96.10) rotate(-90)" text-anchor="middle" font-size="11" textLength="139.8" lengthAdjust="spacingAndGlyphs">Fluorescence intensity (a.u.)</text><text transform="translate(606.65,18.50) scale(0.923,1)" font-size="23.5" font-weight="bold" style="fill:#000">D</text><path d="M723.30,74.80V108.70" stroke="#222" stroke-width="1"/><path d="M721.75,106.40L724.85,106.40L724.10,113.50L723.30,114.70L722.50,113.50Z" fill="#111"/><text x="726.50" y="81.70" font-size="9" textLength="20.6" lengthAdjust="spacingAndGlyphs">0 μM</text><text x="726.50" y="114.70" font-size="9" textLength="33.6" lengthAdjust="spacingAndGlyphs">22.5 μM</text></g><g><path d="M38.1,389 38.8,388.3 39.5,387.5 40.2,386.6 40.9,385.6 41.6,384.4 42.3,383 43,381.6 43.7,380 44.4,378.3 45.1,376.6 45.8,374.7 46.6,372.8 47.3,370.9 48,369 48.7,367 49.4,365.1 50.1,363.3 50.8,361.4 51.5,359.7 52.2,358 52.9,356.5 53.6,355 54.3,353.6 55,352.3 55.7,351.2 56.4,350.1 57.1,349.2 57.8,348.4 58.5,347.7 59.2,347.1 59.9,346.6 60.6,346.2 61.3,346 62.1,345.8 62.8,345.8 63.5,345.8 64.2,346 64.9,346.3 65.6,346.7 66.3,347.1 67,347.7 67.7,348.4 68.4,349.2 69.1,350 69.8,351 70.5,352 71.2,353 71.9,354.2 72.6,355.3 73.3,356.6 74,357.8 74.7,359.1 75.4,360.4 76.1,361.7 76.8,363.1 77.6,364.4 78.3,365.8 79,367.1 79.7,368.4 80.4,369.7 81.1,371 81.8,372.2 82.5,373.4 83.2,374.6 83.9,375.7 84.6,376.8 85.3,377.8 86,378.8 86.7,379.7 87.4,380.6 88.1,381.4 88.8,382.2 89.5,383 90.2,383.6 90.9,384.2 91.6,384.8 92.3,385.3 93.1,385.7 93.8,386.1 94.5,386.4 95.2,386.7 95.9,386.9 96.6,387.1 97.3,387.2 98,387.4 98.7,387.4 99.4,387.5 100.1,387.6 100.8,387.6 101.5,387.7 102.2,387.7 102.9,387.8 103.6,387.8 104.3,387.9 105,387.9 105.7,388 106.4,388 107.1,388 107.8,388.1 108.5,388.1 109.3,388.2 110,388.2 110.7,388.2 111.4,388.3 112.1,388.3 113.5,388.4 114.9,388.5 116.3,388.5 117.7,388.6 119.1,388.7 120.5,388.7 121.9,388.8 123.3,388.9 124.8,388.9 126.2,389 127.6,389 129,389.1 130.4,389.1 131.8,389.2 133.2,389.2 134.6,389.3 136,389.3 137.4,389.4 138.8,389.4 140.3,389.5 143.8,389.6 147.3,389.7 150.8,389.8 154.3,389.9 157.9,390 161.4,390.1 164.9,390.1 168.4,390.2 172,390.3 175.5,390.4 179,390.4 182.5,390.5" fill="none" stroke="#c83a8a" stroke-width="1.1" stroke-linejoin="round"/><path d="M38.1,388.7 38.8,388 39.5,387.1 40.2,386.1 40.9,385 41.6,383.7 42.3,382.2 43,380.7 43.7,379 44.4,377.2 45.1,375.2 45.8,373.3 46.6,371.2 47.3,369.1 48,367 48.7,364.9 49.4,362.8 50.1,360.8 50.8,358.8 51.5,356.9 52.2,355 52.9,353.3 53.6,351.7 54.3,350.2 55,348.8 55.7,347.5 56.4,346.3 57.1,345.3 57.8,344.3 58.5,343.5 59.2,342.9 59.9,342.3 60.6,341.9 61.3,341.6 62.1,341.4 62.8,341.3 63.5,341.3 64.2,341.5 64.9,341.8 65.6,342.2 66.3,342.7 67,343.3 67.7,344 68.4,344.8 69.1,345.7 69.8,346.7 70.5,347.7 71.2,348.9 71.9,350.1 72.6,351.3 73.3,352.6 74,354 74.7,355.4 75.4,356.8 76.1,358.3 76.8,359.7 77.6,361.2 78.3,362.6 79,364.1 79.7,365.5 80.4,366.9 81.1,368.3 81.8,369.7 82.5,371 83.2,372.3 83.9,373.5 84.6,374.7 85.3,375.9 86,377 86.7,378 87.4,379 88.1,380 88.8,380.9 89.5,381.7 90.2,382.5 90.9,383.2 91.6,383.9 92.3,384.5 93.1,385 93.8,385.5 94.5,385.9 95.2,386.3 95.9,386.6 96.6,386.9 97.3,387.1 98,387.2 98.7,387.4 99.4,387.5 100.1,387.5 100.8,387.6 101.5,387.7 102.2,387.7 102.9,387.8 103.6,387.8 104.3,387.9 105,387.9 105.7,388 106.4,388 107.1,388 107.8,388.1 108.5,388.1 109.3,388.2 110,388.2 110.7,388.2 111.4,388.3 112.1,388.3 113.5,388.4 114.9,388.5 116.3,388.5 117.7,388.6 119.1,388.7 120.5,388.7 121.9,388.8 123.3,388.9 124.8,388.9 126.2,389 127.6,389 129,389.1 130.4,389.1 131.8,389.2 133.2,389.2 134.6,389.3 136,389.3 137.4,389.4 138.8,389.4 140.3,389.5 143.8,389.6 147.3,389.7 150.8,389.8 154.3,389.9 157.9,390 161.4,390.1 164.9,390.1 168.4,390.2 172,390.3 175.5,390.4 179,390.4 182.5,390.5" fill="none" stroke="#9435b4" stroke-width="1.1" stroke-linejoin="round"/><path d="M38.1,388.4 38.8,387.5 39.5,386.6 40.2,385.5 40.9,384.2 41.6,382.8 42.3,381.2 43,379.4 43.7,377.6 44.4,375.6 45.1,373.5 45.8,371.3 46.6,369 47.3,366.7 48,364.4 48.7,362.1 49.4,359.8 50.1,357.5 50.8,355.3 51.5,353.2 52.2,351.1 52.9,349.2 53.6,347.3 54.3,345.6 55,344 55.7,342.6 56.4,341.2 57.1,340 57.8,339 58.5,338 59.2,337.2 59.9,336.6 60.6,336.1 61.3,335.7 62.1,335.4 62.8,335.3 63.5,335.3 64.2,335.4 64.9,335.7 65.6,336.1 66.3,336.6 67,337.2 67.7,337.9 68.4,338.8 69.1,339.7 69.8,340.8 70.5,341.9 71.2,343.2 71.9,344.5 72.6,345.8 73.3,347.3 74,348.7 74.7,350.3 75.4,351.8 76.1,353.4 76.8,355 77.6,356.6 78.3,358.2 79,359.8 79.7,361.4 80.4,363 81.1,364.6 81.8,366.1 82.5,367.6 83.2,369 83.9,370.4 84.6,371.8 85.3,373.1 86,374.4 86.7,375.6 87.4,376.7 88.1,377.8 88.8,378.8 89.5,379.8 90.2,380.7 90.9,381.6 91.6,382.4 92.3,383.1 93.1,383.8 93.8,384.4 94.5,385 95.2,385.5 95.9,385.9 96.6,386.3 97.3,386.6 98,386.9 98.7,387.1 99.4,387.3 100.1,387.4 100.8,387.5 101.5,387.6 102.2,387.7 102.9,387.8 103.6,387.8 104.3,387.9 105,387.9 105.7,388 106.4,388 107.1,388 107.8,388.1 108.5,388.1 109.3,388.2 110,388.2 110.7,388.2 111.4,388.3 112.1,388.3 113.5,388.4 114.9,388.5 116.3,388.5 117.7,388.6 119.1,388.7 120.5,388.7 121.9,388.8 123.3,388.9 124.8,388.9 126.2,389 127.6,389 129,389.1 130.4,389.1 131.8,389.2 133.2,389.2 134.6,389.3 136,389.3 137.4,389.4 138.8,389.4 140.3,389.5 143.8,389.6 147.3,389.7 150.8,389.8 154.3,389.9 157.9,390 161.4,390.1 164.9,390.1 168.4,390.2 172,390.3 175.5,390.4 179,390.4 182.5,390.5" fill="none" stroke="#3737c8" stroke-width="1.1" stroke-linejoin="round"/><path d="M38.1,387.9 38.8,387 39.5,385.9 40.2,384.7 40.9,383.3 41.6,381.7 42.3,380 43,378.1 43.7,376 44.4,373.8 45.1,371.5 45.8,369.1 46.6,366.6 47.3,364.1 48,361.5 48.7,359 49.4,356.4 50.1,353.9 50.8,351.4 51.5,349 52.2,346.7 52.9,344.6 53.6,342.5 54.3,340.5 55,338.7 55.7,337.1 56.4,335.5 57.1,334.2 57.8,332.9 58.5,331.9 59.2,330.9 59.9,330.1 60.6,329.5 61.3,329 62.1,328.7 62.8,328.5 63.5,328.4 64.2,328.5 64.9,328.8 65.6,329.1 66.3,329.6 67,330.3 67.7,331 68.4,331.9 69.1,332.9 69.8,334.1 70.5,335.3 71.2,336.6 71.9,338 72.6,339.5 73.3,341 74,342.6 74.7,344.3 75.4,346 76.1,347.7 76.8,349.5 77.6,351.2 78.3,353 79,354.8 79.7,356.6 80.4,358.3 81.1,360 81.8,361.8 82.5,363.4 83.2,365.1 83.9,366.6 84.6,368.2 85.3,369.7 86,371.1 86.7,372.5 87.4,373.8 88.1,375.1 88.8,376.3 89.5,377.4 90.2,378.5 90.9,379.5 91.6,380.4 92.3,381.3 93.1,382.2 93.8,382.9 94.5,383.6 95.2,384.3 95.9,384.9 96.6,385.4 97.3,385.9 98,386.3 98.7,386.6 99.4,386.9 100.1,387.1 100.8,387.3 101.5,387.5 102.2,387.6 102.9,387.7 103.6,387.8 104.3,387.8 105,387.9 105.7,387.9 106.4,388 107.1,388 107.8,388.1 108.5,388.1 109.3,388.2 110,388.2 110.7,388.2 111.4,388.3 112.1,388.3 113.5,388.4 114.9,388.5 116.3,388.5 117.7,388.6 119.1,388.7 120.5,388.7 121.9,388.8 123.3,388.9 124.8,388.9 126.2,389 127.6,389 129,389.1 130.4,389.1 131.8,389.2 133.2,389.2 134.6,389.3 136,389.3 137.4,389.4 138.8,389.4 140.3,389.5 143.8,389.6 147.3,389.7 150.8,389.8 154.3,389.9 157.9,390 161.4,390.1 164.9,390.1 168.4,390.2 172,390.3 175.5,390.4 179,390.4 182.5,390.5" fill="none" stroke="#2b9db0" stroke-width="1.1" stroke-linejoin="round"/><path d="M38.1,387.4 38.8,386.3 39.5,385.2 40.2,383.8 40.9,382.2 41.6,380.5 42.3,378.6 43,376.5 43.7,374.2 44.4,371.8 45.1,369.2 45.8,366.6 46.6,363.9 47.3,361.1 48,358.2 48.7,355.4 49.4,352.5 50.1,349.7 50.8,347 51.5,344.3 52.2,341.7 52.9,339.3 53.6,336.9 54.3,334.7 55,332.6 55.7,330.7 56.4,329 57.1,327.4 57.8,325.9 58.5,324.7 59.2,323.6 59.9,322.6 60.6,321.8 61.3,321.2 62.1,320.8 62.8,320.5 63.5,320.4 64.2,320.4 64.9,320.6 65.6,320.9 66.3,321.4 67,322.1 67.7,322.9 68.4,323.8 69.1,324.8 69.8,326 70.5,327.3 71.2,328.7 71.9,330.2 72.6,331.8 73.3,333.5 74,335.2 74.7,337 75.4,338.9 76.1,340.8 76.8,342.7 77.6,344.7 78.3,346.6 79,348.6 79.7,350.5 80.4,352.5 81.1,354.4 81.8,356.3 82.5,358.2 83.2,360 83.9,361.8 84.6,363.6 85.3,365.3 86,366.9 86.7,368.5 87.4,370 88.1,371.5 88.8,372.8 89.5,374.2 90.2,375.4 90.9,376.6 91.6,377.8 92.3,378.8 93.1,379.8 93.8,380.7 94.5,381.6 95.2,382.4 95.9,383.2 96.6,383.9 97.3,384.5 98,385.1 98.7,385.6 99.4,386 100.1,386.4 100.8,386.8 101.5,387 102.2,387.3 102.9,387.4 103.6,387.6 104.3,387.7 105,387.8 105.7,387.9 106.4,388 107.1,388 107.8,388.1 108.5,388.1 109.3,388.2 110,388.2 110.7,388.2 111.4,388.3 112.1,388.3 113.5,388.4 114.9,388.5 116.3,388.5 117.7,388.6 119.1,388.7 120.5,388.7 121.9,388.8 123.3,388.9 124.8,388.9 126.2,389 127.6,389 129,389.1 130.4,389.1 131.8,389.2 133.2,389.2 134.6,389.3 136,389.3 137.4,389.4 138.8,389.4 140.3,389.5 143.8,389.6 147.3,389.7 150.8,389.8 154.3,389.9 157.9,390 161.4,390.1 164.9,390.1 168.4,390.2 172,390.3 175.5,390.4 179,390.4 182.5,390.5" fill="none" stroke="#2a9a3c" stroke-width="1.1" stroke-linejoin="round"/><path d="M38.1,386.8 38.8,385.7 39.5,384.4 40.2,382.9 40.9,381.2 41.6,379.3 42.3,377.2 43,375 43.7,372.5 44.4,369.9 45.1,367.2 45.8,364.3 46.6,361.3 47.3,358.3 48,355.2 48.7,352.1 49.4,349 50.1,346 50.8,343 51.5,340 52.2,337.2 52.9,334.5 53.6,331.9 54.3,329.4 55,327.1 55.7,325 56.4,323 57.1,321.2 57.8,319.5 58.5,318.1 59.2,316.8 59.9,315.7 60.6,314.8 61.3,314 62.1,313.5 62.8,313.1 63.5,312.9 64.2,312.8 64.9,313 65.6,313.3 66.3,313.8 67,314.4 67.7,315.2 68.4,316.1 69.1,317.2 69.8,318.5 70.5,319.8 71.2,321.3 71.9,322.9 72.6,324.6 73.3,326.4 74,328.2 74.7,330.1 75.4,332.1 76.1,334.1 76.8,336.2 77.6,338.3 78.3,340.4 79,342.6 79.7,344.7 80.4,346.8 81.1,348.9 81.8,351 82.5,353.1 83.2,355.1 83.9,357 84.6,359 85.3,360.8 86,362.7 86.7,364.4 87.4,366.1 88.1,367.7 88.8,369.3 89.5,370.8 90.2,372.2 90.9,373.6 91.6,374.9 92.3,376.1 93.1,377.2 93.8,378.3 94.5,379.3 95.2,380.3 95.9,381.2 96.6,382 97.3,382.8 98,383.5 98.7,384.2 99.4,384.8 100.1,385.3 100.8,385.8 101.5,386.2 102.2,386.6 102.9,386.9 103.6,387.2 104.3,387.4 105,387.6 105.7,387.7 106.4,387.8 107.1,387.9 107.8,388 108.5,388.1 109.3,388.1 110,388.2 110.7,388.2 111.4,388.3 112.1,388.3 113.5,388.4 114.9,388.5 116.3,388.5 117.7,388.6 119.1,388.7 120.5,388.7 121.9,388.8 123.3,388.9 124.8,388.9 126.2,389 127.6,389 129,389.1 130.4,389.1 131.8,389.2 133.2,389.2 134.6,389.3 136,389.3 137.4,389.4 138.8,389.4 140.3,389.5 143.8,389.6 147.3,389.7 150.8,389.8 154.3,389.9 157.9,390 161.4,390.1 164.9,390.1 168.4,390.2 172,390.3 175.5,390.4 179,390.4 182.5,390.5" fill="none" stroke="#c9c92a" stroke-width="1.1" stroke-linejoin="round"/><path d="M38.1,386 38.8,384.7 39.5,383.2 40.2,381.5 40.9,379.6 41.6,377.5 42.3,375.2 43,372.7 43.7,370 44.4,367.1 45.1,364.1 45.8,360.9 46.6,357.6 47.3,354.3 48,350.8 48.7,347.4 49.4,343.9 50.1,340.5 50.8,337.1 51.5,333.8 52.2,330.6 52.9,327.5 53.6,324.5 54.3,321.7 55,319 55.7,316.5 56.4,314.2 57.1,312.1 57.8,310.1 58.5,308.3 59.2,306.8 59.9,305.4 60.6,304.3 61.3,303.3 62.1,302.5 62.8,302 63.5,301.6 64.2,301.5 64.9,301.5 65.6,301.8 66.3,302.2 67,302.8 67.7,303.6 68.4,304.6 69.1,305.7 69.8,307 70.5,308.4 71.2,310 71.9,311.7 72.6,313.5 73.3,315.5 74,317.5 74.7,319.6 75.4,321.7 76.1,323.9 76.8,326.2 77.6,328.5 78.3,330.8 79,333.2 79.7,335.5 80.4,337.9 81.1,340.2 81.8,342.5 82.5,344.8 83.2,347.1 83.9,349.3 84.6,351.4 85.3,353.6 86,355.6 86.7,357.6 87.4,359.5 88.1,361.4 88.8,363.2 89.5,364.9 90.2,366.6 90.9,368.2 91.6,369.7 92.3,371.1 93.1,372.5 93.8,373.8 94.5,375.1 95.2,376.2 95.9,377.3 96.6,378.4 97.3,379.3 98,380.3 98.7,381.1 99.4,381.9 100.1,382.7 100.8,383.3 101.5,384 102.2,384.6 102.9,385.1 103.6,385.6 104.3,386 105,386.4 105.7,386.8 106.4,387.1 107.1,387.3 107.8,387.5 108.5,387.7 109.3,387.9 110,388 110.7,388.1 111.4,388.2 112.1,388.2 113.5,388.4 114.9,388.4 116.3,388.5 117.7,388.6 119.1,388.7 120.5,388.7 121.9,388.8 123.3,388.9 124.8,388.9 126.2,389 127.6,389 129,389.1 130.4,389.1 131.8,389.2 133.2,389.2 134.6,389.3 136,389.3 137.4,389.4 138.8,389.4 140.3,389.5 143.8,389.6 147.3,389.7 150.8,389.8 154.3,389.9 157.9,390 161.4,390.1 164.9,390.1 168.4,390.2 172,390.3 175.5,390.4 179,390.4 182.5,390.5" fill="none" stroke="#f07a2c" stroke-width="1.1" stroke-linejoin="round"/><path d="M38.1,384.8 38.8,383.4 39.5,381.7 40.2,379.8 40.9,377.7 41.6,375.3 42.3,372.8 43,370 43.7,367 44.4,363.8 45.1,360.5 45.8,357 46.6,353.4 47.3,349.7 48,345.9 48.7,342.1 49.4,338.2 50.1,334.4 50.8,330.6 51.5,326.9 52.2,323.2 52.9,319.7 53.6,316.3 54.3,313 55,309.9 55.7,307 56.4,304.2 57.1,301.7 57.8,299.3 58.5,297.2 59.2,295.3 59.9,293.6 60.6,292.1 61.3,290.9 62.1,289.9 62.8,289.1 63.5,288.5 64.2,288.2 64.9,288.1 65.6,288.2 66.3,288.6 67,289.1 67.7,289.9 68.4,290.9 69.1,292.1 69.8,293.5 70.5,295.1 71.2,296.8 71.9,298.6 72.6,300.6 73.3,302.7 74,304.9 74.7,307.2 75.4,309.5 76.1,311.9 76.8,314.4 77.6,316.9 78.3,319.4 79,322 79.7,324.5 80.4,327.1 81.1,329.6 81.8,332.1 82.5,334.6 83.2,337.1 83.9,339.5 84.6,341.9 85.3,344.2 86,346.4 86.7,348.6 87.4,350.8 88.1,352.8 88.8,354.8 89.5,356.8 90.2,358.6 90.9,360.4 91.6,362.2 92.3,363.8 93.1,365.4 93.8,366.9 94.5,368.4 95.2,369.8 95.9,371.1 96.6,372.3 97.3,373.5 98,374.7 98.7,375.7 99.4,376.7 100.1,377.7 100.8,378.6 101.5,379.5 102.2,380.3 102.9,381 103.6,381.7 104.3,382.4 105,383 105.7,383.6 106.4,384.1 107.1,384.6 107.8,385.1 108.5,385.5 109.3,385.9 110,386.3 110.7,386.6 111.4,386.9 112.1,387.2 113.5,387.6 114.9,388 116.3,388.2 117.7,388.4 119.1,388.6 120.5,388.7 121.9,388.8 123.3,388.8 124.8,388.9 126.2,389 127.6,389 129,389.1 130.4,389.1 131.8,389.2 133.2,389.2 134.6,389.3 136,389.3 137.4,389.4 138.8,389.4 140.3,389.5 143.8,389.6 147.3,389.7 150.8,389.8 154.3,389.9 157.9,390 161.4,390.1 164.9,390.1 168.4,390.2 172,390.3 175.5,390.4 179,390.4 182.5,390.5" fill="none" stroke="#e42b2b" stroke-width="1.1" stroke-linejoin="round"/><path d="M38.1,383.9 38.8,382 39.5,379.9 40.2,377.4 40.9,374.6 41.6,371.4 42.3,368 43,364.2 43.7,360.1 44.4,355.7 45.1,351.1 45.8,346.3 46.6,341.2 47.3,336.1 48,330.8 48.7,325.5 49.4,320.1 50.1,314.8 50.8,309.6 51.5,304.4 52.2,299.4 52.9,294.6 53.6,289.9 54.3,285.5 55,281.4 55.7,277.5 56.4,273.9 57.1,270.6 57.8,267.5 58.5,264.8 59.2,262.4 59.9,260.3 60.6,258.6 61.3,257.1 62.1,256 62.8,255.2 63.5,254.8 64.2,254.6 64.9,254.8 65.6,255.2 66.3,255.8 67,256.7 67.7,257.8 68.4,259.1 69.1,260.6 69.8,262.3 70.5,264.1 71.2,266.1 71.9,268.3 72.6,270.6 73.3,273 74,275.5 74.7,278.1 75.4,280.7 76.1,283.5 76.8,286.3 77.6,289.1 78.3,292 79,294.9 79.7,297.8 80.4,300.7 81.1,303.6 81.8,306.5 82.5,309.4 83.2,312.3 83.9,315.1 84.6,317.9 85.3,320.6 86,323.3 86.7,325.9 87.4,328.5 88.1,331.1 88.8,333.5 89.5,336 90.2,338.3 90.9,340.6 91.6,342.8 92.3,344.9 93.1,347 93.8,349 94.5,351 95.2,352.9 95.9,354.7 96.6,356.4 97.3,358.1 98,359.7 98.7,361.3 99.4,362.8 100.1,364.2 100.8,365.6 101.5,366.9 102.2,368.1 102.9,369.3 103.6,370.5 104.3,371.5 105,372.6 105.7,373.6 106.4,374.5 107.1,375.4 107.8,376.3 108.5,377.1 109.3,377.8 110,378.6 110.7,379.2 111.4,379.9 112.1,380.5 113.5,381.6 114.9,382.6 116.3,383.5 117.7,384.3 119.1,384.9 120.5,385.5 121.9,386 123.3,386.4 124.8,386.8 126.2,387.1 127.6,387.4 129,387.6 130.4,387.8 131.8,388 133.2,388.2 134.6,388.3 136,388.4 137.4,388.6 138.8,388.7 140.3,388.8 143.8,389.1 147.3,389.3 150.8,389.5 154.3,389.7 157.9,389.9 161.4,390 164.9,390.2 168.4,390.3 172,390.4 175.5,390.5 179,390.6 182.5,390.7" fill="none" stroke="#2c2c2c" stroke-width="1.0" stroke-linejoin="round"/><path d="M38.10,246.70V391.40H183.22" fill="none" stroke="#111" stroke-width="1.5" stroke-linecap="butt"/><path d="M34.10,391.40H38.10" stroke="#111" stroke-width="1.4"/><text x="32.50" y="395.50" text-anchor="end" font-size="10">0.0</text><path d="M36.10,377.71H38.10" stroke="#111" stroke-width="1.4"/><path d="M34.10,364.02H38.10" stroke="#111" stroke-width="1.4"/><text x="32.50" y="368.12" text-anchor="end" font-size="10">0.2</text><path d="M36.10,350.33H38.10" stroke="#111" stroke-width="1.4"/><path d="M34.10,336.64H38.10" stroke="#111" stroke-width="1.4"/><text x="32.50" y="340.74" text-anchor="end" font-size="10">0.4</text><path d="M36.10,322.95H38.10" stroke="#111" stroke-width="1.4"/><path d="M34.10,309.26H38.10" stroke="#111" stroke-width="1.4"/><text x="32.50" y="313.36" text-anchor="end" font-size="10">0.6</text><path d="M36.10,295.57H38.10" stroke="#111" stroke-width="1.4"/><path d="M34.10,281.88H38.10" stroke="#111" stroke-width="1.4"/><text x="32.50" y="285.98" text-anchor="end" font-size="10">0.8</text><path d="M36.10,268.19H38.10" stroke="#111" stroke-width="1.4"/><path d="M34.10,254.50H38.10" stroke="#111" stroke-width="1.4"/><text x="32.50" y="258.60" text-anchor="end" font-size="10">1.0</text><path d="M41.62,391.40V395.40" stroke="#111" stroke-width="1.4"/><text x="41.62" y="408.30" text-anchor="middle" font-size="10">300</text><path d="M59.23,391.40V393.60" stroke="#111" stroke-width="1.4"/><path d="M76.85,391.40V395.40" stroke="#111" stroke-width="1.4"/><text x="76.85" y="408.30" text-anchor="middle" font-size="10">350</text><path d="M94.46,391.40V393.60" stroke="#111" stroke-width="1.4"/><path d="M112.07,391.40V395.40" stroke="#111" stroke-width="1.4"/><text x="112.07" y="408.30" text-anchor="middle" font-size="10">400</text><path d="M129.69,391.40V393.60" stroke="#111" stroke-width="1.4"/><path d="M147.30,391.40V395.40" stroke="#111" stroke-width="1.4"/><text x="147.30" y="408.30" text-anchor="middle" font-size="10">450</text><path d="M164.91,391.40V393.60" stroke="#111" stroke-width="1.4"/><path d="M182.52,391.40V395.40" stroke="#111" stroke-width="1.4"/><text x="182.52" y="408.30" text-anchor="middle" font-size="10">500</text><text x="110.01" y="425.80" text-anchor="middle" font-size="11" textLength="88.4" lengthAdjust="spacingAndGlyphs">Wavelength (nm)</text><text x="110.01" y="247.60" text-anchor="middle" font-size="11" textLength="84.6" lengthAdjust="spacingAndGlyphs">WPI-Zx at pH 2.5</text><text transform="translate(12.20,318.65) rotate(-90)" text-anchor="middle" font-size="11" textLength="139.8" lengthAdjust="spacingAndGlyphs">Fluorescence intensity (a.u.)</text><text transform="translate(3.59,238.60) scale(0.705,1)" font-size="23.5" font-weight="bold" style="fill:#000">E</text><path d="M116.00,298.10V331.70" stroke="#222" stroke-width="1"/><path d="M114.45,329.40L117.55,329.40L116.80,336.50L116.00,337.70L115.20,336.50Z" fill="#111"/><text x="119.20" y="305.00" font-size="9" textLength="20.6" lengthAdjust="spacingAndGlyphs">0 μM</text><text x="119.20" y="337.70" font-size="9" textLength="33.6" lengthAdjust="spacingAndGlyphs">22.5 μM</text></g><g><path d="M239.8,388.3 240.5,387.6 241.2,386.9 241.9,386.1 242.6,385.2 243.3,384.2 244,383.1 244.7,381.9 245.4,380.6 246.1,379.2 246.8,377.8 247.5,376.3 248.3,374.8 249,373.2 249.7,371.6 250.4,369.9 251.1,368.3 251.8,366.6 252.5,365 253.2,363.4 253.9,361.8 254.6,360.3 255.3,358.8 256,357.4 256.7,356.1 257.4,354.8 258.1,353.6 258.8,352.5 259.5,351.5 260.2,350.7 260.9,349.9 261.6,349.2 262.3,348.6 263,348.2 263.8,347.8 264.5,347.6 265.2,347.5 265.9,347.5 266.6,347.6 267.3,347.9 268,348.2 268.7,348.7 269.4,349.2 270.1,349.8 270.8,350.6 271.5,351.4 272.2,352.3 272.9,353.3 273.6,354.3 274.3,355.4 275,356.6 275.7,357.8 276.4,359 277.1,360.3 277.8,361.6 278.5,362.9 279.3,364.2 280,365.5 280.7,366.8 281.4,368.2 282.1,369.4 282.8,370.7 283.5,372 284.2,373.2 284.9,374.3 285.6,375.5 286.3,376.6 287,377.6 287.7,378.6 288.4,379.6 289.1,380.5 289.8,381.3 290.5,382.1 291.2,382.8 291.9,383.5 292.6,384.1 293.3,384.7 294,385.2 294.8,385.6 295.5,386 296.2,386.3 296.9,386.6 297.6,386.8 298.3,387 299,387.1 299.7,387.2 300.4,387.3 301.1,387.4 301.8,387.5 302.5,387.5 303.2,387.6 303.9,387.7 304.6,387.7 305.3,387.8 306,387.8 306.7,387.9 307.4,387.9 308.1,388 308.8,388 309.5,388.1 310.2,388.1 311,388.1 311.7,388.2 312.4,388.2 313.1,388.3 313.8,388.3 315.2,388.4 316.6,388.5 318,388.6 319.4,388.6 320.8,388.7 322.2,388.8 323.6,388.9 325,388.9 326.5,389 327.9,389.1 329.3,389.1 330.7,389.2 332.1,389.2 333.5,389.3 334.9,389.4 336.3,389.4 337.7,389.5 339.1,389.5 340.5,389.6 342,389.6 345.5,389.7 349,389.9 352.5,390 356,390.1 359.6,390.1 363.1,390.2 366.6,390.3 370.1,390.4 373.7,390.4 377.2,390.5 380.7,390.6 384.2,390.6" fill="none" stroke="#c83a8a" stroke-width="1.1" stroke-linejoin="round"/><path d="M239.8,388 240.5,387.4 241.2,386.6 241.9,385.7 242.6,384.7 243.3,383.6 244,382.5 244.7,381.2 245.4,379.8 246.1,378.4 246.8,376.9 247.5,375.3 248.3,373.6 249,371.9 249.7,370.2 250.4,368.4 251.1,366.7 251.8,364.9 252.5,363.2 253.2,361.5 253.9,359.8 254.6,358.1 255.3,356.5 256,355 256.7,353.6 257.4,352.2 258.1,351 258.8,349.8 259.5,348.7 260.2,347.8 260.9,346.9 261.6,346.2 262.3,345.6 263,345.1 263.8,344.7 264.5,344.4 265.2,344.3 265.9,344.3 266.6,344.4 267.3,344.7 268,345 268.7,345.5 269.4,346 270.1,346.7 270.8,347.5 271.5,348.3 272.2,349.3 272.9,350.3 273.6,351.4 274.3,352.6 275,353.8 275.7,355.1 276.4,356.4 277.1,357.7 277.8,359.1 278.5,360.5 279.3,361.9 280,363.3 280.7,364.7 281.4,366.1 282.1,367.5 282.8,368.8 283.5,370.2 284.2,371.5 284.9,372.7 285.6,373.9 286.3,375.1 287,376.3 287.7,377.3 288.4,378.4 289.1,379.4 289.8,380.3 290.5,381.2 291.2,382 291.9,382.7 292.6,383.4 293.3,384.1 294,384.6 294.8,385.2 295.5,385.6 296.2,386 296.9,386.3 297.6,386.6 298.3,386.8 299,387 299.7,387.2 300.4,387.3 301.1,387.4 301.8,387.5 302.5,387.5 303.2,387.6 303.9,387.6 304.6,387.7 305.3,387.8 306,387.8 306.7,387.9 307.4,387.9 308.1,388 308.8,388 309.5,388.1 310.2,388.1 311,388.1 311.7,388.2 312.4,388.2 313.1,388.3 313.8,388.3 315.2,388.4 316.6,388.5 318,388.6 319.4,388.6 320.8,388.7 322.2,388.8 323.6,388.9 325,388.9 326.5,389 327.9,389.1 329.3,389.1 330.7,389.2 332.1,389.2 333.5,389.3 334.9,389.4 336.3,389.4 337.7,389.5 339.1,389.5 340.5,389.6 342,389.6 345.5,389.7 349,389.9 352.5,390 356,390.1 359.6,390.1 363.1,390.2 366.6,390.3 370.1,390.4 373.7,390.4 377.2,390.5 380.7,390.6 384.2,390.6" fill="none" stroke="#9435b4" stroke-width="1.1" stroke-linejoin="round"/><path d="M239.8,387.5 240.5,386.8 241.2,385.9 241.9,384.9 242.6,383.8 243.3,382.5 244,381.2 244.7,379.8 245.4,378.2 246.1,376.6 246.8,374.9 247.5,373.1 248.3,371.2 249,369.3 249.7,367.3 250.4,365.4 251.1,363.4 251.8,361.4 252.5,359.4 253.2,357.4 253.9,355.5 254.6,353.6 255.3,351.8 256,350.1 256.7,348.4 257.4,346.9 258.1,345.4 258.8,344.1 259.5,342.8 260.2,341.7 260.9,340.7 261.6,339.9 262.3,339.1 263,338.6 263.8,338.1 264.5,337.8 265.2,337.6 265.9,337.6 266.6,337.7 267.3,337.9 268,338.3 268.7,338.8 269.4,339.4 270.1,340.1 270.8,340.9 271.5,341.9 272.2,342.9 272.9,344 273.6,345.2 274.3,346.5 275,347.9 275.7,349.3 276.4,350.7 277.1,352.2 277.8,353.8 278.5,355.3 279.3,356.9 280,358.5 280.7,360.1 281.4,361.6 282.1,363.2 282.8,364.7 283.5,366.2 284.2,367.7 284.9,369.2 285.6,370.6 286.3,371.9 287,373.2 287.7,374.5 288.4,375.7 289.1,376.8 289.8,377.9 290.5,379 291.2,379.9 291.9,380.8 292.6,381.7 293.3,382.5 294,383.2 294.8,383.9 295.5,384.5 296.2,385.1 296.9,385.5 297.6,386 298.3,386.3 299,386.6 299.7,386.9 300.4,387.1 301.1,387.2 301.8,387.4 302.5,387.5 303.2,387.5 303.9,387.6 304.6,387.7 305.3,387.7 306,387.8 306.7,387.9 307.4,387.9 308.1,388 308.8,388 309.5,388.1 310.2,388.1 311,388.1 311.7,388.2 312.4,388.2 313.1,388.3 313.8,388.3 315.2,388.4 316.6,388.5 318,388.6 319.4,388.6 320.8,388.7 322.2,388.8 323.6,388.9 325,388.9 326.5,389 327.9,389.1 329.3,389.1 330.7,389.2 332.1,389.2 333.5,389.3 334.9,389.4 336.3,389.4 337.7,389.5 339.1,389.5 340.5,389.6 342,389.6 345.5,389.7 349,389.9 352.5,390 356,390.1 359.6,390.1 363.1,390.2 366.6,390.3 370.1,390.4 373.7,390.4 377.2,390.5 380.7,390.6 384.2,390.6" fill="none" stroke="#3737c8" stroke-width="1.1" stroke-linejoin="round"/><path d="M239.8,387 240.5,386.2 241.2,385.2 241.9,384 242.6,382.8 243.3,381.5 244,380 244.7,378.4 245.4,376.7 246.1,374.9 246.8,372.9 247.5,370.9 248.3,368.9 249,366.7 249.7,364.6 250.4,362.4 251.1,360.1 251.8,357.9 252.5,355.7 253.2,353.5 253.9,351.3 254.6,349.3 255.3,347.2 256,345.3 256.7,343.4 257.4,341.7 258.1,340 258.8,338.5 259.5,337.1 260.2,335.8 260.9,334.7 261.6,333.7 262.3,332.9 263,332.2 263.8,331.7 264.5,331.3 265.2,331.1 265.9,331 266.6,331.1 267.3,331.3 268,331.7 268.7,332.2 269.4,332.9 270.1,333.6 270.8,334.5 271.5,335.5 272.2,336.6 272.9,337.8 273.6,339.1 274.3,340.5 275,342 275.7,343.5 276.4,345.1 277.1,346.8 277.8,348.4 278.5,350.1 279.3,351.9 280,353.6 280.7,355.3 281.4,357.1 282.1,358.8 282.8,360.5 283.5,362.2 284.2,363.8 284.9,365.5 285.6,367 286.3,368.5 287,370 287.7,371.4 288.4,372.8 289.1,374.1 289.8,375.4 290.5,376.5 291.2,377.7 291.9,378.7 292.6,379.7 293.3,380.7 294,381.5 294.8,382.4 295.5,383.1 296.2,383.8 296.9,384.4 297.6,385 298.3,385.5 299,385.9 299.7,386.3 300.4,386.6 301.1,386.9 301.8,387.1 302.5,387.3 303.2,387.4 303.9,387.5 304.6,387.6 305.3,387.7 306,387.8 306.7,387.8 307.4,387.9 308.1,388 308.8,388 309.5,388.1 310.2,388.1 311,388.1 311.7,388.2 312.4,388.2 313.1,388.3 313.8,388.3 315.2,388.4 316.6,388.5 318,388.6 319.4,388.6 320.8,388.7 322.2,388.8 323.6,388.9 325,388.9 326.5,389 327.9,389.1 329.3,389.1 330.7,389.2 332.1,389.2 333.5,389.3 334.9,389.4 336.3,389.4 337.7,389.5 339.1,389.5 340.5,389.6 342,389.6 345.5,389.7 349,389.9 352.5,390 356,390.1 359.6,390.1 363.1,390.2 366.6,390.3 370.1,390.4 373.7,390.4 377.2,390.5 380.7,390.6 384.2,390.6" fill="none" stroke="#2b9db0" stroke-width="1.1" stroke-linejoin="round"/><path d="M239.8,386.4 240.5,385.4 241.2,384.3 241.9,383.1 242.6,381.7 243.3,380.2 244,378.5 244.7,376.7 245.4,374.8 246.1,372.8 246.8,370.7 247.5,368.4 248.3,366.1 249,363.8 249.7,361.3 250.4,358.9 251.1,356.4 251.8,353.9 252.5,351.4 253.2,348.9 253.9,346.5 254.6,344.1 255.3,341.9 256,339.7 256.7,337.6 257.4,335.6 258.1,333.7 258.8,332 259.5,330.4 260.2,328.9 260.9,327.6 261.6,326.5 262.3,325.5 263,324.7 263.8,324.1 264.5,323.6 265.2,323.3 265.9,323.2 266.6,323.3 267.3,323.5 268,323.9 268.7,324.4 269.4,325.1 270.1,325.9 270.8,326.8 271.5,327.9 272.2,329.1 272.9,330.4 273.6,331.8 274.3,333.4 275,335 275.7,336.6 276.4,338.4 277.1,340.1 277.8,342 278.5,343.9 279.3,345.7 280,347.7 280.7,349.6 281.4,351.5 282.1,353.4 282.8,355.3 283.5,357.1 284.2,359 284.9,360.8 285.6,362.5 286.3,364.2 287,365.9 287.7,367.5 288.4,369 289.1,370.5 289.8,371.9 290.5,373.3 291.2,374.6 291.9,375.8 292.6,377 293.3,378.1 294,379.1 294.8,380.1 295.5,381 296.2,381.9 296.9,382.6 297.6,383.4 298.3,384 299,384.6 299.7,385.2 300.4,385.7 301.1,386.1 301.8,386.4 302.5,386.8 303.2,387 303.9,387.2 304.6,387.4 305.3,387.6 306,387.7 306.7,387.8 307.4,387.8 308.1,387.9 308.8,388 309.5,388 310.2,388.1 311,388.1 311.7,388.2 312.4,388.2 313.1,388.3 313.8,388.3 315.2,388.4 316.6,388.5 318,388.6 319.4,388.6 320.8,388.7 322.2,388.8 323.6,388.9 325,388.9 326.5,389 327.9,389.1 329.3,389.1 330.7,389.2 332.1,389.2 333.5,389.3 334.9,389.4 336.3,389.4 337.7,389.5 339.1,389.5 340.5,389.6 342,389.6 345.5,389.7 349,389.9 352.5,390 356,390.1 359.6,390.1 363.1,390.2 366.6,390.3 370.1,390.4 373.7,390.4 377.2,390.5 380.7,390.6 384.2,390.6" fill="none" stroke="#2a9a3c" stroke-width="1.1" stroke-linejoin="round"/><path d="M239.8,385.7 240.5,384.6 241.2,383.4 241.9,382 242.6,380.5 243.3,378.8 244,376.9 244.7,375 245.4,372.8 246.1,370.6 246.8,368.2 247.5,365.8 248.3,363.2 249,360.5 249.7,357.8 250.4,355.1 251.1,352.3 251.8,349.5 252.5,346.8 253.2,344 253.9,341.3 254.6,338.7 255.3,336.1 256,333.6 256.7,331.3 257.4,329 258.1,326.9 258.8,325 259.5,323.1 260.2,321.5 260.9,320 261.6,318.7 262.3,317.6 263,316.6 263.8,315.9 264.5,315.3 265.2,314.9 265.9,314.8 266.6,314.8 267.3,315 268,315.3 268.7,315.9 269.4,316.6 270.1,317.5 270.8,318.5 271.5,319.7 272.2,320.9 272.9,322.4 273.6,323.9 274.3,325.5 275,327.3 275.7,329.1 276.4,331 277.1,332.9 277.8,334.9 278.5,336.9 279.3,339 280,341.1 280.7,343.2 281.4,345.2 282.1,347.3 282.8,349.4 283.5,351.4 284.2,353.4 284.9,355.4 285.6,357.3 286.3,359.2 287,361 287.7,362.8 288.4,364.5 289.1,366.2 289.8,367.8 290.5,369.3 291.2,370.7 291.9,372.1 292.6,373.5 293.3,374.7 294,375.9 294.8,377 295.5,378.1 296.2,379.1 296.9,380.1 297.6,380.9 298.3,381.7 299,382.5 299.7,383.2 300.4,383.9 301.1,384.5 301.8,385 302.5,385.5 303.2,385.9 303.9,386.3 304.6,386.7 305.3,387 306,387.2 306.7,387.4 307.4,387.6 308.1,387.7 308.8,387.8 309.5,387.9 310.2,388 311,388.1 311.7,388.2 312.4,388.2 313.1,388.3 313.8,388.3 315.2,388.4 316.6,388.5 318,388.6 319.4,388.6 320.8,388.7 322.2,388.8 323.6,388.9 325,388.9 326.5,389 327.9,389.1 329.3,389.1 330.7,389.2 332.1,389.2 333.5,389.3 334.9,389.4 336.3,389.4 337.7,389.5 339.1,389.5 340.5,389.6 342,389.6 345.5,389.7 349,389.9 352.5,390 356,390.1 359.6,390.1 363.1,390.2 366.6,390.3 370.1,390.4 373.7,390.4 377.2,390.5 380.7,390.6 384.2,390.6" fill="none" stroke="#c9c92a" stroke-width="1.1" stroke-linejoin="round"/><path d="M239.8,385 240.5,383.8 241.2,382.4 241.9,380.9 242.6,379.2 243.3,377.3 244,375.3 244.7,373.1 245.4,370.8 246.1,368.3 246.8,365.7 247.5,363 248.3,360.1 249,357.2 249.7,354.3 250.4,351.2 251.1,348.2 251.8,345.1 252.5,342 253.2,339 253.9,336 254.6,333 255.3,330.2 256,327.4 256.7,324.8 257.4,322.3 258.1,319.9 258.8,317.7 259.5,315.6 260.2,313.8 260.9,312.1 261.6,310.6 262.3,309.3 263,308.2 263.8,307.3 264.5,306.6 265.2,306.1 265.9,305.9 266.6,305.8 267.3,306 268,306.4 268.7,307 269.4,307.7 270.1,308.7 270.8,309.8 271.5,311.1 272.2,312.5 272.9,314 273.6,315.7 274.3,317.5 275,319.3 275.7,321.3 276.4,323.3 277.1,325.4 277.8,327.6 278.5,329.8 279.3,332 280,334.2 280.7,336.4 281.4,338.6 282.1,340.9 282.8,343.1 283.5,345.2 284.2,347.4 284.9,349.5 285.6,351.5 286.3,353.5 287,355.5 287.7,357.4 288.4,359.2 289.1,361 289.8,362.8 290.5,364.4 291.2,366 291.9,367.5 292.6,369 293.3,370.4 294,371.7 294.8,373 295.5,374.2 296.2,375.3 296.9,376.4 297.6,377.4 298.3,378.4 299,379.3 299.7,380.1 300.4,380.9 301.1,381.7 301.8,382.4 302.5,383 303.2,383.6 303.9,384.2 304.6,384.7 305.3,385.2 306,385.6 306.7,386 307.4,386.4 308.1,386.7 308.8,387 309.5,387.2 310.2,387.4 311,387.6 311.7,387.8 312.4,387.9 313.1,388.1 313.8,388.2 315.2,388.3 316.6,388.4 318,388.5 319.4,388.6 320.8,388.7 322.2,388.8 323.6,388.9 325,388.9 326.5,389 327.9,389.1 329.3,389.1 330.7,389.2 332.1,389.2 333.5,389.3 334.9,389.4 336.3,389.4 337.7,389.5 339.1,389.5 340.5,389.6 342,389.6 345.5,389.7 349,389.9 352.5,390 356,390.1 359.6,390.1 363.1,390.2 366.6,390.3 370.1,390.4 373.7,390.4 377.2,390.5 380.7,390.6 384.2,390.6" fill="none" stroke="#f07a2c" stroke-width="1.1" stroke-linejoin="round"/><path d="M239.8,384 240.5,382.6 241.2,381 241.9,379.3 242.6,377.3 243.3,375.2 244,372.9 244.7,370.5 245.4,367.8 246.1,365.1 246.8,362.1 247.5,359.1 248.3,355.9 249,352.6 249.7,349.2 250.4,345.8 251.1,342.3 251.8,338.8 252.5,335.3 253.2,331.9 253.9,328.5 254.6,325.1 255.3,321.9 256,318.7 256.7,315.7 257.4,312.8 258.1,310 258.8,307.5 259.5,305.1 260.2,302.9 260.9,300.9 261.6,299.1 262.3,297.5 263,296.2 263.8,295.1 264.5,294.2 265.2,293.6 265.9,293.2 266.6,293.1 267.3,293.2 268,293.6 268.7,294.3 269.4,295.2 270.1,296.3 270.8,297.7 271.5,299.2 272.2,300.8 272.9,302.6 273.6,304.6 274.3,306.6 275,308.7 275.7,310.9 276.4,313.2 277.1,315.5 277.8,317.8 278.5,320.2 279.3,322.5 280,324.9 280.7,327.3 281.4,329.6 282.1,331.9 282.8,334.2 283.5,336.4 284.2,338.6 284.9,340.8 285.6,342.9 286.3,345 287,347 287.7,348.9 288.4,350.8 289.1,352.6 289.8,354.4 290.5,356.1 291.2,357.8 291.9,359.3 292.6,360.9 293.3,362.3 294,363.8 294.8,365.1 295.5,366.4 296.2,367.7 296.9,368.8 297.6,370 298.3,371.1 299,372.1 299.7,373.1 300.4,374 301.1,375 301.8,375.8 302.5,376.6 303.2,377.4 303.9,378.1 304.6,378.8 305.3,379.5 306,380.1 306.7,380.7 307.4,381.3 308.1,381.9 308.8,382.4 309.5,382.9 310.2,383.3 311,383.7 311.7,384.2 312.4,384.5 313.1,384.9 313.8,385.3 315.2,385.9 316.6,386.4 318,386.9 319.4,387.3 320.8,387.7 322.2,388 323.6,388.3 325,388.5 326.5,388.7 327.9,388.8 329.3,389 330.7,389.1 332.1,389.2 333.5,389.3 334.9,389.3 336.3,389.4 337.7,389.5 339.1,389.5 340.5,389.6 342,389.6 345.5,389.7 349,389.9 352.5,390 356,390.1 359.6,390.1 363.1,390.2 366.6,390.3 370.1,390.4 373.7,390.4 377.2,390.5 380.7,390.6 384.2,390.6" fill="none" stroke="#e42b2b" stroke-width="1.1" stroke-linejoin="round"/><path d="M239.8,384.8 240.5,383.1 241.2,381 241.9,378.7 242.6,376 243.3,373 244,369.6 244.7,365.9 245.4,361.8 246.1,357.5 246.8,352.9 247.5,348 248.3,343 249,337.8 249.7,332.5 250.4,327.1 251.1,321.8 251.8,316.4 252.5,311.1 253.2,305.9 253.9,300.9 254.6,296 255.3,291.3 256,286.9 256.7,282.7 257.4,278.8 258.1,275.1 258.8,271.7 259.5,268.7 260.2,265.9 260.9,263.4 261.6,261.2 262.3,259.4 263,257.8 263.8,256.5 264.5,255.6 265.2,254.9 265.9,254.5 266.6,254.4 267.3,254.6 268,255.1 268.7,255.8 269.4,256.7 270.1,257.8 270.8,259.2 271.5,260.7 272.2,262.5 272.9,264.4 273.6,266.4 274.3,268.6 275,271 275.7,273.3 276.4,275.9 277.1,278.5 277.8,281.2 278.5,284 279.3,286.9 280,289.7 280.7,292.7 281.4,295.6 282.1,298.6 282.8,301.5 283.5,304.5 284.2,307.4 284.9,310.3 285.6,313.2 286.3,316 287,318.9 287.7,321.6 288.4,324.3 289.1,327 289.8,329.6 290.5,332.2 291.2,334.7 291.9,337.1 292.6,339.4 293.3,341.7 294,344 294.8,346.1 295.5,348.2 296.2,350.2 296.9,352.1 297.6,354 298.3,355.8 299,357.5 299.7,359.2 300.4,360.8 301.1,362.3 301.8,363.8 302.5,365.2 303.2,366.5 303.9,367.8 304.6,369 305.3,370.2 306,371.3 306.7,372.4 307.4,373.4 308.1,374.3 308.8,375.2 309.5,376.1 310.2,376.9 311,377.6 311.7,378.3 312.4,379 313.1,379.6 313.8,380.2 315.2,381.3 316.6,382.3 318,383.1 319.4,383.8 320.8,384.4 322.2,384.9 323.6,385.4 325,385.8 326.5,386.1 327.9,386.4 329.3,386.7 330.7,386.9 332.1,387.2 333.5,387.4 334.9,387.6 336.3,387.8 337.7,387.9 339.1,388.1 340.5,388.3 342,388.4 345.5,388.8 349,389.1 352.5,389.3 356,389.6 359.6,389.8 363.1,390 366.6,390.1 370.1,390.3 373.7,390.4 377.2,390.5 380.7,390.6 384.2,390.7" fill="none" stroke="#2c2c2c" stroke-width="1.0" stroke-linejoin="round"/><path d="M239.80,246.70V391.40H384.92" fill="none" stroke="#111" stroke-width="1.5" stroke-linecap="butt"/><path d="M235.80,391.40H239.80" stroke="#111" stroke-width="1.4"/><text x="234.20" y="395.50" text-anchor="end" font-size="10">0.0</text><path d="M237.80,377.71H239.80" stroke="#111" stroke-width="1.4"/><path d="M235.80,364.02H239.80" stroke="#111" stroke-width="1.4"/><text x="234.20" y="368.12" text-anchor="end" font-size="10">0.2</text><path d="M237.80,350.33H239.80" stroke="#111" stroke-width="1.4"/><path d="M235.80,336.64H239.80" stroke="#111" stroke-width="1.4"/><text x="234.20" y="340.74" text-anchor="end" font-size="10">0.4</text><path d="M237.80,322.95H239.80" stroke="#111" stroke-width="1.4"/><path d="M235.80,309.26H239.80" stroke="#111" stroke-width="1.4"/><text x="234.20" y="313.36" text-anchor="end" font-size="10">0.6</text><path d="M237.80,295.57H239.80" stroke="#111" stroke-width="1.4"/><path d="M235.80,281.88H239.80" stroke="#111" stroke-width="1.4"/><text x="234.20" y="285.98" text-anchor="end" font-size="10">0.8</text><path d="M237.80,268.19H239.80" stroke="#111" stroke-width="1.4"/><path d="M235.80,254.50H239.80" stroke="#111" stroke-width="1.4"/><text x="234.20" y="258.60" text-anchor="end" font-size="10">1.0</text><path d="M243.32,391.40V395.40" stroke="#111" stroke-width="1.4"/><text x="243.32" y="408.30" text-anchor="middle" font-size="10">300</text><path d="M260.94,391.40V393.60" stroke="#111" stroke-width="1.4"/><path d="M278.55,391.40V395.40" stroke="#111" stroke-width="1.4"/><text x="278.55" y="408.30" text-anchor="middle" font-size="10">350</text><path d="M296.16,391.40V393.60" stroke="#111" stroke-width="1.4"/><path d="M313.77,391.40V395.40" stroke="#111" stroke-width="1.4"/><text x="313.77" y="408.30" text-anchor="middle" font-size="10">400</text><path d="M331.38,391.40V393.60" stroke="#111" stroke-width="1.4"/><path d="M349.00,391.40V395.40" stroke="#111" stroke-width="1.4"/><text x="349.00" y="408.30" text-anchor="middle" font-size="10">450</text><path d="M366.61,391.40V393.60" stroke="#111" stroke-width="1.4"/><path d="M384.22,391.40V395.40" stroke="#111" stroke-width="1.4"/><text x="384.22" y="408.30" text-anchor="middle" font-size="10">500</text><text x="311.71" y="425.80" text-anchor="middle" font-size="11" textLength="88.4" lengthAdjust="spacingAndGlyphs">Wavelength (nm)</text><text x="311.71" y="247.60" text-anchor="middle" font-size="11" textLength="84.6" lengthAdjust="spacingAndGlyphs">WPI-Zx at pH 5.5</text><text transform="translate(213.90,318.65) rotate(-90)" text-anchor="middle" font-size="11" textLength="139.8" lengthAdjust="spacingAndGlyphs">Fluorescence intensity (a.u.)</text><text transform="translate(204.30,238.70) scale(0.764,1)" font-size="23.5" font-weight="bold" style="fill:#000">F</text><path d="M318.00,297.70V331.00" stroke="#222" stroke-width="1"/><path d="M316.45,328.70L319.55,328.70L318.80,335.80L318.00,337.00L317.20,335.80Z" fill="#111"/><text x="321.20" y="304.60" font-size="9" textLength="20.6" lengthAdjust="spacingAndGlyphs">0 μM</text><text x="321.20" y="337.00" font-size="9" textLength="33.6" lengthAdjust="spacingAndGlyphs">22.5 μM</text></g><g><path d="M441.2,389.1 441.9,388.6 442.6,388 443.3,387.4 444,386.7 444.7,385.8 445.4,384.9 446.1,383.9 446.8,382.8 447.5,381.6 448.2,380.4 448.9,379 449.7,377.6 450.4,376 451.1,374.5 451.8,372.8 452.5,371.1 453.2,369.4 453.9,367.6 454.6,365.8 455.3,364 456,362.2 456.7,360.4 457.4,358.7 458.1,357 458.8,355.3 459.5,353.7 460.2,352.2 460.9,350.8 461.6,349.5 462.3,348.2 463,347.1 463.7,346.1 464.4,345.2 465.2,344.4 465.9,343.8 466.6,343.3 467.3,343 468,342.7 468.7,342.7 469.4,342.7 470.1,342.9 470.8,343.2 471.5,343.6 472.2,344.2 472.9,344.8 473.6,345.5 474.3,346.4 475,347.3 475.7,348.3 476.4,349.4 477.1,350.5 477.8,351.8 478.5,353 479.2,354.4 479.9,355.7 480.7,357.1 481.4,358.6 482.1,360 482.8,361.4 483.5,362.9 484.2,364.3 484.9,365.8 485.6,367.2 486.3,368.6 487,369.9 487.7,371.2 488.4,372.5 489.1,373.8 489.8,374.9 490.5,376.1 491.2,377.2 491.9,378.2 492.6,379.2 493.3,380.1 494,381 494.7,381.8 495.4,382.6 496.2,383.3 496.9,383.9 497.6,384.4 498.3,384.9 499,385.4 499.7,385.7 500.4,386 501.1,386.3 501.8,386.5 502.5,386.7 503.2,386.8 503.9,386.9 504.6,387 505.3,387.1 506,387.2 506.7,387.3 507.4,387.3 508.1,387.4 508.8,387.4 509.5,387.5 510.2,387.6 510.9,387.6 511.6,387.7 512.4,387.7 513.1,387.8 513.8,387.8 514.5,387.9 515.2,388 516.6,388.1 518,388.2 519.4,388.2 520.8,388.3 522.2,388.4 523.6,388.5 525,388.6 526.4,388.7 527.9,388.8 529.3,388.8 530.7,388.9 532.1,389 533.5,389.1 534.9,389.1 536.3,389.2 537.7,389.3 539.1,389.3 540.5,389.4 541.9,389.5 543.4,389.5 546.9,389.6 550.4,389.8 553.9,389.9 557.4,390 561,390.1 564.5,390.2 568,390.3 571.5,390.4 575.1,390.4 578.6,390.5 582.1,390.6 585.6,390.6" fill="none" stroke="#c83a8a" stroke-width="1.1" stroke-linejoin="round"/><path d="M441.2,389 441.9,388.4 442.6,387.8 443.3,387.1 444,386.3 444.7,385.5 445.4,384.5 446.1,383.4 446.8,382.2 447.5,380.9 448.2,379.6 448.9,378.1 449.7,376.5 450.4,374.9 451.1,373.2 451.8,371.4 452.5,369.5 453.2,367.7 453.9,365.7 454.6,363.8 455.3,361.9 456,359.9 456.7,358 457.4,356.1 458.1,354.3 458.8,352.5 459.5,350.8 460.2,349.1 460.9,347.6 461.6,346.1 462.3,344.8 463,343.5 463.7,342.4 464.4,341.5 465.2,340.6 465.9,339.9 466.6,339.4 467.3,339 468,338.8 468.7,338.7 469.4,338.8 470.1,338.9 470.8,339.2 471.5,339.7 472.2,340.2 472.9,340.9 473.6,341.6 474.3,342.5 475,343.5 475.7,344.5 476.4,345.7 477.1,346.9 477.8,348.2 478.5,349.6 479.2,351 479.9,352.4 480.7,353.9 481.4,355.4 482.1,356.9 482.8,358.5 483.5,360 484.2,361.6 484.9,363.1 485.6,364.6 486.3,366.1 487,367.6 487.7,369 488.4,370.4 489.1,371.7 489.8,373 490.5,374.3 491.2,375.5 491.9,376.6 492.6,377.7 493.3,378.8 494,379.7 494.7,380.6 495.4,381.5 496.2,382.3 496.9,383 497.6,383.7 498.3,384.3 499,384.8 499.7,385.2 500.4,385.6 501.1,386 501.8,386.3 502.5,386.5 503.2,386.7 503.9,386.8 504.6,387 505.3,387.1 506,387.2 506.7,387.2 507.4,387.3 508.1,387.4 508.8,387.4 509.5,387.5 510.2,387.6 510.9,387.6 511.6,387.7 512.4,387.7 513.1,387.8 513.8,387.8 514.5,387.9 515.2,388 516.6,388.1 518,388.2 519.4,388.2 520.8,388.3 522.2,388.4 523.6,388.5 525,388.6 526.4,388.7 527.9,388.8 529.3,388.8 530.7,388.9 532.1,389 533.5,389.1 534.9,389.1 536.3,389.2 537.7,389.3 539.1,389.3 540.5,389.4 541.9,389.5 543.4,389.5 546.9,389.6 550.4,389.8 553.9,389.9 557.4,390 561,390.1 564.5,390.2 568,390.3 571.5,390.4 575.1,390.4 578.6,390.5 582.1,390.6 585.6,390.6" fill="none" stroke="#9435b4" stroke-width="1.1" stroke-linejoin="round"/><path d="M441.2,388.8 441.9,388.2 442.6,387.5 443.3,386.7 444,385.9 444.7,384.9 445.4,383.8 446.1,382.6 446.8,381.3 447.5,379.8 448.2,378.3 448.9,376.7 449.7,374.9 450.4,373.1 451.1,371.2 451.8,369.2 452.5,367.1 453.2,365 453.9,362.9 454.6,360.7 455.3,358.6 456,356.4 456.7,354.3 457.4,352.1 458.1,350.1 458.8,348.1 459.5,346.2 460.2,344.3 460.9,342.6 461.6,341 462.3,339.5 463,338.1 463.7,336.8 464.4,335.8 465.2,334.8 465.9,334 466.6,333.4 467.3,332.9 468,332.7 468.7,332.5 469.4,332.6 470.1,332.8 470.8,333.1 471.5,333.5 472.2,334.1 472.9,334.8 473.6,335.6 474.3,336.5 475,337.5 475.7,338.7 476.4,339.9 477.1,341.2 477.8,342.6 478.5,344.1 479.2,345.6 479.9,347.2 480.7,348.8 481.4,350.4 482.1,352.1 482.8,353.8 483.5,355.5 484.2,357.2 484.9,358.8 485.6,360.5 486.3,362.2 487,363.8 487.7,365.4 488.4,366.9 489.1,368.4 489.8,369.9 490.5,371.3 491.2,372.7 491.9,374 492.6,375.2 493.3,376.4 494,377.5 494.7,378.6 495.4,379.6 496.2,380.5 496.9,381.4 497.6,382.2 498.3,382.9 499,383.6 499.7,384.2 500.4,384.8 501.1,385.3 501.8,385.7 502.5,386 503.2,386.3 503.9,386.6 504.6,386.8 505.3,386.9 506,387.1 506.7,387.2 507.4,387.3 508.1,387.4 508.8,387.4 509.5,387.5 510.2,387.6 510.9,387.6 511.6,387.7 512.4,387.7 513.1,387.8 513.8,387.8 514.5,387.9 515.2,388 516.6,388.1 518,388.2 519.4,388.2 520.8,388.3 522.2,388.4 523.6,388.5 525,388.6 526.4,388.7 527.9,388.8 529.3,388.8 530.7,388.9 532.1,389 533.5,389.1 534.9,389.1 536.3,389.2 537.7,389.3 539.1,389.3 540.5,389.4 541.9,389.5 543.4,389.5 546.9,389.6 550.4,389.8 553.9,389.9 557.4,390 561,390.1 564.5,390.2 568,390.3 571.5,390.4 575.1,390.4 578.6,390.5 582.1,390.6 585.6,390.6" fill="none" stroke="#3737c8" stroke-width="1.1" stroke-linejoin="round"/><path d="M441.2,388.6 441.9,387.9 442.6,387.2 443.3,386.3 444,385.4 444.7,384.3 445.4,383.1 446.1,381.8 446.8,380.3 447.5,378.8 448.2,377.1 448.9,375.3 449.7,373.3 450.4,371.3 451.1,369.2 451.8,367 452.5,364.7 453.2,362.4 453.9,360 454.6,357.6 455.3,355.2 456,352.8 456.7,350.5 457.4,348.1 458.1,345.8 458.8,343.6 459.5,341.5 460.2,339.5 460.9,337.5 461.6,335.7 462.3,334.1 463,332.5 463.7,331.2 464.4,329.9 465.2,328.9 465.9,328 466.6,327.3 467.3,326.8 468,326.4 468.7,326.2 469.4,326.3 470.1,326.4 470.8,326.7 471.5,327.2 472.2,327.8 472.9,328.5 473.6,329.4 474.3,330.3 475,331.4 475.7,332.6 476.4,333.9 477.1,335.3 477.8,336.8 478.5,338.4 479.2,340 479.9,341.7 480.7,343.4 481.4,345.2 482.1,347 482.8,348.8 483.5,350.7 484.2,352.5 484.9,354.3 485.6,356.2 486.3,358 487,359.7 487.7,361.5 488.4,363.2 489.1,364.9 489.8,366.5 490.5,368 491.2,369.5 491.9,371 492.6,372.4 493.3,373.7 494,375 494.7,376.2 495.4,377.4 496.2,378.4 496.9,379.4 497.6,380.4 498.3,381.3 499,382.1 499.7,382.9 500.4,383.6 501.1,384.2 501.8,384.7 502.5,385.2 503.2,385.7 503.9,386 504.6,386.4 505.3,386.6 506,386.8 506.7,387 507.4,387.2 508.1,387.3 508.8,387.4 509.5,387.5 510.2,387.5 510.9,387.6 511.6,387.7 512.4,387.7 513.1,387.8 513.8,387.8 514.5,387.9 515.2,388 516.6,388.1 518,388.2 519.4,388.2 520.8,388.3 522.2,388.4 523.6,388.5 525,388.6 526.4,388.7 527.9,388.8 529.3,388.8 530.7,388.9 532.1,389 533.5,389.1 534.9,389.1 536.3,389.2 537.7,389.3 539.1,389.3 540.5,389.4 541.9,389.5 543.4,389.5 546.9,389.6 550.4,389.8 553.9,389.9 557.4,390 561,390.1 564.5,390.2 568,390.3 571.5,390.4 575.1,390.4 578.6,390.5 582.1,390.6 585.6,390.6" fill="none" stroke="#2b9db0" stroke-width="1.1" stroke-linejoin="round"/><path d="M441.2,388.3 441.9,387.6 442.6,386.7 443.3,385.8 444,384.7 444.7,383.5 445.4,382.1 446.1,380.6 446.8,379 447.5,377.2 448.2,375.2 448.9,373.2 449.7,371 450.4,368.6 451.1,366.2 451.8,363.7 452.5,361.1 453.2,358.4 453.9,355.7 454.6,353 455.3,350.2 456,347.5 456.7,344.7 457.4,342.1 458.1,339.5 458.8,336.9 459.5,334.5 460.2,332.1 460.9,329.9 461.6,327.9 462.3,325.9 463,324.2 463.7,322.6 464.4,321.1 465.2,319.9 465.9,318.9 466.6,318 467.3,317.4 468,316.9 468.7,316.7 469.4,316.7 470.1,316.8 470.8,317.1 471.5,317.6 472.2,318.2 472.9,318.9 473.6,319.9 474.3,320.9 475,322.1 475.7,323.4 476.4,324.8 477.1,326.3 477.8,327.9 478.5,329.6 479.2,331.4 479.9,333.2 480.7,335.1 481.4,337.1 482.1,339.1 482.8,341.1 483.5,343.1 484.2,345.2 484.9,347.2 485.6,349.2 486.3,351.2 487,353.2 487.7,355.2 488.4,357.1 489.1,359 489.8,360.8 490.5,362.6 491.2,364.4 491.9,366 492.6,367.7 493.3,369.2 494,370.7 494.7,372.1 495.4,373.5 496.2,374.8 496.9,376 497.6,377.1 498.3,378.2 499,379.3 499.7,380.2 500.4,381.1 501.1,381.9 501.8,382.7 502.5,383.4 503.2,384 503.9,384.6 504.6,385.1 505.3,385.6 506,386 506.7,386.3 507.4,386.6 508.1,386.9 508.8,387.1 509.5,387.3 510.2,387.4 510.9,387.5 511.6,387.6 512.4,387.7 513.1,387.8 513.8,387.8 514.5,387.9 515.2,387.9 516.6,388 518,388.2 519.4,388.2 520.8,388.3 522.2,388.4 523.6,388.5 525,388.6 526.4,388.7 527.9,388.8 529.3,388.8 530.7,388.9 532.1,389 533.5,389.1 534.9,389.1 536.3,389.2 537.7,389.3 539.1,389.3 540.5,389.4 541.9,389.5 543.4,389.5 546.9,389.6 550.4,389.8 553.9,389.9 557.4,390 561,390.1 564.5,390.2 568,390.3 571.5,390.4 575.1,390.4 578.6,390.5 582.1,390.6 585.6,390.6" fill="none" stroke="#2a9a3c" stroke-width="1.1" stroke-linejoin="round"/><path d="M441.2,388 441.9,387.3 442.6,386.3 443.3,385.3 444,384.1 444.7,382.7 445.4,381.2 446.1,379.6 446.8,377.7 447.5,375.7 448.2,373.5 448.9,371.2 449.7,368.7 450.4,366.1 451.1,363.4 451.8,360.6 452.5,357.6 453.2,354.6 453.9,351.6 454.6,348.5 455.3,345.4 456,342.3 456.7,339.3 457.4,336.3 458.1,333.3 458.8,330.5 459.5,327.7 460.2,325.1 460.9,322.6 461.6,320.3 462.3,318.1 463,316.1 463.7,314.3 464.4,312.7 465.2,311.2 465.9,310 466.6,309.1 467.3,308.3 468,307.7 468.7,307.4 469.4,307.3 470.1,307.5 470.8,307.7 471.5,308.2 472.2,308.8 472.9,309.6 473.6,310.6 474.3,311.7 475,313 475.7,314.4 476.4,315.9 477.1,317.5 477.8,319.2 478.5,321 479.2,322.9 479.9,324.9 480.7,327 481.4,329.1 482.1,331.2 482.8,333.4 483.5,335.6 484.2,337.8 484.9,340 485.6,342.2 486.3,344.4 487,346.6 487.7,348.7 488.4,350.8 489.1,352.9 489.8,354.9 490.5,356.9 491.2,358.8 491.9,360.7 492.6,362.5 493.3,364.3 494,365.9 494.7,367.5 495.4,369.1 496.2,370.6 496.9,372 497.6,373.3 498.3,374.6 499,375.8 499.7,376.9 500.4,378 501.1,379 501.8,379.9 502.5,380.8 503.2,381.6 503.9,382.4 504.6,383.1 505.3,383.7 506,384.3 506.7,384.9 507.4,385.4 508.1,385.8 508.8,386.2 509.5,386.5 510.2,386.8 510.9,387 511.6,387.3 512.4,387.4 513.1,387.6 513.8,387.7 514.5,387.8 515.2,387.9 516.6,388 518,388.1 519.4,388.2 520.8,388.3 522.2,388.4 523.6,388.5 525,388.6 526.4,388.7 527.9,388.8 529.3,388.8 530.7,388.9 532.1,389 533.5,389.1 534.9,389.1 536.3,389.2 537.7,389.3 539.1,389.3 540.5,389.4 541.9,389.5 543.4,389.5 546.9,389.6 550.4,389.8 553.9,389.9 557.4,390 561,390.1 564.5,390.2 568,390.3 571.5,390.4 575.1,390.4 578.6,390.5 582.1,390.6 585.6,390.6" fill="none" stroke="#c9c92a" stroke-width="1.1" stroke-linejoin="round"/><path d="M441.2,387.8 441.9,386.9 442.6,385.9 443.3,384.8 444,383.5 444.7,381.9 445.4,380.3 446.1,378.4 446.8,376.3 447.5,374.1 448.2,371.7 448.9,369 449.7,366.3 450.4,363.3 451.1,360.3 451.8,357.1 452.5,353.8 453.2,350.4 453.9,347 454.6,343.6 455.3,340.1 456,336.6 456.7,333.2 457.4,329.8 458.1,326.5 458.8,323.3 459.5,320.2 460.2,317.2 460.9,314.4 461.6,311.8 462.3,309.3 463,307 463.7,305 464.4,303.1 465.2,301.5 465.9,300.1 466.6,299 467.3,298 468,297.4 468.7,297 469.4,296.8 470.1,296.9 470.8,297.2 471.5,297.6 472.2,298.3 472.9,299.1 473.6,300.2 474.3,301.4 475,302.7 475.7,304.2 476.4,305.8 477.1,307.6 477.8,309.4 478.5,311.4 479.2,313.5 479.9,315.6 480.7,317.8 481.4,320 482.1,322.3 482.8,324.7 483.5,327 484.2,329.4 484.9,331.8 485.6,334.1 486.3,336.5 487,338.8 487.7,341.1 488.4,343.4 489.1,345.6 489.8,347.8 490.5,350 491.2,352 491.9,354.1 492.6,356 493.3,357.9 494,359.8 494.7,361.6 495.4,363.3 496.2,364.9 496.9,366.5 497.6,368 498.3,369.4 499,370.8 499.7,372.1 500.4,373.4 501.1,374.6 501.8,375.7 502.5,376.7 503.2,377.7 503.9,378.7 504.6,379.6 505.3,380.4 506,381.2 506.7,381.9 507.4,382.6 508.1,383.2 508.8,383.8 509.5,384.3 510.2,384.8 510.9,385.3 511.6,385.7 512.4,386.1 513.1,386.4 513.8,386.7 514.5,387 515.2,387.2 516.6,387.6 518,387.9 519.4,388.1 520.8,388.3 522.2,388.4 523.6,388.5 525,388.6 526.4,388.7 527.9,388.8 529.3,388.8 530.7,388.9 532.1,389 533.5,389.1 534.9,389.1 536.3,389.2 537.7,389.3 539.1,389.3 540.5,389.4 541.9,389.5 543.4,389.5 546.9,389.6 550.4,389.8 553.9,389.9 557.4,390 561,390.1 564.5,390.2 568,390.3 571.5,390.4 575.1,390.4 578.6,390.5 582.1,390.6 585.6,390.6" fill="none" stroke="#f07a2c" stroke-width="1.1" stroke-linejoin="round"/><path d="M441.2,387.5 441.9,386.6 442.6,385.4 443.3,384.1 444,382.6 444.7,380.9 445.4,379 446.1,376.9 446.8,374.6 447.5,372 448.2,369.2 448.9,366.2 449.7,363.1 450.4,359.7 451.1,356.2 451.8,352.5 452.5,348.8 453.2,344.9 453.9,341 454.6,337 455.3,333 456,329 456.7,325 457.4,321.1 458.1,317.3 458.8,313.6 459.5,310.1 460.2,306.6 460.9,303.4 461.6,300.3 462.3,297.5 463,294.9 463.7,292.5 464.4,290.3 465.2,288.4 465.9,286.7 466.6,285.3 467.3,284.2 468,283.4 468.7,282.8 469.4,282.5 470.1,282.5 470.8,282.8 471.5,283.3 472.2,284 472.9,285 473.6,286.2 474.3,287.6 475,289.1 475.7,290.8 476.4,292.7 477.1,294.6 477.8,296.7 478.5,298.9 479.2,301.2 479.9,303.5 480.7,305.9 481.4,308.4 482.1,310.9 482.8,313.4 483.5,315.9 484.2,318.4 484.9,320.9 485.6,323.4 486.3,325.8 487,328.3 487.7,330.7 488.4,333 489.1,335.4 489.8,337.6 490.5,339.8 491.2,342 491.9,344.1 492.6,346.2 493.3,348.2 494,350.1 494.7,352 495.4,353.8 496.2,355.6 496.9,357.2 497.6,358.9 498.3,360.4 499,361.9 499.7,363.4 500.4,364.8 501.1,366.1 501.8,367.4 502.5,368.6 503.2,369.8 503.9,370.9 504.6,372 505.3,373 506,374 506.7,374.9 507.4,375.8 508.1,376.6 508.8,377.4 509.5,378.1 510.2,378.9 510.9,379.6 511.6,380.2 512.4,380.8 513.1,381.4 513.8,381.9 514.5,382.5 515.2,383 516.6,383.9 518,384.7 519.4,385.4 520.8,386 522.2,386.6 523.6,387.1 525,387.5 526.4,387.8 527.9,388.1 529.3,388.4 530.7,388.6 532.1,388.8 533.5,388.9 534.9,389 536.3,389.1 537.7,389.2 539.1,389.3 540.5,389.4 541.9,389.4 543.4,389.5 546.9,389.6 550.4,389.8 553.9,389.9 557.4,390 561,390.1 564.5,390.2 568,390.3 571.5,390.4 575.1,390.4 578.6,390.5 582.1,390.6 585.6,390.6" fill="none" stroke="#e42b2b" stroke-width="1.1" stroke-linejoin="round"/><path d="M441.2,387.2 441.9,386.1 442.6,384.8 443.3,383.3 444,381.5 444.7,379.4 445.4,377.1 446.1,374.4 446.8,371.5 447.5,368.2 448.2,364.7 448.9,360.9 449.7,356.8 450.4,352.5 451.1,347.9 451.8,343.1 452.5,338.2 453.2,333.1 453.9,328 454.6,322.7 455.3,317.5 456,312.2 456.7,307 457.4,301.9 458.1,296.9 458.8,292.1 459.5,287.5 460.2,283.1 460.9,278.9 461.6,275 462.3,271.4 463,268.1 463.7,265.1 464.4,262.4 465.2,260.2 465.9,258.2 466.6,256.7 467.3,255.6 468,254.8 468.7,254.4 469.4,254.4 470.1,254.6 470.8,255.1 471.5,255.7 472.2,256.6 472.9,257.6 473.6,258.9 474.3,260.3 475,261.8 475.7,263.6 476.4,265.4 477.1,267.4 477.8,269.5 478.5,271.7 479.2,274.1 479.9,276.5 480.7,279 481.4,281.6 482.1,284.3 482.8,287 483.5,289.7 484.2,292.5 484.9,295.3 485.6,298.1 486.3,300.9 487,303.7 487.7,306.6 488.4,309.4 489.1,312.1 489.8,314.9 490.5,317.6 491.2,320.3 491.9,323 492.6,325.6 493.3,328.1 494,330.6 494.7,333.1 495.4,335.5 496.2,337.8 496.9,340.1 497.6,342.3 498.3,344.5 499,346.6 499.7,348.6 500.4,350.6 501.1,352.5 501.8,354.3 502.5,356.1 503.2,357.8 503.9,359.4 504.6,361 505.3,362.5 506,364 506.7,365.3 507.4,366.7 508.1,368 508.8,369.2 509.5,370.3 510.2,371.4 510.9,372.5 511.6,373.5 512.4,374.5 513.1,375.4 513.8,376.2 514.5,377.1 515.2,377.8 516.6,379.3 518,380.5 519.4,381.6 520.8,382.6 522.2,383.5 523.6,384.2 525,384.8 526.4,385.4 527.9,385.9 529.3,386.2 530.7,386.6 532.1,386.9 533.5,387.1 534.9,387.4 536.3,387.6 537.7,387.8 539.1,388 540.5,388.1 541.9,388.3 543.4,388.4 546.9,388.8 550.4,389.1 553.9,389.3 557.4,389.5 561,389.8 564.5,389.9 568,390.1 571.5,390.2 575.1,390.4 578.6,390.5 582.1,390.6 585.6,390.7" fill="none" stroke="#2c2c2c" stroke-width="1.0" stroke-linejoin="round"/><path d="M441.20,246.70V391.40H586.32" fill="none" stroke="#111" stroke-width="1.5" stroke-linecap="butt"/><path d="M437.20,391.40H441.20" stroke="#111" stroke-width="1.4"/><text x="435.60" y="395.50" text-anchor="end" font-size="10">0.0</text><path d="M439.20,377.71H441.20" stroke="#111" stroke-width="1.4"/><path d="M437.20,364.02H441.20" stroke="#111" stroke-width="1.4"/><text x="435.60" y="368.12" text-anchor="end" font-size="10">0.2</text><path d="M439.20,350.33H441.20" stroke="#111" stroke-width="1.4"/><path d="M437.20,336.64H441.20" stroke="#111" stroke-width="1.4"/><text x="435.60" y="340.74" text-anchor="end" font-size="10">0.4</text><path d="M439.20,322.95H441.20" stroke="#111" stroke-width="1.4"/><path d="M437.20,309.26H441.20" stroke="#111" stroke-width="1.4"/><text x="435.60" y="313.36" text-anchor="end" font-size="10">0.6</text><path d="M439.20,295.57H441.20" stroke="#111" stroke-width="1.4"/><path d="M437.20,281.88H441.20" stroke="#111" stroke-width="1.4"/><text x="435.60" y="285.98" text-anchor="end" font-size="10">0.8</text><path d="M439.20,268.19H441.20" stroke="#111" stroke-width="1.4"/><path d="M437.20,254.50H441.20" stroke="#111" stroke-width="1.4"/><text x="435.60" y="258.60" text-anchor="end" font-size="10">1.0</text><path d="M444.72,391.40V395.40" stroke="#111" stroke-width="1.4"/><text x="444.72" y="408.30" text-anchor="middle" font-size="10">300</text><path d="M462.33,391.40V393.60" stroke="#111" stroke-width="1.4"/><path d="M479.95,391.40V395.40" stroke="#111" stroke-width="1.4"/><text x="479.95" y="408.30" text-anchor="middle" font-size="10">350</text><path d="M497.56,391.40V393.60" stroke="#111" stroke-width="1.4"/><path d="M515.17,391.40V395.40" stroke="#111" stroke-width="1.4"/><text x="515.17" y="408.30" text-anchor="middle" font-size="10">400</text><path d="M532.78,391.40V393.60" stroke="#111" stroke-width="1.4"/><path d="M550.40,391.40V395.40" stroke="#111" stroke-width="1.4"/><text x="550.40" y="408.30" text-anchor="middle" font-size="10">450</text><path d="M568.01,391.40V393.60" stroke="#111" stroke-width="1.4"/><path d="M585.62,391.40V395.40" stroke="#111" stroke-width="1.4"/><text x="585.62" y="408.30" text-anchor="middle" font-size="10">500</text><text x="513.11" y="425.80" text-anchor="middle" font-size="11" textLength="88.4" lengthAdjust="spacingAndGlyphs">Wavelength (nm)</text><text x="513.11" y="247.60" text-anchor="middle" font-size="11" textLength="84.6" lengthAdjust="spacingAndGlyphs">WPI-Zx at pH 7.5</text><text transform="translate(415.30,318.65) rotate(-90)" text-anchor="middle" font-size="11" textLength="139.8" lengthAdjust="spacingAndGlyphs">Fluorescence intensity (a.u.)</text><text transform="translate(404.07,238.55) scale(0.857,1)" font-size="23.5" font-weight="bold" style="fill:#000">G</text><path d="M519.30,297.80V331.30" stroke="#222" stroke-width="1"/><path d="M517.75,329.00L520.85,329.00L520.10,336.10L519.30,337.30L518.50,336.10Z" fill="#111"/><text x="522.50" y="304.70" font-size="9" textLength="20.6" lengthAdjust="spacingAndGlyphs">0 μM</text><text x="522.50" y="337.30" font-size="9" textLength="33.6" lengthAdjust="spacingAndGlyphs">22.5 μM</text></g><g><path d="M643.3,388.9 644,388.3 644.7,387.7 645.4,386.9 646.1,386 646.8,385.1 647.5,384 648.2,382.8 648.9,381.6 649.6,380.2 650.3,378.7 651,377.2 651.8,375.5 652.5,373.8 653.2,372.1 653.9,370.3 654.6,368.5 655.3,366.6 656,364.8 656.7,363 657.4,361.2 658.1,359.4 658.8,357.7 659.5,356 660.2,354.5 660.9,353 661.6,351.6 662.3,350.4 663,349.2 663.7,348.2 664.4,347.3 665.1,346.6 665.8,346 666.5,345.5 667.3,345.2 668,345 668.7,345 669.4,345.1 670.1,345.3 670.8,345.6 671.5,346 672.2,346.4 672.9,347 673.6,347.7 674.3,348.4 675,349.2 675.7,350.1 676.4,351.1 677.1,352.1 677.8,353.2 678.5,354.3 679.2,355.5 679.9,356.7 680.6,357.9 681.3,359.2 682,360.5 682.8,361.8 683.5,363.1 684.2,364.4 684.9,365.7 685.6,367 686.3,368.2 687,369.5 687.7,370.7 688.4,371.9 689.1,373.1 689.8,374.2 690.5,375.3 691.2,376.3 691.9,377.3 692.6,378.3 693.3,379.2 694,380.1 694.7,380.9 695.4,381.7 696.1,382.4 696.8,383.1 697.5,383.7 698.3,384.3 699,384.8 699.7,385.3 700.4,385.7 701.1,386.1 701.8,386.4 702.5,386.6 703.2,386.8 703.9,387 704.6,387.1 705.3,387.3 706,387.3 706.7,387.4 707.4,387.5 708.1,387.6 708.8,387.6 709.5,387.7 710.2,387.7 710.9,387.8 711.6,387.8 712.3,387.9 713,387.9 713.8,388 714.5,388 715.2,388.1 715.9,388.1 716.6,388.1 717.3,388.2 718.7,388.3 720.1,388.3 721.5,388.4 722.9,388.5 724.3,388.6 725.7,388.6 727.1,388.7 728.5,388.8 730,388.8 731.4,388.9 732.8,389 734.2,389 735.6,389.1 737,389.2 738.4,389.2 739.8,389.3 741.2,389.3 742.6,389.4 744,389.4 745.5,389.5 749,389.6 752.5,389.7 756,389.8 759.5,389.9 763.1,390 766.6,390.1 770.1,390.2 773.6,390.3 777.2,390.3 780.7,390.4 784.2,390.5 787.7,390.5" fill="none" stroke="#c83a8a" stroke-width="1.1" stroke-linejoin="round"/><path d="M643.3,388.6 644,388 644.7,387.3 645.4,386.4 646.1,385.5 646.8,384.4 647.5,383.2 648.2,381.9 648.9,380.5 649.6,379 650.3,377.4 651,375.7 651.8,373.9 652.5,372 653.2,370.1 653.9,368.1 654.6,366.1 655.3,364 656,362 656.7,360 657.4,358 658.1,356 658.8,354.1 659.5,352.3 660.2,350.5 660.9,348.9 661.6,347.4 662.3,345.9 663,344.7 663.7,343.5 664.4,342.5 665.1,341.7 665.8,341 666.5,340.4 667.3,340 668,339.8 668.7,339.8 669.4,339.9 670.1,340.1 670.8,340.4 671.5,340.8 672.2,341.3 672.9,341.9 673.6,342.6 674.3,343.4 675,344.3 675.7,345.2 676.4,346.3 677.1,347.4 677.8,348.5 678.5,349.8 679.2,351 679.9,352.3 680.6,353.7 681.3,355.1 682,356.5 682.8,357.9 683.5,359.3 684.2,360.8 684.9,362.2 685.6,363.6 686.3,365 687,366.4 687.7,367.7 688.4,369.1 689.1,370.4 689.8,371.6 690.5,372.9 691.2,374 691.9,375.2 692.6,376.3 693.3,377.3 694,378.3 694.7,379.3 695.4,380.1 696.1,381 696.8,381.8 697.5,382.5 698.3,383.2 699,383.8 699.7,384.4 700.4,384.9 701.1,385.4 701.8,385.8 702.5,386.2 703.2,386.5 703.9,386.7 704.6,386.9 705.3,387.1 706,387.2 706.7,387.4 707.4,387.5 708.1,387.5 708.8,387.6 709.5,387.7 710.2,387.7 710.9,387.8 711.6,387.8 712.3,387.9 713,387.9 713.8,388 714.5,388 715.2,388.1 715.9,388.1 716.6,388.1 717.3,388.2 718.7,388.3 720.1,388.3 721.5,388.4 722.9,388.5 724.3,388.6 725.7,388.6 727.1,388.7 728.5,388.8 730,388.8 731.4,388.9 732.8,389 734.2,389 735.6,389.1 737,389.2 738.4,389.2 739.8,389.3 741.2,389.3 742.6,389.4 744,389.4 745.5,389.5 749,389.6 752.5,389.7 756,389.8 759.5,389.9 763.1,390 766.6,390.1 770.1,390.2 773.6,390.3 777.2,390.3 780.7,390.4 784.2,390.5 787.7,390.5" fill="none" stroke="#9435b4" stroke-width="1.1" stroke-linejoin="round"/><path d="M643.3,388.3 644,387.5 644.7,386.7 645.4,385.8 646.1,384.7 646.8,383.5 647.5,382.2 648.2,380.7 648.9,379.1 649.6,377.4 650.3,375.6 651,373.7 651.8,371.7 652.5,369.6 653.2,367.4 653.9,365.1 654.6,362.9 655.3,360.6 656,358.3 656.7,356 657.4,353.7 658.1,351.5 658.8,349.4 659.5,347.3 660.2,345.3 660.9,343.4 661.6,341.7 662.3,340.1 663,338.6 663.7,337.3 664.4,336.1 665.1,335.1 665.8,334.3 666.5,333.6 667.3,333.2 668,332.9 668.7,332.8 669.4,332.9 670.1,333.1 670.8,333.4 671.5,333.8 672.2,334.3 672.9,335 673.6,335.7 674.3,336.6 675,337.5 675.7,338.6 676.4,339.7 677.1,340.9 677.8,342.2 678.5,343.5 679.2,344.9 679.9,346.4 680.6,347.9 681.3,349.4 682,351 682.8,352.6 683.5,354.1 684.2,355.7 684.9,357.3 685.6,358.9 686.3,360.5 687,362.1 687.7,363.6 688.4,365.1 689.1,366.6 689.8,368 690.5,369.4 691.2,370.8 691.9,372.1 692.6,373.3 693.3,374.5 694,375.7 694.7,376.8 695.4,377.8 696.1,378.8 696.8,379.8 697.5,380.6 698.3,381.5 699,382.3 699.7,383 700.4,383.6 701.1,384.2 701.8,384.8 702.5,385.3 703.2,385.7 703.9,386.1 704.6,386.4 705.3,386.7 706,387 706.7,387.1 707.4,387.3 708.1,387.4 708.8,387.5 709.5,387.6 710.2,387.7 710.9,387.8 711.6,387.8 712.3,387.9 713,387.9 713.8,388 714.5,388 715.2,388.1 715.9,388.1 716.6,388.1 717.3,388.2 718.7,388.3 720.1,388.3 721.5,388.4 722.9,388.5 724.3,388.6 725.7,388.6 727.1,388.7 728.5,388.8 730,388.8 731.4,388.9 732.8,389 734.2,389 735.6,389.1 737,389.2 738.4,389.2 739.8,389.3 741.2,389.3 742.6,389.4 744,389.4 745.5,389.5 749,389.6 752.5,389.7 756,389.8 759.5,389.9 763.1,390 766.6,390.1 770.1,390.2 773.6,390.3 777.2,390.3 780.7,390.4 784.2,390.5 787.7,390.5" fill="none" stroke="#3737c8" stroke-width="1.1" stroke-linejoin="round"/><path d="M643.3,387.9 644,387.1 644.7,386.2 645.4,385.1 646.1,383.9 646.8,382.6 647.5,381.1 648.2,379.5 648.9,377.7 649.6,375.8 650.3,373.8 651,371.7 651.8,369.4 652.5,367.1 653.2,364.6 653.9,362.2 654.6,359.6 655.3,357.1 656,354.5 656.7,351.9 657.4,349.4 658.1,346.9 658.8,344.5 659.5,342.2 660.2,340 660.9,337.8 661.6,335.9 662.3,334 663,332.3 663.7,330.8 664.4,329.5 665.1,328.3 665.8,327.4 666.5,326.6 667.3,326.1 668,325.7 668.7,325.6 669.4,325.6 670.1,325.8 670.8,326.1 671.5,326.5 672.2,327.1 672.9,327.7 673.6,328.5 674.3,329.4 675,330.5 675.7,331.6 676.4,332.8 677.1,334.1 677.8,335.5 678.5,337 679.2,338.5 679.9,340.1 680.6,341.7 681.3,343.4 682,345.1 682.8,346.8 683.5,348.6 684.2,350.3 684.9,352.1 685.6,353.9 686.3,355.6 687,357.3 687.7,359.1 688.4,360.7 689.1,362.4 689.8,364 690.5,365.6 691.2,367.1 691.9,368.6 692.6,370 693.3,371.4 694,372.7 694.7,374 695.4,375.2 696.1,376.3 696.8,377.4 697.5,378.4 698.3,379.4 699,380.3 699.7,381.2 700.4,382 701.1,382.7 701.8,383.4 702.5,384.1 703.2,384.6 703.9,385.2 704.6,385.6 705.3,386 706,386.4 706.7,386.7 707.4,387 708.1,387.2 708.8,387.3 709.5,387.5 710.2,387.6 710.9,387.7 711.6,387.8 712.3,387.8 713,387.9 713.8,387.9 714.5,388 715.2,388 715.9,388.1 716.6,388.1 717.3,388.2 718.7,388.3 720.1,388.3 721.5,388.4 722.9,388.5 724.3,388.6 725.7,388.6 727.1,388.7 728.5,388.8 730,388.8 731.4,388.9 732.8,389 734.2,389 735.6,389.1 737,389.2 738.4,389.2 739.8,389.3 741.2,389.3 742.6,389.4 744,389.4 745.5,389.5 749,389.6 752.5,389.7 756,389.8 759.5,389.9 763.1,390 766.6,390.1 770.1,390.2 773.6,390.3 777.2,390.3 780.7,390.4 784.2,390.5 787.7,390.5" fill="none" stroke="#2b9db0" stroke-width="1.1" stroke-linejoin="round"/><path d="M643.3,387.4 644,386.5 644.7,385.5 645.4,384.4 646.1,383 646.8,381.6 647.5,379.9 648.2,378.1 648.9,376.2 649.6,374.1 650.3,371.8 651,369.4 651.8,366.9 652.5,364.3 653.2,361.6 653.9,358.8 654.6,356 655.3,353.2 656,350.3 656.7,347.4 657.4,344.6 658.1,341.8 658.8,339.1 659.5,336.5 660.2,334 660.9,331.6 661.6,329.4 662.3,327.3 663,325.4 663.7,323.6 664.4,322.1 665.1,320.8 665.8,319.6 666.5,318.7 667.3,318 668,317.6 668.7,317.4 669.4,317.4 670.1,317.5 670.8,317.8 671.5,318.2 672.2,318.8 672.9,319.5 673.6,320.4 674.3,321.3 675,322.4 675.7,323.6 676.4,324.9 677.1,326.3 677.8,327.8 678.5,329.4 679.2,331.1 679.9,332.8 680.6,334.6 681.3,336.4 682,338.3 682.8,340.2 683.5,342.1 684.2,344 684.9,346 685.6,347.9 686.3,349.8 687,351.8 687.7,353.7 688.4,355.5 689.1,357.4 689.8,359.2 690.5,360.9 691.2,362.7 691.9,364.3 692.6,365.9 693.3,367.5 694,369 694.7,370.4 695.4,371.8 696.1,373.1 696.8,374.4 697.5,375.6 698.3,376.7 699,377.8 699.7,378.8 700.4,379.8 701.1,380.7 701.8,381.5 702.5,382.3 703.2,383 703.9,383.7 704.6,384.3 705.3,384.9 706,385.4 706.7,385.8 707.4,386.2 708.1,386.6 708.8,386.9 709.5,387.1 710.2,387.3 710.9,387.5 711.6,387.6 712.3,387.7 713,387.8 713.8,387.9 714.5,388 715.2,388 715.9,388.1 716.6,388.1 717.3,388.2 718.7,388.3 720.1,388.3 721.5,388.4 722.9,388.5 724.3,388.6 725.7,388.6 727.1,388.7 728.5,388.8 730,388.8 731.4,388.9 732.8,389 734.2,389 735.6,389.1 737,389.2 738.4,389.2 739.8,389.3 741.2,389.3 742.6,389.4 744,389.4 745.5,389.5 749,389.6 752.5,389.7 756,389.8 759.5,389.9 763.1,390 766.6,390.1 770.1,390.2 773.6,390.3 777.2,390.3 780.7,390.4 784.2,390.5 787.7,390.5" fill="none" stroke="#2a9a3c" stroke-width="1.1" stroke-linejoin="round"/><path d="M643.3,387 644,386 644.7,384.9 645.4,383.6 646.1,382.1 646.8,380.5 647.5,378.7 648.2,376.7 648.9,374.5 649.6,372.2 650.3,369.7 651,367.1 651.8,364.4 652.5,361.5 653.2,358.5 653.9,355.4 654.6,352.3 655.3,349.1 656,346 656.7,342.8 657.4,339.6 658.1,336.6 658.8,333.5 659.5,330.6 660.2,327.8 660.9,325.1 661.6,322.6 662.3,320.3 663,318.1 663.7,316.2 664.4,314.4 665.1,312.9 665.8,311.6 666.5,310.5 667.3,309.7 668,309.1 668.7,308.8 669.4,308.7 670.1,308.8 670.8,309.1 671.5,309.5 672.2,310.1 672.9,310.9 673.6,311.8 674.3,312.8 675,313.9 675.7,315.2 676.4,316.6 677.1,318.1 677.8,319.7 678.5,321.4 679.2,323.2 679.9,325 680.6,327 681.3,328.9 682,331 682.8,333 683.5,335.1 684.2,337.2 684.9,339.3 685.6,341.4 686.3,343.6 687,345.7 687.7,347.7 688.4,349.8 689.1,351.8 689.8,353.8 690.5,355.8 691.2,357.7 691.9,359.5 692.6,361.3 693.3,363.1 694,364.7 694.7,366.4 695.4,367.9 696.1,369.4 696.8,370.8 697.5,372.2 698.3,373.5 699,374.8 699.7,375.9 700.4,377 701.1,378.1 701.8,379.1 702.5,380 703.2,380.9 703.9,381.7 704.6,382.5 705.3,383.2 706,383.8 706.7,384.4 707.4,385 708.1,385.4 708.8,385.9 709.5,386.3 710.2,386.6 710.9,386.9 711.6,387.2 712.3,387.4 713,387.6 713.8,387.7 714.5,387.8 715.2,387.9 715.9,388 716.6,388.1 717.3,388.1 718.7,388.2 720.1,388.3 721.5,388.4 722.9,388.5 724.3,388.6 725.7,388.6 727.1,388.7 728.5,388.8 730,388.8 731.4,388.9 732.8,389 734.2,389 735.6,389.1 737,389.2 738.4,389.2 739.8,389.3 741.2,389.3 742.6,389.4 744,389.4 745.5,389.5 749,389.6 752.5,389.7 756,389.8 759.5,389.9 763.1,390 766.6,390.1 770.1,390.2 773.6,390.3 777.2,390.3 780.7,390.4 784.2,390.5 787.7,390.5" fill="none" stroke="#c9c92a" stroke-width="1.1" stroke-linejoin="round"/><path d="M643.3,386.4 644,385.3 644.7,384 645.4,382.6 646.1,380.9 646.8,379.1 647.5,377.1 648.2,374.9 648.9,372.5 649.6,369.9 650.3,367.1 651,364.1 651.8,361.1 652.5,357.8 653.2,354.5 653.9,351 654.6,347.5 655.3,344 656,340.4 656.7,336.8 657.4,333.3 658.1,329.8 658.8,326.4 659.5,323 660.2,319.8 660.9,316.8 661.6,313.9 662.3,311.2 663,308.7 663.7,306.4 664.4,304.4 665.1,302.6 665.8,301 666.5,299.8 667.3,298.7 668,298 668.7,297.5 669.4,297.4 670.1,297.4 670.8,297.7 671.5,298.1 672.2,298.7 672.9,299.5 673.6,300.4 674.3,301.5 675,302.7 675.7,304.1 676.4,305.6 677.1,307.2 677.8,309 678.5,310.8 679.2,312.7 679.9,314.7 680.6,316.8 681.3,319 682,321.2 682.8,323.4 683.5,325.7 684.2,328 684.9,330.3 685.6,332.7 686.3,335 687,337.3 687.7,339.6 688.4,341.9 689.1,344.1 689.8,346.3 690.5,348.5 691.2,350.6 691.9,352.7 692.6,354.7 693.3,356.6 694,358.5 694.7,360.4 695.4,362.1 696.1,363.9 696.8,365.5 697.5,367.1 698.3,368.6 699,370 699.7,371.4 700.4,372.7 701.1,373.9 701.8,375.1 702.5,376.2 703.2,377.3 703.9,378.3 704.6,379.2 705.3,380.1 706,380.9 706.7,381.7 707.4,382.4 708.1,383.1 708.8,383.7 709.5,384.3 710.2,384.9 710.9,385.3 711.6,385.8 712.3,386.2 713,386.5 713.8,386.8 714.5,387.1 715.2,387.4 715.9,387.6 716.6,387.7 717.3,387.9 718.7,388.1 720.1,388.3 721.5,388.4 722.9,388.5 724.3,388.6 725.7,388.6 727.1,388.7 728.5,388.8 730,388.8 731.4,388.9 732.8,389 734.2,389 735.6,389.1 737,389.2 738.4,389.2 739.8,389.3 741.2,389.3 742.6,389.4 744,389.4 745.5,389.5 749,389.6 752.5,389.7 756,389.8 759.5,389.9 763.1,390 766.6,390.1 770.1,390.2 773.6,390.3 777.2,390.3 780.7,390.4 784.2,390.5 787.7,390.5" fill="none" stroke="#f07a2c" stroke-width="1.1" stroke-linejoin="round"/><path d="M643.3,385.8 644,384.5 644.7,383.1 645.4,381.5 646.1,379.7 646.8,377.7 647.5,375.4 648.2,373 648.9,370.3 649.6,367.4 650.3,364.3 651,361 651.8,357.6 652.5,354 653.2,350.3 653.9,346.5 654.6,342.6 655.3,338.6 656,334.6 656.7,330.6 657.4,326.6 658.1,322.7 658.8,318.8 659.5,315.1 660.2,311.5 660.9,308 661.6,304.7 662.3,301.7 663,298.8 663.7,296.2 664.4,293.8 665.1,291.7 665.8,289.9 666.5,288.3 667.3,287.1 668,286.1 668.7,285.5 669.4,285.2 670.1,285.2 670.8,285.4 671.5,285.8 672.2,286.4 672.9,287.2 673.6,288.2 674.3,289.3 675,290.7 675.7,292.2 676.4,293.8 677.1,295.6 677.8,297.4 678.5,299.5 679.2,301.5 679.9,303.7 680.6,306 681.3,308.3 682,310.7 682.8,313.1 683.5,315.6 684.2,318.1 684.9,320.6 685.6,323.1 686.3,325.6 687,328.1 687.7,330.6 688.4,333 689.1,335.4 689.8,337.8 690.5,340.2 691.2,342.5 691.9,344.7 692.6,346.9 693.3,349 694,351.1 694.7,353.1 695.4,355.1 696.1,357 696.8,358.8 697.5,360.5 698.3,362.2 699,363.8 699.7,365.4 700.4,366.9 701.1,368.3 701.8,369.7 702.5,371 703.2,372.2 703.9,373.4 704.6,374.5 705.3,375.6 706,376.6 706.7,377.5 707.4,378.4 708.1,379.3 708.8,380.1 709.5,380.8 710.2,381.5 710.9,382.2 711.6,382.8 712.3,383.4 713,383.9 713.8,384.5 714.5,384.9 715.2,385.4 715.9,385.8 716.6,386.1 717.3,386.5 718.7,387.1 720.1,387.5 721.5,387.9 722.9,388.2 724.3,388.4 725.7,388.5 727.1,388.6 728.5,388.7 730,388.8 731.4,388.9 732.8,389 734.2,389 735.6,389.1 737,389.2 738.4,389.2 739.8,389.3 741.2,389.3 742.6,389.4 744,389.4 745.5,389.5 749,389.6 752.5,389.7 756,389.8 759.5,389.9 763.1,390 766.6,390.1 770.1,390.2 773.6,390.3 777.2,390.3 780.7,390.4 784.2,390.5 787.7,390.5" fill="none" stroke="#e42b2b" stroke-width="1.1" stroke-linejoin="round"/><path d="M643.3,385.8 644,384.3 644.7,382.5 645.4,380.4 646.1,377.9 646.8,375.1 647.5,371.9 648.2,368.5 648.9,364.6 649.6,360.5 650.3,356 651,351.3 651.8,346.3 652.5,341.1 653.2,335.8 653.9,330.4 654.6,324.9 655.3,319.3 656,313.8 656.7,308.4 657.4,303.1 658.1,297.9 658.8,293 659.5,288.2 660.2,283.7 660.9,279.5 661.6,275.5 662.3,271.9 663,268.6 663.7,265.6 664.4,263 665.1,260.7 665.8,258.8 666.5,257.2 667.3,256 668,255.2 668.7,254.7 669.4,254.6 670.1,254.8 670.8,255.2 671.5,255.8 672.2,256.7 672.9,257.8 673.6,259 674.3,260.4 675,262 675.7,263.8 676.4,265.7 677.1,267.8 677.8,270 678.5,272.3 679.2,274.6 679.9,277.1 680.6,279.7 681.3,282.3 682,285 682.8,287.7 683.5,290.5 684.2,293.3 684.9,296.1 685.6,299 686.3,301.8 687,304.6 687.7,307.4 688.4,310.2 689.1,313 689.8,315.8 690.5,318.5 691.2,321.1 691.9,323.8 692.6,326.3 693.3,328.9 694,331.3 694.7,333.7 695.4,336.1 696.1,338.4 696.8,340.6 697.5,342.8 698.3,344.9 699,346.9 699.7,348.9 700.4,350.8 701.1,352.7 701.8,354.5 702.5,356.2 703.2,357.9 703.9,359.5 704.6,361 705.3,362.5 706,363.9 706.7,365.3 707.4,366.6 708.1,367.8 708.8,369 709.5,370.1 710.2,371.2 710.9,372.3 711.6,373.3 712.3,374.2 713,375.1 713.8,376 714.5,376.8 715.2,377.6 715.9,378.3 716.6,379 717.3,379.6 718.7,380.8 720.1,381.9 721.5,382.9 722.9,383.7 724.3,384.4 725.7,385 727.1,385.6 728.5,386.1 730,386.4 731.4,386.8 732.8,387.1 734.2,387.3 735.6,387.6 737,387.8 738.4,387.9 739.8,388.1 741.2,388.3 742.6,388.4 744,388.5 745.5,388.7 749,388.9 752.5,389.2 756,389.4 759.5,389.6 763.1,389.8 766.6,390 770.1,390.1 773.6,390.2 777.2,390.4 780.7,390.5 784.2,390.6 787.7,390.6" fill="none" stroke="#2c2c2c" stroke-width="1.0" stroke-linejoin="round"/><path d="M643.30,246.70V391.40H788.42" fill="none" stroke="#111" stroke-width="1.5" stroke-linecap="butt"/><path d="M639.30,391.40H643.30" stroke="#111" stroke-width="1.4"/><text x="637.70" y="395.50" text-anchor="end" font-size="10">0.0</text><path d="M641.30,377.71H643.30" stroke="#111" stroke-width="1.4"/><path d="M639.30,364.02H643.30" stroke="#111" stroke-width="1.4"/><text x="637.70" y="368.12" text-anchor="end" font-size="10">0.2</text><path d="M641.30,350.33H643.30" stroke="#111" stroke-width="1.4"/><path d="M639.30,336.64H643.30" stroke="#111" stroke-width="1.4"/><text x="637.70" y="340.74" text-anchor="end" font-size="10">0.4</text><path d="M641.30,322.95H643.30" stroke="#111" stroke-width="1.4"/><path d="M639.30,309.26H643.30" stroke="#111" stroke-width="1.4"/><text x="637.70" y="313.36" text-anchor="end" font-size="10">0.6</text><path d="M641.30,295.57H643.30" stroke="#111" stroke-width="1.4"/><path d="M639.30,281.88H643.30" stroke="#111" stroke-width="1.4"/><text x="637.70" y="285.98" text-anchor="end" font-size="10">0.8</text><path d="M641.30,268.19H643.30" stroke="#111" stroke-width="1.4"/><path d="M639.30,254.50H643.30" stroke="#111" stroke-width="1.4"/><text x="637.70" y="258.60" text-anchor="end" font-size="10">1.0</text><path d="M646.82,391.40V395.40" stroke="#111" stroke-width="1.4"/><text x="646.82" y="408.30" text-anchor="middle" font-size="10">300</text><path d="M664.43,391.40V393.60" stroke="#111" stroke-width="1.4"/><path d="M682.05,391.40V395.40" stroke="#111" stroke-width="1.4"/><text x="682.05" y="408.30" text-anchor="middle" font-size="10">350</text><path d="M699.66,391.40V393.60" stroke="#111" stroke-width="1.4"/><path d="M717.27,391.40V395.40" stroke="#111" stroke-width="1.4"/><text x="717.27" y="408.30" text-anchor="middle" font-size="10">400</text><path d="M734.88,391.40V393.60" stroke="#111" stroke-width="1.4"/><path d="M752.50,391.40V395.40" stroke="#111" stroke-width="1.4"/><text x="752.50" y="408.30" text-anchor="middle" font-size="10">450</text><path d="M770.11,391.40V393.60" stroke="#111" stroke-width="1.4"/><path d="M787.72,391.40V395.40" stroke="#111" stroke-width="1.4"/><text x="787.72" y="408.30" text-anchor="middle" font-size="10">500</text><text x="715.21" y="425.80" text-anchor="middle" font-size="11" textLength="88.4" lengthAdjust="spacingAndGlyphs">Wavelength (nm)</text><text x="715.21" y="247.60" text-anchor="middle" font-size="11" textLength="84.6" lengthAdjust="spacingAndGlyphs">WPI-Zx at pH 9.5</text><text transform="translate(617.40,318.65) rotate(-90)" text-anchor="middle" font-size="11" textLength="139.8" lengthAdjust="spacingAndGlyphs">Fluorescence intensity (a.u.)</text><text transform="translate(605.74,238.70) scale(0.926,1)" font-size="23.5" font-weight="bold" style="fill:#000">H</text><path d="M720.70,298.30V331.30" stroke="#222" stroke-width="1"/><path d="M719.15,329.00L722.25,329.00L721.50,336.10L720.70,337.30L719.90,336.10Z" fill="#111"/><text x="723.90" y="305.20" font-size="9" textLength="20.6" lengthAdjust="spacingAndGlyphs">0 μM</text><text x="723.90" y="337.30" font-size="9" textLength="33.6" lengthAdjust="spacingAndGlyphs">22.5 μM</text></g>
</svg></body></html>
